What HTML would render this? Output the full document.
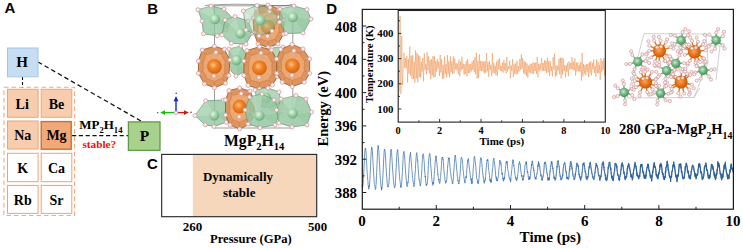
<!DOCTYPE html>
<html><head><meta charset="utf-8">
<style>
html,body{margin:0;padding:0;background:#fff;}
body{width:743px;height:248px;overflow:hidden;position:relative;}
svg{position:absolute;left:0;top:0;}
.sf{font-family:"Liberation Serif",serif;font-weight:bold;}
.ss{font-family:"Liberation Sans",sans-serif;font-weight:bold;}
</style></head><body>
<svg width="743" height="248" viewBox="0 0 743 248">
<defs>
<radialGradient id="gO" cx="0.42" cy="0.4" r="0.62">
 <stop offset="0" stop-color="#ffc68a"/><stop offset="0.4" stop-color="#f4862a"/><stop offset="1" stop-color="#d06410"/>
</radialGradient>
<radialGradient id="gG" cx="0.4" cy="0.38" r="0.65">
 <stop offset="0" stop-color="#e4f5e6"/><stop offset="0.5" stop-color="#9fd3a8"/><stop offset="1" stop-color="#6aa97a"/>
</radialGradient>
<radialGradient id="gG2" cx="0.42" cy="0.4" r="0.62">
 <stop offset="0" stop-color="#cdebd3"/><stop offset="0.5" stop-color="#74b684"/><stop offset="1" stop-color="#468c58"/>
</radialGradient>
<radialGradient id="gO2" cx="0.45" cy="0.45" r="0.6">
 <stop offset="0" stop-color="#fba55a"/><stop offset="0.5" stop-color="#e8741a"/><stop offset="1" stop-color="#b8560c"/>
</radialGradient>
<linearGradient id="gE" gradientUnits="userSpaceOnUse" x1="520" y1="0" x2="640" y2="0">
 <stop offset="0" stop-color="#2b5f98" stop-opacity="0"/><stop offset="1" stop-color="#2b5f98" stop-opacity="0.9"/>
</linearGradient>
</defs>

<!-- ===== Panel labels ===== -->
<text class="ss" x="4.5" y="13.4" font-size="15">A</text>
<text class="ss" x="147.3" y="13.6" font-size="15">B</text>
<text class="ss" x="147.1" y="168.5" font-size="15">C</text>
<text class="ss" x="326.3" y="13.5" font-size="15">D</text>

<!-- ===== Panel A ===== -->
<line x1="38" y1="62" x2="141" y2="121" stroke="#111" stroke-width="1.25" stroke-dasharray="4.6,3"/>
<line x1="22.5" y1="77" x2="22.5" y2="88" stroke="#111" stroke-width="1.1" stroke-dasharray="3,2"/>
<rect x="7.5" y="48" width="30.5" height="28.8" fill="#c7ddf2" stroke="#a3c6e8" stroke-width="1"/>
<text class="sf" x="22" y="66.5" font-size="15" text-anchor="middle">H</text>

<rect x="4" y="87.2" width="70.6" height="128.3" fill="none" stroke="#f2aa7a" stroke-width="1.1" stroke-dasharray="4.5,3"/>
<g stroke-width="1">
<rect x="7.5" y="89.3" width="30.6" height="28" fill="#f8cdae" stroke="#eda474"/>
<rect x="41.2" y="89.3" width="30.6" height="28" fill="#f8cdae" stroke="#eda474"/>
<rect x="7.5" y="121" width="30.6" height="28" fill="#f8cdae" stroke="#eda474"/>
<rect x="41.2" y="121.6" width="30" height="27.6" fill="#f3a877" stroke="#c87032" stroke-width="1.4"/>
<rect x="7.5" y="153.3" width="30.6" height="28.4" fill="#fff" stroke="#eda474"/>
<rect x="41.2" y="153.3" width="30.6" height="28.4" fill="#fff" stroke="#eda474"/>
<rect x="7.5" y="185.4" width="30.6" height="28" fill="#fff" stroke="#eda474"/>
<rect x="41.2" y="185.4" width="30.6" height="28" fill="#fff" stroke="#eda474"/>
</g>
<g class="sf" font-size="14" text-anchor="middle" fill="#000">
<text x="22.2" y="108.5">Li</text>
<text x="56.5" y="108.5">Be</text>
<text x="22.8" y="140.2">Na</text>
<text x="56.5" y="140.2">Mg</text>
<text x="22.8" y="172.7">K</text>
<text x="56.5" y="172.7">Ca</text>
<text x="22.8" y="204.6">Rb</text>
<text x="56.5" y="204.6">Sr</text>
</g>
<line x1="72" y1="135.6" x2="128" y2="135.6" stroke="#111" stroke-width="1.25" stroke-dasharray="4.2,2.6"/>
<text class="sf" x="79.2" y="129.2" font-size="13">MP<tspan font-size="8.6" dy="3.9">2</tspan><tspan dy="-3.9">H</tspan><tspan font-size="8.6" dy="3.9">14</tspan></text>
<text class="sf" x="99.3" y="148.3" font-size="11.2" fill="#f01010" text-anchor="middle">stable?</text>
<rect x="128.4" y="121.9" width="31.6" height="28.5" fill="#a9d18e" stroke="#5f9c45" stroke-width="1.3"/>
<text class="sf" x="144.6" y="141.2" font-size="15.5" text-anchor="middle">P</text>

<!-- ===== Panel B crystal ===== -->
<g id="crystalB">
<path d="M214.5,5.8 L292.8,5.8 M214.5,5.8 L214.5,128 M292.8,5.8 L292.8,128 M214.5,128 L292.8,128 M259.2,5.8 L259.2,128" stroke="#4a4a4a" stroke-width="0.55" fill="none"/>
<path d="M205,5.5 Q235,3.2 262,5 T292,4.2" stroke="#4a4a4a" stroke-width="0.55" fill="none"/>
<polygon points="256.0,8.0 268.0,5.0 279.0,9.0 284.0,20.0 283.5,34.0 278.0,44.0 268.0,47.4 258.0,44.0 254.0,33.0 253.0,18.0" fill="#dc9058" fill-opacity="0.95" stroke="#9c5420" stroke-width="0.8" stroke-linejoin="round"/>
<polygon points="259.6,13.7 268.0,11.6 275.7,14.4 279.2,22.1 278.9,31.9 275.0,38.9 268.0,41.3 261.0,38.9 258.2,31.2 257.5,20.7" fill="#eeab78" fill-opacity="0.8" stroke="#c47036" stroke-width="0.45"/>
<line x1="256.0" y1="8.0" x2="259.6" y2="13.7" stroke="#c46c2a" stroke-width="0.45"/>
<line x1="268.0" y1="5.0" x2="268.0" y2="11.6" stroke="#c46c2a" stroke-width="0.45"/>
<line x1="279.0" y1="9.0" x2="275.7" y2="14.4" stroke="#c46c2a" stroke-width="0.45"/>
<line x1="284.0" y1="20.0" x2="279.2" y2="22.1" stroke="#c46c2a" stroke-width="0.45"/>
<line x1="283.5" y1="34.0" x2="278.9" y2="31.9" stroke="#c46c2a" stroke-width="0.45"/>
<line x1="278.0" y1="44.0" x2="275.0" y2="38.9" stroke="#c46c2a" stroke-width="0.45"/>
<line x1="268.0" y1="47.4" x2="268.0" y2="41.3" stroke="#c46c2a" stroke-width="0.45"/>
<line x1="258.0" y1="44.0" x2="261.0" y2="38.9" stroke="#c46c2a" stroke-width="0.45"/>
<line x1="254.0" y1="33.0" x2="258.2" y2="31.2" stroke="#c46c2a" stroke-width="0.45"/>
<line x1="253.0" y1="18.0" x2="257.5" y2="20.7" stroke="#c46c2a" stroke-width="0.45"/>
<line x1="268" y1="27" x2="259.6" y2="13.7" stroke="#f6b37a" stroke-width="0.5"/>
<line x1="268" y1="27" x2="268.0" y2="11.6" stroke="#f6b37a" stroke-width="0.5"/>
<line x1="268" y1="27" x2="275.7" y2="14.4" stroke="#f6b37a" stroke-width="0.5"/>
<line x1="268" y1="27" x2="279.2" y2="22.1" stroke="#f6b37a" stroke-width="0.5"/>
<line x1="268" y1="27" x2="278.9" y2="31.9" stroke="#f6b37a" stroke-width="0.5"/>
<line x1="268" y1="27" x2="275.0" y2="38.9" stroke="#f6b37a" stroke-width="0.5"/>
<line x1="268" y1="27" x2="268.0" y2="41.3" stroke="#f6b37a" stroke-width="0.5"/>
<line x1="268" y1="27" x2="261.0" y2="38.9" stroke="#f6b37a" stroke-width="0.5"/>
<line x1="268" y1="27" x2="258.2" y2="31.2" stroke="#f6b37a" stroke-width="0.5"/>
<line x1="268" y1="27" x2="257.5" y2="20.7" stroke="#f6b37a" stroke-width="0.5"/>
<circle cx="268" cy="27" r="7.0" fill="url(#gO)"/>
<circle cx="256.0" cy="8.0" r="2.0" fill="#fbeeee" stroke="#d39595" stroke-width="0.75"/>
<circle cx="268.0" cy="5.0" r="2.0" fill="#fbeeee" stroke="#d39595" stroke-width="0.75"/>
<circle cx="279.0" cy="9.0" r="2.0" fill="#fbeeee" stroke="#d39595" stroke-width="0.75"/>
<circle cx="284.0" cy="20.0" r="2.0" fill="#fbeeee" stroke="#d39595" stroke-width="0.75"/>
<circle cx="283.5" cy="34.0" r="2.0" fill="#fbeeee" stroke="#d39595" stroke-width="0.75"/>
<circle cx="278.0" cy="44.0" r="2.0" fill="#fbeeee" stroke="#d39595" stroke-width="0.75"/>
<circle cx="268.0" cy="47.4" r="2.0" fill="#fbeeee" stroke="#d39595" stroke-width="0.75"/>
<circle cx="258.0" cy="44.0" r="2.0" fill="#fbeeee" stroke="#d39595" stroke-width="0.75"/>
<circle cx="254.0" cy="33.0" r="2.0" fill="#fbeeee" stroke="#d39595" stroke-width="0.75"/>
<circle cx="253.0" cy="18.0" r="2.0" fill="#fbeeee" stroke="#d39595" stroke-width="0.75"/>
<circle cx="269.5" cy="11.6" r="2.0" fill="#fbeeee" stroke="#d39595" stroke-width="0.75"/>
<circle cx="267.5" cy="36.2" r="2.0" fill="#fbeeee" stroke="#d39595" stroke-width="0.75"/>
<polygon points="198.0,9.7 211.0,6.0 224.0,9.0 233.3,19.0 226.0,30.0 217.2,35.8 203.5,33.8 202.0,21.0" fill="#93c6a0" fill-opacity="0.8" stroke="#5e9a6e" stroke-width="0.7" stroke-linejoin="round"/>
<line x1="214.8" y1="19.1" x2="198.0" y2="9.7" stroke="#bfe0c6" stroke-width="0.5" stroke-opacity="0.7"/>
<line x1="214.8" y1="19.1" x2="211.0" y2="6.0" stroke="#bfe0c6" stroke-width="0.5" stroke-opacity="0.7"/>
<line x1="214.8" y1="19.1" x2="224.0" y2="9.0" stroke="#bfe0c6" stroke-width="0.5" stroke-opacity="0.7"/>
<line x1="214.8" y1="19.1" x2="233.3" y2="19.0" stroke="#bfe0c6" stroke-width="0.5" stroke-opacity="0.7"/>
<line x1="214.8" y1="19.1" x2="226.0" y2="30.0" stroke="#bfe0c6" stroke-width="0.5" stroke-opacity="0.7"/>
<line x1="214.8" y1="19.1" x2="217.2" y2="35.8" stroke="#bfe0c6" stroke-width="0.5" stroke-opacity="0.7"/>
<line x1="214.8" y1="19.1" x2="203.5" y2="33.8" stroke="#bfe0c6" stroke-width="0.5" stroke-opacity="0.7"/>
<line x1="214.8" y1="19.1" x2="202.0" y2="21.0" stroke="#bfe0c6" stroke-width="0.5" stroke-opacity="0.7"/>
<polygon points="214.8,19.1 198.0,9.7 211.0,6.0" fill="#c4e4cb" fill-opacity="0.45"/>
<polygon points="214.8,19.1 233.3,19.0 226.0,30.0" fill="#7fbb90" fill-opacity="0.25"/>
<circle cx="214.8" cy="19.1" r="5.2" fill="url(#gG)"/>
<circle cx="198.0" cy="9.7" r="2.0" fill="#fbeeee" stroke="#d39595" stroke-width="0.75"/>
<circle cx="211.0" cy="6.0" r="2.0" fill="#fbeeee" stroke="#d39595" stroke-width="0.75"/>
<circle cx="224.0" cy="9.0" r="2.0" fill="#fbeeee" stroke="#d39595" stroke-width="0.75"/>
<circle cx="233.3" cy="19.0" r="2.0" fill="#fbeeee" stroke="#d39595" stroke-width="0.75"/>
<circle cx="226.0" cy="30.0" r="2.0" fill="#fbeeee" stroke="#d39595" stroke-width="0.75"/>
<circle cx="217.2" cy="35.8" r="2.0" fill="#fbeeee" stroke="#d39595" stroke-width="0.75"/>
<circle cx="203.5" cy="33.8" r="2.0" fill="#fbeeee" stroke="#d39595" stroke-width="0.75"/>
<circle cx="202.0" cy="21.0" r="2.0" fill="#fbeeee" stroke="#d39595" stroke-width="0.75"/>
<polygon points="225.0,20.0 235.0,16.5 248.0,21.0 252.5,33.0 246.0,44.0 231.3,43.3 222.0,35.0" fill="#93c6a0" fill-opacity="0.8" stroke="#5e9a6e" stroke-width="0.7" stroke-linejoin="round"/>
<line x1="240.3" y1="33.2" x2="225.0" y2="20.0" stroke="#bfe0c6" stroke-width="0.5" stroke-opacity="0.7"/>
<line x1="240.3" y1="33.2" x2="235.0" y2="16.5" stroke="#bfe0c6" stroke-width="0.5" stroke-opacity="0.7"/>
<line x1="240.3" y1="33.2" x2="248.0" y2="21.0" stroke="#bfe0c6" stroke-width="0.5" stroke-opacity="0.7"/>
<line x1="240.3" y1="33.2" x2="252.5" y2="33.0" stroke="#bfe0c6" stroke-width="0.5" stroke-opacity="0.7"/>
<line x1="240.3" y1="33.2" x2="246.0" y2="44.0" stroke="#bfe0c6" stroke-width="0.5" stroke-opacity="0.7"/>
<line x1="240.3" y1="33.2" x2="231.3" y2="43.3" stroke="#bfe0c6" stroke-width="0.5" stroke-opacity="0.7"/>
<line x1="240.3" y1="33.2" x2="222.0" y2="35.0" stroke="#bfe0c6" stroke-width="0.5" stroke-opacity="0.7"/>
<polygon points="240.3,33.2 225.0,20.0 235.0,16.5" fill="#c4e4cb" fill-opacity="0.45"/>
<polygon points="240.3,33.2 252.5,33.0 246.0,44.0" fill="#7fbb90" fill-opacity="0.25"/>
<circle cx="240.3" cy="33.2" r="5.2" fill="url(#gG)"/>
<circle cx="225.0" cy="20.0" r="2.0" fill="#fbeeee" stroke="#d39595" stroke-width="0.75"/>
<circle cx="235.0" cy="16.5" r="2.0" fill="#fbeeee" stroke="#d39595" stroke-width="0.75"/>
<circle cx="248.0" cy="21.0" r="2.0" fill="#fbeeee" stroke="#d39595" stroke-width="0.75"/>
<circle cx="252.5" cy="33.0" r="2.0" fill="#fbeeee" stroke="#d39595" stroke-width="0.75"/>
<circle cx="246.0" cy="44.0" r="2.0" fill="#fbeeee" stroke="#d39595" stroke-width="0.75"/>
<circle cx="231.3" cy="43.3" r="2.0" fill="#fbeeee" stroke="#d39595" stroke-width="0.75"/>
<circle cx="222.0" cy="35.0" r="2.0" fill="#fbeeee" stroke="#d39595" stroke-width="0.75"/>
<polygon points="243.3,11.0 257.0,5.5 270.0,7.5 279.0,17.0 272.0,31.0 259.0,36.0 246.0,30.0" fill="#93c6a0" fill-opacity="0.38" stroke="#5e9a6e" stroke-width="0.7" stroke-linejoin="round"/>
<line x1="260.2" y1="20.2" x2="243.3" y2="11.0" stroke="#bfe0c6" stroke-width="0.5" stroke-opacity="0.7"/>
<line x1="260.2" y1="20.2" x2="257.0" y2="5.5" stroke="#bfe0c6" stroke-width="0.5" stroke-opacity="0.7"/>
<line x1="260.2" y1="20.2" x2="270.0" y2="7.5" stroke="#bfe0c6" stroke-width="0.5" stroke-opacity="0.7"/>
<line x1="260.2" y1="20.2" x2="279.0" y2="17.0" stroke="#bfe0c6" stroke-width="0.5" stroke-opacity="0.7"/>
<line x1="260.2" y1="20.2" x2="272.0" y2="31.0" stroke="#bfe0c6" stroke-width="0.5" stroke-opacity="0.7"/>
<line x1="260.2" y1="20.2" x2="259.0" y2="36.0" stroke="#bfe0c6" stroke-width="0.5" stroke-opacity="0.7"/>
<line x1="260.2" y1="20.2" x2="246.0" y2="30.0" stroke="#bfe0c6" stroke-width="0.5" stroke-opacity="0.7"/>
<polygon points="260.2,20.2 243.3,11.0 257.0,5.5" fill="#c4e4cb" fill-opacity="0.45"/>
<polygon points="260.2,20.2 279.0,17.0 272.0,31.0" fill="#7fbb90" fill-opacity="0.25"/>
<circle cx="260.2" cy="20.2" r="5.2" fill="url(#gG)"/>
<circle cx="243.3" cy="11.0" r="2.0" fill="#fbeeee" stroke="#d39595" stroke-width="0.75"/>
<circle cx="257.0" cy="5.5" r="2.0" fill="#fbeeee" stroke="#d39595" stroke-width="0.75"/>
<circle cx="270.0" cy="7.5" r="2.0" fill="#fbeeee" stroke="#d39595" stroke-width="0.75"/>
<circle cx="279.0" cy="17.0" r="2.0" fill="#fbeeee" stroke="#d39595" stroke-width="0.75"/>
<circle cx="272.0" cy="31.0" r="2.0" fill="#fbeeee" stroke="#d39595" stroke-width="0.75"/>
<circle cx="259.0" cy="36.0" r="2.0" fill="#fbeeee" stroke="#d39595" stroke-width="0.75"/>
<circle cx="246.0" cy="30.0" r="2.0" fill="#fbeeee" stroke="#d39595" stroke-width="0.75"/>
<polygon points="280.0,9.0 294.0,6.0 307.0,9.5 311.0,19.0 303.0,33.0 286.0,33.5 279.5,22.0" fill="#93c6a0" fill-opacity="0.8" stroke="#5e9a6e" stroke-width="0.7" stroke-linejoin="round"/>
<line x1="292.8" y1="17.1" x2="280.0" y2="9.0" stroke="#bfe0c6" stroke-width="0.5" stroke-opacity="0.7"/>
<line x1="292.8" y1="17.1" x2="294.0" y2="6.0" stroke="#bfe0c6" stroke-width="0.5" stroke-opacity="0.7"/>
<line x1="292.8" y1="17.1" x2="307.0" y2="9.5" stroke="#bfe0c6" stroke-width="0.5" stroke-opacity="0.7"/>
<line x1="292.8" y1="17.1" x2="311.0" y2="19.0" stroke="#bfe0c6" stroke-width="0.5" stroke-opacity="0.7"/>
<line x1="292.8" y1="17.1" x2="303.0" y2="33.0" stroke="#bfe0c6" stroke-width="0.5" stroke-opacity="0.7"/>
<line x1="292.8" y1="17.1" x2="286.0" y2="33.5" stroke="#bfe0c6" stroke-width="0.5" stroke-opacity="0.7"/>
<line x1="292.8" y1="17.1" x2="279.5" y2="22.0" stroke="#bfe0c6" stroke-width="0.5" stroke-opacity="0.7"/>
<polygon points="292.8,17.1 280.0,9.0 294.0,6.0" fill="#c4e4cb" fill-opacity="0.45"/>
<polygon points="292.8,17.1 311.0,19.0 303.0,33.0" fill="#7fbb90" fill-opacity="0.25"/>
<circle cx="292.8" cy="17.1" r="5.2" fill="url(#gG)"/>
<circle cx="280.0" cy="9.0" r="2.0" fill="#fbeeee" stroke="#d39595" stroke-width="0.75"/>
<circle cx="294.0" cy="6.0" r="2.0" fill="#fbeeee" stroke="#d39595" stroke-width="0.75"/>
<circle cx="307.0" cy="9.5" r="2.0" fill="#fbeeee" stroke="#d39595" stroke-width="0.75"/>
<circle cx="311.0" cy="19.0" r="2.0" fill="#fbeeee" stroke="#d39595" stroke-width="0.75"/>
<circle cx="303.0" cy="33.0" r="2.0" fill="#fbeeee" stroke="#d39595" stroke-width="0.75"/>
<circle cx="286.0" cy="33.5" r="2.0" fill="#fbeeee" stroke="#d39595" stroke-width="0.75"/>
<circle cx="279.5" cy="22.0" r="2.0" fill="#fbeeee" stroke="#d39595" stroke-width="0.75"/>
<polygon points="229.0,49.0 241.0,46.0 247.0,56.0 246.0,71.0 236.0,76.0 229.0,69.0" fill="#93c6a0" fill-opacity="0.85" stroke="#5e9a6e" stroke-width="0.7" stroke-linejoin="round"/>
<line x1="236.5" y1="60" x2="229.0" y2="49.0" stroke="#bfe0c6" stroke-width="0.5" stroke-opacity="0.7"/>
<line x1="236.5" y1="60" x2="241.0" y2="46.0" stroke="#bfe0c6" stroke-width="0.5" stroke-opacity="0.7"/>
<line x1="236.5" y1="60" x2="247.0" y2="56.0" stroke="#bfe0c6" stroke-width="0.5" stroke-opacity="0.7"/>
<line x1="236.5" y1="60" x2="246.0" y2="71.0" stroke="#bfe0c6" stroke-width="0.5" stroke-opacity="0.7"/>
<line x1="236.5" y1="60" x2="236.0" y2="76.0" stroke="#bfe0c6" stroke-width="0.5" stroke-opacity="0.7"/>
<line x1="236.5" y1="60" x2="229.0" y2="69.0" stroke="#bfe0c6" stroke-width="0.5" stroke-opacity="0.7"/>
<polygon points="236.5,60.0 229.0,49.0 241.0,46.0" fill="#c4e4cb" fill-opacity="0.45"/>
<polygon points="236.5,60.0 246.0,71.0 236.0,76.0" fill="#7fbb90" fill-opacity="0.25"/>
<circle cx="236.5" cy="60" r="5.2" fill="url(#gG)"/>
<circle cx="229.0" cy="49.0" r="2.0" fill="#fbeeee" stroke="#d39595" stroke-width="0.75"/>
<circle cx="241.0" cy="46.0" r="2.0" fill="#fbeeee" stroke="#d39595" stroke-width="0.75"/>
<circle cx="247.0" cy="56.0" r="2.0" fill="#fbeeee" stroke="#d39595" stroke-width="0.75"/>
<circle cx="246.0" cy="71.0" r="2.0" fill="#fbeeee" stroke="#d39595" stroke-width="0.75"/>
<circle cx="236.0" cy="76.0" r="2.0" fill="#fbeeee" stroke="#d39595" stroke-width="0.75"/>
<circle cx="229.0" cy="69.0" r="2.0" fill="#fbeeee" stroke="#d39595" stroke-width="0.75"/>
<polygon points="272.0,48.0 283.0,47.0 285.0,60.0 283.0,76.0 274.0,79.0 271.0,64.0" fill="#93c6a0" fill-opacity="0.85" stroke="#5e9a6e" stroke-width="0.7" stroke-linejoin="round"/>
<line x1="278" y1="62" x2="272.0" y2="48.0" stroke="#bfe0c6" stroke-width="0.5" stroke-opacity="0.7"/>
<line x1="278" y1="62" x2="283.0" y2="47.0" stroke="#bfe0c6" stroke-width="0.5" stroke-opacity="0.7"/>
<line x1="278" y1="62" x2="285.0" y2="60.0" stroke="#bfe0c6" stroke-width="0.5" stroke-opacity="0.7"/>
<line x1="278" y1="62" x2="283.0" y2="76.0" stroke="#bfe0c6" stroke-width="0.5" stroke-opacity="0.7"/>
<line x1="278" y1="62" x2="274.0" y2="79.0" stroke="#bfe0c6" stroke-width="0.5" stroke-opacity="0.7"/>
<line x1="278" y1="62" x2="271.0" y2="64.0" stroke="#bfe0c6" stroke-width="0.5" stroke-opacity="0.7"/>
<polygon points="278.0,62.0 272.0,48.0 283.0,47.0" fill="#c4e4cb" fill-opacity="0.45"/>
<polygon points="278.0,62.0 283.0,76.0 274.0,79.0" fill="#7fbb90" fill-opacity="0.25"/>
<circle cx="278" cy="62" r="5.2" fill="url(#gG)"/>
<circle cx="272.0" cy="48.0" r="2.0" fill="#fbeeee" stroke="#d39595" stroke-width="0.75"/>
<circle cx="283.0" cy="47.0" r="2.0" fill="#fbeeee" stroke="#d39595" stroke-width="0.75"/>
<circle cx="285.0" cy="60.0" r="2.0" fill="#fbeeee" stroke="#d39595" stroke-width="0.75"/>
<circle cx="283.0" cy="76.0" r="2.0" fill="#fbeeee" stroke="#d39595" stroke-width="0.75"/>
<circle cx="274.0" cy="79.0" r="2.0" fill="#fbeeee" stroke="#d39595" stroke-width="0.75"/>
<circle cx="271.0" cy="64.0" r="2.0" fill="#fbeeee" stroke="#d39595" stroke-width="0.75"/>
<polygon points="202.2,50.0 214.4,46.2 224.4,49.3 229.9,60.0 228.8,75.5 225.5,83.2 214.4,87.7 204.4,83.9 198.4,73.3 198.4,61.0" fill="#dc9058" fill-opacity="0.95" stroke="#9c5420" stroke-width="0.8" stroke-linejoin="round"/>
<polygon points="205.9,54.9 214.4,52.3 221.4,54.4 225.2,61.9 224.5,72.8 222.2,78.2 214.4,81.3 207.4,78.7 203.2,71.2 203.2,62.6" fill="#eeab78" fill-opacity="0.8" stroke="#c47036" stroke-width="0.45"/>
<line x1="202.2" y1="50.0" x2="205.9" y2="54.9" stroke="#c46c2a" stroke-width="0.45"/>
<line x1="214.4" y1="46.2" x2="214.4" y2="52.3" stroke="#c46c2a" stroke-width="0.45"/>
<line x1="224.4" y1="49.3" x2="221.4" y2="54.4" stroke="#c46c2a" stroke-width="0.45"/>
<line x1="229.9" y1="60.0" x2="225.2" y2="61.9" stroke="#c46c2a" stroke-width="0.45"/>
<line x1="228.8" y1="75.5" x2="224.5" y2="72.8" stroke="#c46c2a" stroke-width="0.45"/>
<line x1="225.5" y1="83.2" x2="222.2" y2="78.2" stroke="#c46c2a" stroke-width="0.45"/>
<line x1="214.4" y1="87.7" x2="214.4" y2="81.3" stroke="#c46c2a" stroke-width="0.45"/>
<line x1="204.4" y1="83.9" x2="207.4" y2="78.7" stroke="#c46c2a" stroke-width="0.45"/>
<line x1="198.4" y1="73.3" x2="203.2" y2="71.2" stroke="#c46c2a" stroke-width="0.45"/>
<line x1="198.4" y1="61.0" x2="203.2" y2="62.6" stroke="#c46c2a" stroke-width="0.45"/>
<line x1="214.4" y1="66.4" x2="205.9" y2="54.9" stroke="#f6b37a" stroke-width="0.5"/>
<line x1="214.4" y1="66.4" x2="214.4" y2="52.3" stroke="#f6b37a" stroke-width="0.5"/>
<line x1="214.4" y1="66.4" x2="221.4" y2="54.4" stroke="#f6b37a" stroke-width="0.5"/>
<line x1="214.4" y1="66.4" x2="225.2" y2="61.9" stroke="#f6b37a" stroke-width="0.5"/>
<line x1="214.4" y1="66.4" x2="224.5" y2="72.8" stroke="#f6b37a" stroke-width="0.5"/>
<line x1="214.4" y1="66.4" x2="222.2" y2="78.2" stroke="#f6b37a" stroke-width="0.5"/>
<line x1="214.4" y1="66.4" x2="214.4" y2="81.3" stroke="#f6b37a" stroke-width="0.5"/>
<line x1="214.4" y1="66.4" x2="207.4" y2="78.7" stroke="#f6b37a" stroke-width="0.5"/>
<line x1="214.4" y1="66.4" x2="203.2" y2="71.2" stroke="#f6b37a" stroke-width="0.5"/>
<line x1="214.4" y1="66.4" x2="203.2" y2="62.6" stroke="#f6b37a" stroke-width="0.5"/>
<circle cx="214.4" cy="66.4" r="7.4" fill="url(#gO)"/>
<circle cx="202.2" cy="50.0" r="2.0" fill="#fbeeee" stroke="#d39595" stroke-width="0.75"/>
<circle cx="214.4" cy="46.2" r="2.0" fill="#fbeeee" stroke="#d39595" stroke-width="0.75"/>
<circle cx="224.4" cy="49.3" r="2.0" fill="#fbeeee" stroke="#d39595" stroke-width="0.75"/>
<circle cx="229.9" cy="60.0" r="2.0" fill="#fbeeee" stroke="#d39595" stroke-width="0.75"/>
<circle cx="228.8" cy="75.5" r="2.0" fill="#fbeeee" stroke="#d39595" stroke-width="0.75"/>
<circle cx="225.5" cy="83.2" r="2.0" fill="#fbeeee" stroke="#d39595" stroke-width="0.75"/>
<circle cx="214.4" cy="87.7" r="2.0" fill="#fbeeee" stroke="#d39595" stroke-width="0.75"/>
<circle cx="204.4" cy="83.9" r="2.0" fill="#fbeeee" stroke="#d39595" stroke-width="0.75"/>
<circle cx="198.4" cy="73.3" r="2.0" fill="#fbeeee" stroke="#d39595" stroke-width="0.75"/>
<circle cx="198.4" cy="61.0" r="2.0" fill="#fbeeee" stroke="#d39595" stroke-width="0.75"/>
<circle cx="215.9" cy="52.3" r="2.0" fill="#fbeeee" stroke="#d39595" stroke-width="0.75"/>
<circle cx="213.9" cy="76.0" r="2.0" fill="#fbeeee" stroke="#d39595" stroke-width="0.75"/>
<polygon points="247.0,50.5 259.5,46.7 271.5,50.0 277.2,60.5 277.2,76.5 272.5,85.0 259.5,89.0 248.0,85.5 243.9,75.5 243.9,61.0" fill="#dc9058" fill-opacity="0.95" stroke="#9c5420" stroke-width="0.8" stroke-linejoin="round"/>
<polygon points="250.7,55.7 259.5,53.0 267.9,55.3 271.9,62.7 271.9,73.9 268.6,79.8 259.5,82.6 251.4,80.2 248.6,73.2 248.6,63.0" fill="#eeab78" fill-opacity="0.8" stroke="#c47036" stroke-width="0.45"/>
<line x1="247.0" y1="50.5" x2="250.7" y2="55.7" stroke="#c46c2a" stroke-width="0.45"/>
<line x1="259.5" y1="46.7" x2="259.5" y2="53.0" stroke="#c46c2a" stroke-width="0.45"/>
<line x1="271.5" y1="50.0" x2="267.9" y2="55.3" stroke="#c46c2a" stroke-width="0.45"/>
<line x1="277.2" y1="60.5" x2="271.9" y2="62.7" stroke="#c46c2a" stroke-width="0.45"/>
<line x1="277.2" y1="76.5" x2="271.9" y2="73.9" stroke="#c46c2a" stroke-width="0.45"/>
<line x1="272.5" y1="85.0" x2="268.6" y2="79.8" stroke="#c46c2a" stroke-width="0.45"/>
<line x1="259.5" y1="89.0" x2="259.5" y2="82.6" stroke="#c46c2a" stroke-width="0.45"/>
<line x1="248.0" y1="85.5" x2="251.4" y2="80.2" stroke="#c46c2a" stroke-width="0.45"/>
<line x1="243.9" y1="75.5" x2="248.6" y2="73.2" stroke="#c46c2a" stroke-width="0.45"/>
<line x1="243.9" y1="61.0" x2="248.6" y2="63.0" stroke="#c46c2a" stroke-width="0.45"/>
<line x1="259.4" y1="67.8" x2="250.7" y2="55.7" stroke="#f6b37a" stroke-width="0.5"/>
<line x1="259.4" y1="67.8" x2="259.5" y2="53.0" stroke="#f6b37a" stroke-width="0.5"/>
<line x1="259.4" y1="67.8" x2="267.9" y2="55.3" stroke="#f6b37a" stroke-width="0.5"/>
<line x1="259.4" y1="67.8" x2="271.9" y2="62.7" stroke="#f6b37a" stroke-width="0.5"/>
<line x1="259.4" y1="67.8" x2="271.9" y2="73.9" stroke="#f6b37a" stroke-width="0.5"/>
<line x1="259.4" y1="67.8" x2="268.6" y2="79.8" stroke="#f6b37a" stroke-width="0.5"/>
<line x1="259.4" y1="67.8" x2="259.5" y2="82.6" stroke="#f6b37a" stroke-width="0.5"/>
<line x1="259.4" y1="67.8" x2="251.4" y2="80.2" stroke="#f6b37a" stroke-width="0.5"/>
<line x1="259.4" y1="67.8" x2="248.6" y2="73.2" stroke="#f6b37a" stroke-width="0.5"/>
<line x1="259.4" y1="67.8" x2="248.6" y2="63.0" stroke="#f6b37a" stroke-width="0.5"/>
<circle cx="259.4" cy="67.8" r="7.4" fill="url(#gO)"/>
<circle cx="247.0" cy="50.5" r="2.0" fill="#fbeeee" stroke="#d39595" stroke-width="0.75"/>
<circle cx="259.5" cy="46.7" r="2.0" fill="#fbeeee" stroke="#d39595" stroke-width="0.75"/>
<circle cx="271.5" cy="50.0" r="2.0" fill="#fbeeee" stroke="#d39595" stroke-width="0.75"/>
<circle cx="277.2" cy="60.5" r="2.0" fill="#fbeeee" stroke="#d39595" stroke-width="0.75"/>
<circle cx="277.2" cy="76.5" r="2.0" fill="#fbeeee" stroke="#d39595" stroke-width="0.75"/>
<circle cx="272.5" cy="85.0" r="2.0" fill="#fbeeee" stroke="#d39595" stroke-width="0.75"/>
<circle cx="259.5" cy="89.0" r="2.0" fill="#fbeeee" stroke="#d39595" stroke-width="0.75"/>
<circle cx="248.0" cy="85.5" r="2.0" fill="#fbeeee" stroke="#d39595" stroke-width="0.75"/>
<circle cx="243.9" cy="75.5" r="2.0" fill="#fbeeee" stroke="#d39595" stroke-width="0.75"/>
<circle cx="243.9" cy="61.0" r="2.0" fill="#fbeeee" stroke="#d39595" stroke-width="0.75"/>
<circle cx="260.9" cy="53.0" r="2.0" fill="#fbeeee" stroke="#d39595" stroke-width="0.75"/>
<circle cx="258.9" cy="77.3" r="2.0" fill="#fbeeee" stroke="#d39595" stroke-width="0.75"/>
<polygon points="280.7,49.3 292.2,44.4 302.9,48.9 309.6,58.9 309.6,73.3 304.4,82.2 292.2,86.7 282.2,82.2 276.7,73.3 276.7,58.9" fill="#dc9058" fill-opacity="0.95" stroke="#9c5420" stroke-width="0.8" stroke-linejoin="round"/>
<polygon points="284.2,54.2 292.3,50.8 299.8,54.0 304.4,61.0 304.4,71.0 300.8,77.3 292.3,80.4 285.3,77.3 281.4,71.0 281.4,61.0" fill="#eeab78" fill-opacity="0.8" stroke="#c47036" stroke-width="0.45"/>
<line x1="280.7" y1="49.3" x2="284.2" y2="54.2" stroke="#c46c2a" stroke-width="0.45"/>
<line x1="292.2" y1="44.4" x2="292.3" y2="50.8" stroke="#c46c2a" stroke-width="0.45"/>
<line x1="302.9" y1="48.9" x2="299.8" y2="54.0" stroke="#c46c2a" stroke-width="0.45"/>
<line x1="309.6" y1="58.9" x2="304.4" y2="61.0" stroke="#c46c2a" stroke-width="0.45"/>
<line x1="309.6" y1="73.3" x2="304.4" y2="71.0" stroke="#c46c2a" stroke-width="0.45"/>
<line x1="304.4" y1="82.2" x2="300.8" y2="77.3" stroke="#c46c2a" stroke-width="0.45"/>
<line x1="292.2" y1="86.7" x2="292.3" y2="80.4" stroke="#c46c2a" stroke-width="0.45"/>
<line x1="282.2" y1="82.2" x2="285.3" y2="77.3" stroke="#c46c2a" stroke-width="0.45"/>
<line x1="276.7" y1="73.3" x2="281.4" y2="71.0" stroke="#c46c2a" stroke-width="0.45"/>
<line x1="276.7" y1="58.9" x2="281.4" y2="61.0" stroke="#c46c2a" stroke-width="0.45"/>
<line x1="292.4" y1="65.8" x2="284.2" y2="54.2" stroke="#f6b37a" stroke-width="0.5"/>
<line x1="292.4" y1="65.8" x2="292.3" y2="50.8" stroke="#f6b37a" stroke-width="0.5"/>
<line x1="292.4" y1="65.8" x2="299.8" y2="54.0" stroke="#f6b37a" stroke-width="0.5"/>
<line x1="292.4" y1="65.8" x2="304.4" y2="61.0" stroke="#f6b37a" stroke-width="0.5"/>
<line x1="292.4" y1="65.8" x2="304.4" y2="71.0" stroke="#f6b37a" stroke-width="0.5"/>
<line x1="292.4" y1="65.8" x2="300.8" y2="77.3" stroke="#f6b37a" stroke-width="0.5"/>
<line x1="292.4" y1="65.8" x2="292.3" y2="80.4" stroke="#f6b37a" stroke-width="0.5"/>
<line x1="292.4" y1="65.8" x2="285.3" y2="77.3" stroke="#f6b37a" stroke-width="0.5"/>
<line x1="292.4" y1="65.8" x2="281.4" y2="71.0" stroke="#f6b37a" stroke-width="0.5"/>
<line x1="292.4" y1="65.8" x2="281.4" y2="61.0" stroke="#f6b37a" stroke-width="0.5"/>
<circle cx="292.4" cy="65.8" r="7.4" fill="url(#gO)"/>
<circle cx="280.7" cy="49.3" r="2.0" fill="#fbeeee" stroke="#d39595" stroke-width="0.75"/>
<circle cx="292.2" cy="44.4" r="2.0" fill="#fbeeee" stroke="#d39595" stroke-width="0.75"/>
<circle cx="302.9" cy="48.9" r="2.0" fill="#fbeeee" stroke="#d39595" stroke-width="0.75"/>
<circle cx="309.6" cy="58.9" r="2.0" fill="#fbeeee" stroke="#d39595" stroke-width="0.75"/>
<circle cx="309.6" cy="73.3" r="2.0" fill="#fbeeee" stroke="#d39595" stroke-width="0.75"/>
<circle cx="304.4" cy="82.2" r="2.0" fill="#fbeeee" stroke="#d39595" stroke-width="0.75"/>
<circle cx="292.2" cy="86.7" r="2.0" fill="#fbeeee" stroke="#d39595" stroke-width="0.75"/>
<circle cx="282.2" cy="82.2" r="2.0" fill="#fbeeee" stroke="#d39595" stroke-width="0.75"/>
<circle cx="276.7" cy="73.3" r="2.0" fill="#fbeeee" stroke="#d39595" stroke-width="0.75"/>
<circle cx="276.7" cy="58.9" r="2.0" fill="#fbeeee" stroke="#d39595" stroke-width="0.75"/>
<circle cx="293.9" cy="50.8" r="2.0" fill="#fbeeee" stroke="#d39595" stroke-width="0.75"/>
<circle cx="291.9" cy="75.2" r="2.0" fill="#fbeeee" stroke="#d39595" stroke-width="0.75"/>
<polygon points="255.0,90.0 268.0,88.0 279.0,92.0 281.0,102.0 272.0,108.0 258.0,106.0" fill="#93c6a0" fill-opacity="0.7" stroke="#5e9a6e" stroke-width="0.7" stroke-linejoin="round"/>
<line x1="266" y1="97.7" x2="255.0" y2="90.0" stroke="#bfe0c6" stroke-width="0.5" stroke-opacity="0.7"/>
<line x1="266" y1="97.7" x2="268.0" y2="88.0" stroke="#bfe0c6" stroke-width="0.5" stroke-opacity="0.7"/>
<line x1="266" y1="97.7" x2="279.0" y2="92.0" stroke="#bfe0c6" stroke-width="0.5" stroke-opacity="0.7"/>
<line x1="266" y1="97.7" x2="281.0" y2="102.0" stroke="#bfe0c6" stroke-width="0.5" stroke-opacity="0.7"/>
<line x1="266" y1="97.7" x2="272.0" y2="108.0" stroke="#bfe0c6" stroke-width="0.5" stroke-opacity="0.7"/>
<line x1="266" y1="97.7" x2="258.0" y2="106.0" stroke="#bfe0c6" stroke-width="0.5" stroke-opacity="0.7"/>
<polygon points="266.0,97.7 255.0,90.0 268.0,88.0" fill="#c4e4cb" fill-opacity="0.45"/>
<polygon points="266.0,97.7 281.0,102.0 272.0,108.0" fill="#7fbb90" fill-opacity="0.25"/>
<circle cx="266" cy="97.7" r="5.2" fill="url(#gG)"/>
<circle cx="255.0" cy="90.0" r="2.0" fill="#fbeeee" stroke="#d39595" stroke-width="0.75"/>
<circle cx="268.0" cy="88.0" r="2.0" fill="#fbeeee" stroke="#d39595" stroke-width="0.75"/>
<circle cx="279.0" cy="92.0" r="2.0" fill="#fbeeee" stroke="#d39595" stroke-width="0.75"/>
<circle cx="281.0" cy="102.0" r="2.0" fill="#fbeeee" stroke="#d39595" stroke-width="0.75"/>
<circle cx="272.0" cy="108.0" r="2.0" fill="#fbeeee" stroke="#d39595" stroke-width="0.75"/>
<circle cx="258.0" cy="106.0" r="2.0" fill="#fbeeee" stroke="#d39595" stroke-width="0.75"/>
<polygon points="195.0,115.6 205.7,100.7 223.2,100.1 229.5,108.0 226.2,122.2 214.0,126.5 205.1,124.8" fill="#93c6a0" fill-opacity="0.8" stroke="#5e9a6e" stroke-width="0.7" stroke-linejoin="round"/>
<line x1="214.1" y1="115.2" x2="195.0" y2="115.6" stroke="#bfe0c6" stroke-width="0.5" stroke-opacity="0.7"/>
<line x1="214.1" y1="115.2" x2="205.7" y2="100.7" stroke="#bfe0c6" stroke-width="0.5" stroke-opacity="0.7"/>
<line x1="214.1" y1="115.2" x2="223.2" y2="100.1" stroke="#bfe0c6" stroke-width="0.5" stroke-opacity="0.7"/>
<line x1="214.1" y1="115.2" x2="229.5" y2="108.0" stroke="#bfe0c6" stroke-width="0.5" stroke-opacity="0.7"/>
<line x1="214.1" y1="115.2" x2="226.2" y2="122.2" stroke="#bfe0c6" stroke-width="0.5" stroke-opacity="0.7"/>
<line x1="214.1" y1="115.2" x2="214.0" y2="126.5" stroke="#bfe0c6" stroke-width="0.5" stroke-opacity="0.7"/>
<line x1="214.1" y1="115.2" x2="205.1" y2="124.8" stroke="#bfe0c6" stroke-width="0.5" stroke-opacity="0.7"/>
<polygon points="214.1,115.2 195.0,115.6 205.7,100.7" fill="#c4e4cb" fill-opacity="0.45"/>
<polygon points="214.1,115.2 229.5,108.0 226.2,122.2" fill="#7fbb90" fill-opacity="0.25"/>
<circle cx="214.1" cy="115.2" r="5.2" fill="url(#gG)"/>
<circle cx="195.0" cy="115.6" r="2.0" fill="#fbeeee" stroke="#d39595" stroke-width="0.75"/>
<circle cx="205.7" cy="100.7" r="2.0" fill="#fbeeee" stroke="#d39595" stroke-width="0.75"/>
<circle cx="223.2" cy="100.1" r="2.0" fill="#fbeeee" stroke="#d39595" stroke-width="0.75"/>
<circle cx="229.5" cy="108.0" r="2.0" fill="#fbeeee" stroke="#d39595" stroke-width="0.75"/>
<circle cx="226.2" cy="122.2" r="2.0" fill="#fbeeee" stroke="#d39595" stroke-width="0.75"/>
<circle cx="214.0" cy="126.5" r="2.0" fill="#fbeeee" stroke="#d39595" stroke-width="0.75"/>
<circle cx="205.1" cy="124.8" r="2.0" fill="#fbeeee" stroke="#d39595" stroke-width="0.75"/>
<polygon points="229.0,90.5 239.6,88.0 250.0,91.0 254.5,101.0 254.0,115.0 250.0,124.0 239.6,129.0 230.0,125.0 225.5,115.0 225.5,100.0" fill="#dc9058" fill-opacity="0.95" stroke="#9c5420" stroke-width="0.8" stroke-linejoin="round"/>
<polygon points="232.2,95.3 239.6,93.6 246.9,95.7 250.0,102.7 249.7,112.5 246.9,118.8 239.6,122.3 232.9,119.5 229.7,112.5 229.7,102.0" fill="#eeab78" fill-opacity="0.8" stroke="#c47036" stroke-width="0.45"/>
<line x1="229.0" y1="90.5" x2="232.2" y2="95.3" stroke="#c46c2a" stroke-width="0.45"/>
<line x1="239.6" y1="88.0" x2="239.6" y2="93.6" stroke="#c46c2a" stroke-width="0.45"/>
<line x1="250.0" y1="91.0" x2="246.9" y2="95.7" stroke="#c46c2a" stroke-width="0.45"/>
<line x1="254.5" y1="101.0" x2="250.0" y2="102.7" stroke="#c46c2a" stroke-width="0.45"/>
<line x1="254.0" y1="115.0" x2="249.7" y2="112.5" stroke="#c46c2a" stroke-width="0.45"/>
<line x1="250.0" y1="124.0" x2="246.9" y2="118.8" stroke="#c46c2a" stroke-width="0.45"/>
<line x1="239.6" y1="129.0" x2="239.6" y2="122.3" stroke="#c46c2a" stroke-width="0.45"/>
<line x1="230.0" y1="125.0" x2="232.9" y2="119.5" stroke="#c46c2a" stroke-width="0.45"/>
<line x1="225.5" y1="115.0" x2="229.7" y2="112.5" stroke="#c46c2a" stroke-width="0.45"/>
<line x1="225.5" y1="100.0" x2="229.7" y2="102.0" stroke="#c46c2a" stroke-width="0.45"/>
<line x1="239.6" y1="106.6" x2="232.2" y2="95.3" stroke="#f6b37a" stroke-width="0.5"/>
<line x1="239.6" y1="106.6" x2="239.6" y2="93.6" stroke="#f6b37a" stroke-width="0.5"/>
<line x1="239.6" y1="106.6" x2="246.9" y2="95.7" stroke="#f6b37a" stroke-width="0.5"/>
<line x1="239.6" y1="106.6" x2="250.0" y2="102.7" stroke="#f6b37a" stroke-width="0.5"/>
<line x1="239.6" y1="106.6" x2="249.7" y2="112.5" stroke="#f6b37a" stroke-width="0.5"/>
<line x1="239.6" y1="106.6" x2="246.9" y2="118.8" stroke="#f6b37a" stroke-width="0.5"/>
<line x1="239.6" y1="106.6" x2="239.6" y2="122.3" stroke="#f6b37a" stroke-width="0.5"/>
<line x1="239.6" y1="106.6" x2="232.9" y2="119.5" stroke="#f6b37a" stroke-width="0.5"/>
<line x1="239.6" y1="106.6" x2="229.7" y2="112.5" stroke="#f6b37a" stroke-width="0.5"/>
<line x1="239.6" y1="106.6" x2="229.7" y2="102.0" stroke="#f6b37a" stroke-width="0.5"/>
<circle cx="239.6" cy="106.6" r="7.0" fill="url(#gO)"/>
<circle cx="229.0" cy="90.5" r="2.0" fill="#fbeeee" stroke="#d39595" stroke-width="0.75"/>
<circle cx="239.6" cy="88.0" r="2.0" fill="#fbeeee" stroke="#d39595" stroke-width="0.75"/>
<circle cx="250.0" cy="91.0" r="2.0" fill="#fbeeee" stroke="#d39595" stroke-width="0.75"/>
<circle cx="254.5" cy="101.0" r="2.0" fill="#fbeeee" stroke="#d39595" stroke-width="0.75"/>
<circle cx="254.0" cy="115.0" r="2.0" fill="#fbeeee" stroke="#d39595" stroke-width="0.75"/>
<circle cx="250.0" cy="124.0" r="2.0" fill="#fbeeee" stroke="#d39595" stroke-width="0.75"/>
<circle cx="239.6" cy="129.0" r="2.0" fill="#fbeeee" stroke="#d39595" stroke-width="0.75"/>
<circle cx="230.0" cy="125.0" r="2.0" fill="#fbeeee" stroke="#d39595" stroke-width="0.75"/>
<circle cx="225.5" cy="115.0" r="2.0" fill="#fbeeee" stroke="#d39595" stroke-width="0.75"/>
<circle cx="225.5" cy="100.0" r="2.0" fill="#fbeeee" stroke="#d39595" stroke-width="0.75"/>
<circle cx="241.1" cy="93.6" r="2.0" fill="#fbeeee" stroke="#d39595" stroke-width="0.75"/>
<circle cx="239.1" cy="116.7" r="2.0" fill="#fbeeee" stroke="#d39595" stroke-width="0.75"/>
<polygon points="249.4,97.0 262.0,94.0 274.0,100.0 280.5,112.0 275.0,125.0 260.0,127.7 248.0,124.0 245.0,110.0" fill="#93c6a0" fill-opacity="0.82" stroke="#5e9a6e" stroke-width="0.7" stroke-linejoin="round"/>
<line x1="259.4" y1="115.5" x2="249.4" y2="97.0" stroke="#bfe0c6" stroke-width="0.5" stroke-opacity="0.7"/>
<line x1="259.4" y1="115.5" x2="262.0" y2="94.0" stroke="#bfe0c6" stroke-width="0.5" stroke-opacity="0.7"/>
<line x1="259.4" y1="115.5" x2="274.0" y2="100.0" stroke="#bfe0c6" stroke-width="0.5" stroke-opacity="0.7"/>
<line x1="259.4" y1="115.5" x2="280.5" y2="112.0" stroke="#bfe0c6" stroke-width="0.5" stroke-opacity="0.7"/>
<line x1="259.4" y1="115.5" x2="275.0" y2="125.0" stroke="#bfe0c6" stroke-width="0.5" stroke-opacity="0.7"/>
<line x1="259.4" y1="115.5" x2="260.0" y2="127.7" stroke="#bfe0c6" stroke-width="0.5" stroke-opacity="0.7"/>
<line x1="259.4" y1="115.5" x2="248.0" y2="124.0" stroke="#bfe0c6" stroke-width="0.5" stroke-opacity="0.7"/>
<line x1="259.4" y1="115.5" x2="245.0" y2="110.0" stroke="#bfe0c6" stroke-width="0.5" stroke-opacity="0.7"/>
<polygon points="259.4,115.5 249.4,97.0 262.0,94.0" fill="#c4e4cb" fill-opacity="0.45"/>
<polygon points="259.4,115.5 280.5,112.0 275.0,125.0" fill="#7fbb90" fill-opacity="0.25"/>
<circle cx="259.4" cy="115.5" r="5.2" fill="url(#gG)"/>
<circle cx="249.4" cy="97.0" r="2.0" fill="#fbeeee" stroke="#d39595" stroke-width="0.75"/>
<circle cx="262.0" cy="94.0" r="2.0" fill="#fbeeee" stroke="#d39595" stroke-width="0.75"/>
<circle cx="274.0" cy="100.0" r="2.0" fill="#fbeeee" stroke="#d39595" stroke-width="0.75"/>
<circle cx="280.5" cy="112.0" r="2.0" fill="#fbeeee" stroke="#d39595" stroke-width="0.75"/>
<circle cx="275.0" cy="125.0" r="2.0" fill="#fbeeee" stroke="#d39595" stroke-width="0.75"/>
<circle cx="260.0" cy="127.7" r="2.0" fill="#fbeeee" stroke="#d39595" stroke-width="0.75"/>
<circle cx="248.0" cy="124.0" r="2.0" fill="#fbeeee" stroke="#d39595" stroke-width="0.75"/>
<circle cx="245.0" cy="110.0" r="2.0" fill="#fbeeee" stroke="#d39595" stroke-width="0.75"/>
<polygon points="281.0,99.0 296.0,95.5 306.0,99.0 311.5,112.0 307.0,125.0 292.0,127.0 279.0,123.0 276.5,110.0" fill="#93c6a0" fill-opacity="0.82" stroke="#5e9a6e" stroke-width="0.7" stroke-linejoin="round"/>
<line x1="292.7" y1="113.3" x2="281.0" y2="99.0" stroke="#bfe0c6" stroke-width="0.5" stroke-opacity="0.7"/>
<line x1="292.7" y1="113.3" x2="296.0" y2="95.5" stroke="#bfe0c6" stroke-width="0.5" stroke-opacity="0.7"/>
<line x1="292.7" y1="113.3" x2="306.0" y2="99.0" stroke="#bfe0c6" stroke-width="0.5" stroke-opacity="0.7"/>
<line x1="292.7" y1="113.3" x2="311.5" y2="112.0" stroke="#bfe0c6" stroke-width="0.5" stroke-opacity="0.7"/>
<line x1="292.7" y1="113.3" x2="307.0" y2="125.0" stroke="#bfe0c6" stroke-width="0.5" stroke-opacity="0.7"/>
<line x1="292.7" y1="113.3" x2="292.0" y2="127.0" stroke="#bfe0c6" stroke-width="0.5" stroke-opacity="0.7"/>
<line x1="292.7" y1="113.3" x2="279.0" y2="123.0" stroke="#bfe0c6" stroke-width="0.5" stroke-opacity="0.7"/>
<line x1="292.7" y1="113.3" x2="276.5" y2="110.0" stroke="#bfe0c6" stroke-width="0.5" stroke-opacity="0.7"/>
<polygon points="292.7,113.3 281.0,99.0 296.0,95.5" fill="#c4e4cb" fill-opacity="0.45"/>
<polygon points="292.7,113.3 311.5,112.0 307.0,125.0" fill="#7fbb90" fill-opacity="0.25"/>
<circle cx="292.7" cy="113.3" r="5.2" fill="url(#gG)"/>
<circle cx="281.0" cy="99.0" r="2.0" fill="#fbeeee" stroke="#d39595" stroke-width="0.75"/>
<circle cx="296.0" cy="95.5" r="2.0" fill="#fbeeee" stroke="#d39595" stroke-width="0.75"/>
<circle cx="306.0" cy="99.0" r="2.0" fill="#fbeeee" stroke="#d39595" stroke-width="0.75"/>
<circle cx="311.5" cy="112.0" r="2.0" fill="#fbeeee" stroke="#d39595" stroke-width="0.75"/>
<circle cx="307.0" cy="125.0" r="2.0" fill="#fbeeee" stroke="#d39595" stroke-width="0.75"/>
<circle cx="292.0" cy="127.0" r="2.0" fill="#fbeeee" stroke="#d39595" stroke-width="0.75"/>
<circle cx="279.0" cy="123.0" r="2.0" fill="#fbeeee" stroke="#d39595" stroke-width="0.75"/>
<circle cx="276.5" cy="110.0" r="2.0" fill="#fbeeee" stroke="#d39595" stroke-width="0.75"/>
</g>
<!-- axes indicator -->
<g stroke-width="1.4" fill="none">
<line x1="176" y1="112.6" x2="176" y2="99" stroke="#1424dc"/>
<line x1="176" y1="112.6" x2="163" y2="112.6" stroke="#1cba1c"/>
<line x1="176" y1="112.6" x2="186" y2="112.6" stroke="#c41c1c"/>
</g>
<polygon points="176,96 173.6,101.2 178.4,101.2" fill="#1424dc"/>
<polygon points="160.2,112.6 165,110.3 165,114.9" fill="#1cba1c"/>
<polygon points="188.8,112.6 184,110.3 184,114.9" fill="#c41c1c"/>
<circle cx="176" cy="112.8" r="1.9" fill="#f2f2f2" stroke="#999" stroke-width="0.6"/>
<circle cx="176.2" cy="93.2" r="0.8" fill="#444"/>
<circle cx="157.8" cy="112.8" r="0.7" fill="#444"/>
<circle cx="191" cy="112.3" r="0.8" fill="#444"/>

<text class="sf" x="224" y="146.3" font-size="15.7">MgP<tspan font-size="10.6" dy="3.7">2</tspan><tspan dy="-3.7">H</tspan><tspan font-size="10.6" dy="3.7">14</tspan></text>

<!-- ===== Panel C ===== -->
<rect x="192.8" y="154.8" width="123.6" height="61.6" fill="#f7d7bb"/>
<rect x="161.7" y="154.4" width="155" height="62.3" fill="none" stroke="#222" stroke-width="1.1"/>
<text class="sf" x="238" y="180.9" font-size="13" text-anchor="middle">Dynamically</text>
<text class="sf" x="239.2" y="197.2" font-size="13" text-anchor="middle">stable</text>
<text class="sf" x="192.5" y="231.4" font-size="13" text-anchor="middle">260</text>
<text class="sf" x="317.5" y="231.4" font-size="12.8" text-anchor="middle">500</text>
<text class="sf" x="250.9" y="243" font-size="12.6" text-anchor="middle">Pressure (GPa)</text>

<!-- ===== Panel D main axes ===== -->
<path d="M362.10,184.56 L362.24,185.69 L362.39,187.88 L362.53,187.96 L362.67,187.05 L362.81,186.56 L362.96,184.89 L363.10,184.62 L363.24,182.43 L363.38,179.76 L363.53,178.12 L363.67,175.78 L363.81,172.54 L363.96,169.65 L364.10,166.15 L364.24,163.26 L364.38,159.76 L364.53,156.02 L364.67,153.65 L364.81,151.68 L364.95,149.86 L365.10,149.13 L365.24,148.58 L365.38,149.07 L365.52,148.13 L365.67,148.89 L365.81,150.07 L365.95,152.13 L366.10,153.11 L366.24,155.57 L366.38,158.72 L366.52,161.43 L366.67,163.81 L366.81,166.45 L366.95,169.54 L367.09,171.51 L367.24,173.56 L367.38,175.70 L367.52,176.36 L367.67,179.51 L367.81,180.22 L367.95,181.50 L368.09,184.75 L368.24,185.16 L368.38,186.67 L368.52,186.74 L368.66,186.42 L368.81,189.23 L368.95,187.42 L369.09,186.26 L369.23,187.00 L369.38,185.06 L369.52,185.65 L369.66,182.87 L369.81,181.74 L369.95,178.36 L370.09,175.35 L370.23,172.16 L370.38,169.96 L370.52,165.57 L370.66,162.24 L370.80,158.72 L370.95,157.05 L371.09,154.44 L371.23,151.54 L371.38,150.07 L371.52,147.82 L371.66,146.99 L371.80,146.95 L371.95,147.99 L372.09,148.68 L372.23,149.26 L372.37,151.14 L372.52,154.47 L372.66,156.81 L372.80,158.03 L372.94,161.24 L373.09,163.80 L373.23,166.81 L373.37,167.90 L373.52,171.03 L373.66,173.68 L373.80,175.88 L373.94,178.43 L374.09,179.70 L374.23,182.56 L374.37,183.25 L374.51,184.50 L374.66,185.17 L374.80,185.39 L374.94,186.96 L375.09,187.31 L375.23,189.49 L375.37,189.29 L375.51,189.38 L375.66,188.88 L375.80,188.64 L375.94,185.59 L376.08,184.37 L376.23,182.03 L376.37,179.05 L376.51,175.68 L376.65,172.57 L376.80,168.95 L376.94,165.50 L377.08,163.11 L377.23,159.94 L377.37,155.63 L377.51,152.11 L377.65,149.31 L377.80,148.39 L377.94,145.71 L378.08,145.33 L378.22,145.24 L378.37,145.50 L378.51,146.72 L378.65,150.14 L378.80,150.55 L378.94,152.34 L379.08,156.16 L379.22,158.11 L379.37,160.60 L379.51,163.13 L379.65,166.14 L379.79,169.25 L379.94,171.88 L380.08,174.95 L380.22,177.35 L380.36,179.50 L380.51,180.32 L380.65,182.72 L380.79,183.77 L380.94,184.97 L381.08,187.23 L381.22,188.02 L381.36,188.29 L381.51,190.21 L381.65,187.33 L381.79,188.77 L381.93,187.73 L382.08,186.37 L382.22,185.74 L382.36,184.88 L382.50,182.52 L382.65,180.20 L382.79,178.18 L382.93,175.65 L383.08,173.18 L383.22,170.12 L383.36,167.42 L383.50,163.87 L383.65,159.21 L383.79,157.26 L383.93,155.07 L384.07,152.32 L384.22,150.66 L384.36,149.65 L384.50,148.98 L384.65,149.88 L384.79,150.05 L384.93,150.21 L385.07,151.59 L385.22,152.34 L385.36,154.96 L385.50,157.06 L385.64,160.10 L385.79,162.67 L385.93,164.34 L386.07,167.55 L386.22,169.10 L386.36,171.74 L386.50,174.91 L386.64,176.03 L386.79,177.23 L386.93,179.08 L387.07,180.92 L387.21,182.36 L387.36,183.60 L387.50,185.42 L387.64,186.07 L387.78,186.93 L387.93,186.90 L388.07,186.57 L388.21,187.14 L388.36,186.84 L388.50,186.32 L388.64,185.19 L388.78,184.30 L388.93,183.96 L389.07,179.90 L389.21,179.96 L389.35,176.43 L389.50,172.65 L389.64,170.16 L389.78,166.32 L389.93,163.31 L390.07,160.78 L390.21,158.45 L390.35,155.86 L390.50,154.04 L390.64,152.87 L390.78,150.24 L390.92,149.58 L391.07,149.15 L391.21,150.60 L391.35,150.35 L391.49,151.80 L391.64,152.73 L391.78,156.69 L391.92,157.63 L392.07,160.69 L392.21,162.53 L392.35,165.03 L392.49,167.88 L392.64,169.06 L392.78,171.01 L392.92,173.45 L393.06,175.39 L393.21,177.44 L393.35,179.60 L393.49,181.06 L393.63,181.84 L393.78,183.09 L393.92,183.92 L394.06,185.41 L394.21,185.75 L394.35,186.08 L394.49,187.91 L394.63,187.88 L394.78,187.03 L394.92,186.87 L395.06,185.75 L395.20,185.77 L395.35,183.10 L395.49,180.80 L395.63,178.63 L395.78,175.86 L395.92,172.47 L396.06,169.65 L396.20,167.46 L396.35,164.15 L396.49,162.33 L396.63,158.88 L396.77,156.34 L396.92,153.03 L397.06,152.84 L397.20,151.99 L397.35,150.02 L397.49,149.64 L397.63,150.83 L397.77,150.59 L397.92,152.95 L398.06,155.68 L398.20,156.47 L398.34,158.09 L398.49,160.13 L398.63,162.32 L398.77,164.84 L398.91,166.96 L399.06,169.92 L399.20,172.50 L399.34,173.96 L399.49,176.44 L399.63,177.73 L399.77,179.74 L399.91,180.08 L400.06,181.49 L400.20,182.18 L400.34,183.82 L400.48,184.67 L400.63,186.62 L400.77,185.97 L400.91,186.99 L401.06,187.65 L401.20,186.60 L401.34,185.81 L401.48,184.13 L401.63,183.17 L401.77,181.95 L401.91,180.59 L402.05,178.42 L402.20,176.06 L402.34,173.47 L402.48,170.32 L402.62,167.83 L402.77,163.96 L402.91,161.14 L403.05,159.19 L403.20,155.83 L403.34,154.63 L403.48,153.20 L403.62,152.25 L403.77,151.64 L403.91,151.31 L404.05,152.25 L404.19,153.43 L404.34,153.49 L404.48,154.12 L404.62,155.97 L404.77,159.15 L404.91,160.79 L405.05,162.86 L405.19,166.49 L405.34,168.07 L405.48,170.35 L405.62,172.94 L405.76,174.29 L405.91,176.31 L406.05,176.87 L406.19,179.00 L406.33,180.41 L406.48,181.03 L406.62,183.51 L406.76,184.97 L406.91,185.77 L407.05,185.82 L407.19,186.68 L407.33,184.50 L407.48,183.53 L407.62,183.76 L407.76,183.43 L407.90,181.90 L408.05,182.79 L408.19,181.75 L408.33,179.81 L408.48,178.59 L408.62,174.94 L408.76,173.08 L408.90,169.40 L409.05,167.39 L409.19,165.33 L409.33,162.31 L409.47,161.22 L409.62,158.15 L409.76,158.04 L409.90,155.82 L410.04,155.15 L410.19,153.75 L410.33,153.72 L410.47,152.27 L410.62,154.57 L410.76,156.12 L410.90,157.38 L411.04,159.12 L411.19,160.89 L411.33,162.64 L411.47,163.94 L411.61,166.21 L411.76,168.62 L411.90,170.32 L412.04,171.39 L412.19,173.13 L412.33,175.47 L412.47,177.61 L412.61,178.59 L412.76,179.27 L412.90,181.32 L413.04,181.38 L413.18,182.08 L413.33,182.69 L413.47,183.29 L413.61,182.98 L413.75,184.75 L413.90,186.78 L414.04,185.88 L414.18,185.15 L414.33,184.19 L414.47,182.54 L414.61,181.31 L414.75,179.96 L414.90,176.29 L415.04,173.69 L415.18,173.07 L415.32,171.02 L415.47,168.28 L415.61,164.61 L415.75,163.07 L415.90,160.54 L416.04,159.11 L416.18,156.32 L416.32,154.81 L416.47,153.09 L416.61,153.14 L416.75,152.65 L416.89,154.04 L417.04,155.33 L417.18,156.23 L417.32,157.49 L417.46,158.38 L417.61,161.12 L417.75,160.69 L417.89,164.27 L418.04,166.46 L418.18,168.05 L418.32,169.57 L418.46,172.31 L418.61,174.57 L418.75,175.84 L418.89,177.22 L419.03,179.38 L419.18,179.27 L419.32,181.26 L419.46,181.44 L419.61,181.93 L419.75,183.31 L419.89,183.59 L420.03,185.10 L420.18,185.96 L420.32,186.02 L420.46,185.95 L420.60,185.15 L420.75,183.97 L420.89,182.12 L421.03,181.00 L421.17,178.55 L421.32,177.59 L421.46,175.23 L421.60,173.68 L421.75,170.32 L421.89,168.79 L422.03,165.25 L422.17,162.17 L422.32,159.82 L422.46,158.63 L422.60,155.31 L422.74,155.00 L422.89,154.95 L423.03,154.83 L423.17,153.65 L423.31,154.88 L423.46,155.53 L423.60,155.56 L423.74,157.21 L423.89,159.55 L424.03,160.41 L424.17,162.40 L424.31,163.80 L424.46,167.89 L424.60,170.02 L424.74,172.08 L424.88,172.12 L425.03,174.19 L425.17,177.00 L425.31,175.94 L425.46,178.89 L425.60,180.24 L425.74,180.92 L425.88,182.70 L426.03,182.88 L426.17,183.99 L426.31,185.92 L426.45,184.81 L426.60,184.97 L426.74,184.30 L426.88,184.80 L427.03,184.14 L427.17,183.99 L427.31,183.15 L427.45,181.29 L427.60,180.13 L427.74,178.16 L427.88,175.86 L428.02,173.98 L428.17,170.23 L428.31,166.93 L428.45,164.32 L428.59,160.80 L428.74,160.71 L428.88,158.19 L429.02,157.55 L429.17,155.20 L429.31,154.63 L429.45,153.89 L429.59,153.67 L429.74,153.53 L429.88,153.49 L430.02,155.12 L430.16,156.78 L430.31,158.15 L430.45,160.99 L430.59,162.66 L430.74,165.06 L430.88,166.92 L431.02,168.82 L431.16,169.86 L431.31,171.06 L431.45,173.94 L431.59,176.54 L431.73,177.99 L431.88,179.54 L432.02,180.38 L432.16,181.59 L432.30,182.30 L432.45,183.19 L432.59,183.09 L432.73,184.30 L432.88,185.39 L433.02,182.54 L433.16,183.97 L433.30,181.97 L433.45,182.27 L433.59,183.26 L433.73,181.41 L433.87,179.43 L434.02,179.56 L434.16,174.92 L434.30,174.73 L434.45,173.36 L434.59,170.43 L434.73,168.19 L434.87,166.73 L435.02,164.67 L435.16,162.88 L435.30,161.38 L435.44,159.57 L435.59,157.84 L435.73,156.61 L435.87,155.72 L436.01,157.12 L436.16,156.53 L436.30,158.67 L436.44,158.75 L436.59,161.71 L436.73,162.47 L436.87,162.66 L437.01,164.18 L437.16,165.63 L437.30,168.11 L437.44,168.73 L437.58,170.11 L437.73,172.96 L437.87,175.04 L438.01,174.59 L438.16,176.92 L438.30,177.30 L438.44,178.35 L438.58,178.39 L438.73,180.25 L438.87,179.17 L439.01,180.97 L439.15,182.19 L439.30,182.21 L439.44,183.14 L439.58,183.30 L439.72,183.57 L439.87,181.64 L440.01,181.81 L440.15,181.36 L440.30,178.49 L440.44,177.45 L440.58,176.51 L440.72,175.26 L440.87,172.61 L441.01,171.54 L441.15,170.21 L441.29,167.28 L441.44,164.60 L441.58,161.81 L441.72,160.76 L441.87,158.96 L442.01,157.69 L442.15,158.20 L442.29,157.29 L442.44,157.70 L442.58,158.09 L442.72,157.16 L442.86,158.23 L443.01,159.93 L443.15,159.57 L443.29,162.13 L443.43,162.80 L443.58,165.92 L443.72,167.96 L443.86,169.43 L444.01,171.17 L444.15,172.88 L444.29,174.23 L444.43,174.24 L444.58,175.66 L444.72,176.90 L444.86,177.83 L445.00,179.66 L445.15,180.97 L445.29,181.39 L445.43,181.68 L445.58,183.38 L445.72,183.34 L445.86,181.56 L446.00,181.15 L446.15,182.15 L446.29,181.32 L446.43,181.19 L446.57,180.11 L446.72,179.90 L446.86,179.15 L447.00,176.76 L447.14,174.80 L447.29,173.12 L447.43,170.76 L447.57,168.62 L447.72,165.34 L447.86,165.37 L448.00,162.97 L448.14,162.02 L448.29,160.93 L448.43,158.87 L448.57,158.87 L448.71,158.87 L448.86,157.60 L449.00,159.04 L449.14,158.09 L449.29,159.44 L449.43,160.25 L449.57,161.85 L449.71,163.40 L449.86,165.23 L450.00,166.80 L450.14,167.53 L450.28,169.44 L450.43,171.70 L450.57,172.24 L450.71,172.84 L450.85,174.46 L451.00,176.09 L451.14,176.38 L451.28,177.95 L451.43,178.73 L451.57,178.85 L451.71,179.62 L451.85,179.51 L452.00,180.72 L452.14,180.87 L452.28,183.83 L452.42,183.76 L452.57,183.56 L452.71,183.86 L452.85,183.43 L453.00,182.85 L453.14,180.39 L453.28,179.37 L453.42,176.55 L453.57,174.04 L453.71,172.09 L453.85,170.81 L453.99,169.17 L454.14,166.77 L454.28,164.31 L454.42,163.09 L454.56,161.41 L454.71,158.44 L454.85,157.68 L454.99,156.89 L455.14,155.25 L455.28,156.38 L455.42,155.64 L455.56,156.57 L455.71,158.31 L455.85,160.89 L455.99,161.36 L456.13,162.47 L456.28,163.61 L456.42,166.07 L456.56,167.18 L456.71,169.19 L456.85,171.42 L456.99,172.53 L457.13,173.58 L457.28,176.11 L457.42,176.29 L457.56,178.04 L457.70,178.56 L457.85,180.84 L457.99,180.12 L458.13,180.31 L458.27,182.37 L458.42,183.43 L458.56,183.13 L458.70,183.92 L458.85,183.71 L458.99,183.92 L459.13,182.58 L459.27,181.91 L459.42,181.46 L459.56,179.87 L459.70,177.99 L459.84,175.94 L459.99,175.06 L460.13,173.18 L460.27,171.62 L460.42,168.72 L460.56,166.90 L460.70,164.02 L460.84,163.03 L460.99,159.56 L461.13,158.83 L461.27,157.30 L461.41,158.01 L461.56,157.76 L461.70,157.63 L461.84,157.99 L461.98,158.68 L462.13,158.98 L462.27,159.29 L462.41,160.38 L462.56,163.25 L462.70,164.23 L462.84,165.85 L462.98,168.77 L463.13,169.82 L463.27,171.76 L463.41,172.70 L463.55,174.61 L463.70,175.18 L463.84,176.79 L463.98,177.77 L464.12,178.13 L464.27,179.32 L464.41,179.96 L464.55,181.87 L464.70,182.01 L464.84,182.73 L464.98,183.17 L465.12,180.89 L465.27,180.50 L465.41,180.22 L465.55,180.39 L465.69,179.95 L465.84,178.70 L465.98,176.30 L466.12,177.91 L466.27,175.76 L466.41,174.89 L466.55,173.62 L466.69,171.12 L466.84,168.50 L466.98,168.36 L467.12,164.21 L467.26,164.26 L467.41,163.11 L467.55,161.94 L467.69,160.57 L467.84,161.40 L467.98,160.34 L468.12,159.86 L468.26,158.37 L468.41,159.61 L468.55,159.65 L468.69,162.35 L468.83,163.47 L468.98,164.55 L469.12,166.11 L469.26,167.18 L469.40,168.54 L469.55,169.85 L469.69,170.42 L469.83,171.00 L469.98,172.74 L470.12,174.58 L470.26,176.01 L470.40,176.93 L470.55,177.85 L470.69,177.94 L470.83,179.68 L470.97,179.98 L471.12,180.69 L471.26,180.10 L471.40,178.63 L471.55,182.37 L471.69,182.34 L471.83,184.12 L471.97,181.38 L472.12,183.16 L472.26,181.53 L472.40,179.89 L472.54,179.23 L472.69,176.50 L472.83,174.89 L472.97,172.46 L473.11,170.27 L473.26,168.44 L473.40,167.41 L473.54,164.41 L473.69,164.22 L473.83,162.34 L473.97,159.56 L474.11,157.92 L474.26,156.64 L474.40,156.27 L474.54,156.20 L474.68,156.69 L474.83,158.40 L474.97,159.26 L475.11,160.61 L475.25,161.37 L475.40,162.36 L475.54,165.18 L475.68,165.40 L475.83,167.43 L475.97,170.17 L476.11,170.35 L476.25,172.99 L476.40,174.45 L476.54,175.96 L476.68,178.43 L476.82,178.60 L476.97,178.65 L477.11,180.22 L477.25,180.48 L477.40,180.77 L477.54,182.58 L477.68,180.90 L477.82,182.27 L477.97,182.94 L478.11,183.64 L478.25,184.05 L478.39,181.76 L478.54,180.63 L478.68,181.12 L478.82,180.85 L478.97,178.58 L479.11,177.01 L479.25,174.24 L479.39,173.16 L479.54,171.53 L479.68,169.13 L479.82,166.85 L479.96,165.07 L480.11,163.14 L480.25,161.09 L480.39,159.70 L480.53,158.36 L480.68,158.41 L480.82,157.82 L480.96,157.52 L481.11,159.08 L481.25,159.68 L481.39,159.04 L481.53,160.64 L481.68,160.91 L481.82,163.54 L481.96,164.01 L482.10,167.56 L482.25,167.97 L482.39,169.40 L482.53,171.77 L482.68,172.44 L482.82,174.03 L482.96,175.53 L483.10,175.96 L483.25,178.13 L483.39,177.81 L483.53,179.23 L483.67,179.79 L483.82,181.61 L483.96,181.30 L484.10,182.15 L484.24,183.38 L484.39,182.22 L484.53,181.22 L484.67,180.59 L484.82,181.61 L484.96,180.31 L485.10,179.17 L485.24,179.15 L485.39,179.91 L485.53,176.46 L485.67,175.56 L485.81,172.19 L485.96,171.70 L486.10,169.06 L486.24,167.18 L486.39,166.87 L486.53,163.97 L486.67,162.71 L486.81,161.93 L486.96,161.52 L487.10,159.98 L487.24,160.60 L487.38,159.81 L487.53,159.39 L487.67,160.68 L487.81,159.49 L487.95,160.24 L488.10,162.50 L488.24,163.88 L488.38,166.71 L488.53,167.75 L488.67,169.19 L488.81,170.25 L488.95,170.87 L489.10,172.36 L489.24,174.02 L489.38,174.76 L489.52,175.47 L489.67,177.89 L489.81,178.23 L489.95,180.45 L490.10,178.81 L490.24,181.11 L490.38,181.61 L490.52,181.36 L490.67,181.58 L490.81,180.34 L490.95,182.76 L491.09,181.70 L491.24,181.30 L491.38,181.98 L491.52,181.16 L491.66,178.20 L491.81,176.46 L491.95,174.49 L492.09,174.08 L492.24,172.21 L492.38,170.03 L492.52,168.37 L492.66,167.65 L492.81,167.24 L492.95,165.12 L493.09,162.66 L493.23,161.74 L493.38,160.14 L493.52,160.04 L493.66,159.05 L493.81,158.13 L493.95,159.45 L494.09,160.33 L494.23,160.65 L494.38,163.14 L494.52,163.01 L494.66,164.25 L494.80,164.90 L494.95,166.95 L495.09,168.02 L495.23,169.92 L495.37,171.26 L495.52,172.00 L495.66,175.77 L495.80,176.37 L495.95,176.08 L496.09,178.54 L496.23,179.23 L496.37,178.80 L496.52,177.33 L496.66,178.81 L496.80,180.83 L496.94,179.85 L497.09,181.08 L497.23,179.94 L497.37,180.98 L497.51,180.46 L497.66,180.10 L497.80,178.63 L497.94,178.60 L498.09,177.62 L498.23,177.03 L498.37,175.89 L498.51,174.19 L498.66,173.26 L498.80,170.16 L498.94,169.59 L499.08,167.29 L499.23,166.25 L499.37,164.78 L499.51,163.45 L499.66,161.52 L499.80,160.15 L499.94,160.17 L500.08,162.06 L500.23,161.86 L500.37,162.62 L500.51,162.57 L500.65,163.22 L500.80,162.39 L500.94,164.46 L501.08,164.06 L501.23,165.54 L501.37,167.15 L501.51,168.57 L501.65,169.91 L501.80,171.74 L501.94,172.33 L502.08,174.70 L502.22,172.77 L502.37,174.51 L502.51,175.18 L502.65,176.42 L502.79,176.62 L502.94,179.36 L503.08,178.10 L503.22,179.23 L503.37,181.26 L503.51,180.04 L503.65,180.07 L503.79,179.04 L503.94,178.73 L504.08,178.38 L504.22,179.47 L504.36,176.85 L504.51,178.31 L504.65,176.49 L504.79,175.69 L504.94,174.04 L505.08,172.51 L505.22,171.15 L505.36,169.96 L505.51,168.27 L505.65,166.11 L505.79,165.80 L505.93,165.13 L506.08,162.61 L506.22,163.08 L506.36,161.82 L506.50,162.43 L506.65,161.23 L506.79,161.05 L506.93,162.78 L507.08,161.60 L507.22,164.04 L507.36,163.77 L507.50,165.75 L507.65,168.58 L507.79,169.61 L507.93,169.98 L508.07,170.56 L508.22,171.83 L508.36,172.18 L508.50,172.80 L508.65,173.55 L508.79,175.96 L508.93,175.92 L509.07,176.71 L509.22,177.75 L509.36,177.82 L509.50,178.73 L509.64,178.66 L509.79,178.28 L509.93,177.83 L510.07,180.01 L510.21,180.42 L510.36,180.73 L510.50,182.17 L510.64,179.44 L510.79,180.48 L510.93,177.27 L511.07,176.24 L511.21,174.93 L511.36,174.07 L511.50,171.99 L511.64,170.96 L511.78,169.39 L511.93,168.20 L512.07,166.78 L512.21,164.58 L512.36,164.02 L512.50,163.05 L512.64,161.51 L512.78,161.14 L512.93,159.57 L513.07,161.24 L513.21,160.59 L513.35,160.69 L513.50,162.19 L513.64,163.54 L513.78,166.03 L513.92,165.54 L514.07,167.42 L514.21,167.64 L514.35,169.47 L514.50,169.57 L514.64,172.29 L514.78,172.23 L514.92,174.47 L515.07,175.25 L515.21,175.43 L515.35,177.10 L515.49,177.91 L515.64,177.32 L515.78,178.54 L515.92,178.21 L516.07,179.27 L516.21,178.87 L516.35,180.16 L516.49,178.71 L516.64,179.33 L516.78,180.67 L516.92,179.56 L517.06,179.06 L517.21,177.32 L517.35,178.19 L517.49,175.18 L517.63,175.42 L517.78,174.45 L517.92,173.57 L518.06,172.51 L518.21,171.12 L518.35,168.71 L518.49,167.16 L518.63,167.40 L518.78,164.12 L518.92,163.30 L519.06,163.01 L519.20,162.74 L519.35,162.44 L519.49,161.52 L519.63,162.95 L519.78,163.57 L519.92,164.55 L520.06,163.81 L520.20,164.04 L520.35,165.13 L520.49,165.56 L520.63,167.97 L520.77,169.99 L520.92,172.08 L521.06,171.96 L521.20,172.40 L521.34,174.52 L521.49,175.68 L521.63,175.16 L521.77,176.56 L521.92,175.48 L522.06,176.63 L522.20,177.97 L522.34,178.33 L522.49,177.94 L522.63,179.62 L522.77,180.62 L522.91,179.15 L523.06,178.65 L523.20,179.18 L523.34,179.68 L523.49,177.41 L523.63,175.47 L523.77,176.91 L523.91,176.51 L524.06,175.15 L524.20,175.10 L524.34,172.79 L524.48,170.77 L524.63,170.09 L524.77,167.20 L524.91,166.26 L525.05,165.11 L525.20,165.29 L525.34,164.52 L525.48,163.87 L525.63,163.57 L525.77,162.59 L525.91,162.35 L526.05,161.51 L526.20,162.15 L526.34,164.17 L526.48,161.82 L526.62,164.02 L526.77,165.66 L526.91,168.73 L527.05,168.99 L527.20,170.35 L527.34,172.35 L527.48,171.21 L527.62,171.78 L527.77,171.67 L527.91,173.95 L528.05,174.28 L528.19,176.59 L528.34,177.08 L528.48,176.61 L528.62,177.37 L528.76,179.79 L528.91,179.05 L529.05,179.30 L529.19,178.27 L529.34,178.85 L529.48,176.69 L529.62,179.10 L529.76,178.95 L529.91,179.34 L530.05,177.14 L530.19,177.22 L530.33,175.94 L530.48,175.39 L530.62,173.64 L530.76,171.22 L530.90,169.54 L531.05,169.04 L531.19,168.90 L531.33,166.61 L531.48,164.81 L531.62,165.74 L531.76,163.82 L531.90,164.37 L532.05,161.99 L532.19,160.91 L532.33,161.40 L532.47,161.09 L532.62,162.28 L532.76,163.75 L532.90,165.50 L533.05,165.89 L533.19,166.70 L533.33,168.41 L533.47,167.83 L533.62,168.86 L533.76,170.68 L533.90,169.96 L534.04,172.66 L534.19,172.58 L534.33,173.34 L534.47,173.36 L534.62,175.91 L534.76,177.10 L534.90,176.94 L535.04,177.13 L535.19,178.76 L535.33,178.06 L535.47,177.36 L535.61,178.26 L535.76,179.38 L535.90,179.46 L536.04,179.19 L536.18,178.76 L536.33,177.51 L536.47,176.21 L536.61,175.64 L536.76,174.81 L536.90,173.41 L537.04,173.61 L537.18,172.60 L537.33,172.32 L537.47,170.82 L537.61,170.57 L537.75,167.25 L537.90,165.46 L538.04,166.75 L538.18,163.93 L538.33,164.42 L538.47,161.43 L538.61,163.88 L538.75,162.94 L538.90,162.85 L539.04,163.44 L539.18,164.66 L539.32,164.41 L539.47,166.47 L539.61,166.52 L539.75,166.27 L539.89,169.23 L540.04,169.21 L540.18,170.80 L540.32,171.53 L540.47,172.52 L540.61,172.97 L540.75,174.61 L540.89,175.86 L541.04,174.64 L541.18,176.54 L541.32,176.24 L541.46,176.26 L541.61,175.72 L541.75,179.99 L541.89,179.93 L542.04,180.34 L542.18,179.09 L542.32,180.08 L542.46,179.10 L542.61,177.48 L542.75,177.18 L542.89,177.10 L543.03,177.32 L543.18,176.05 L543.32,175.60 L543.46,175.55 L543.60,173.52 L543.75,172.22 L543.89,169.25 L544.03,169.20 L544.18,165.64 L544.32,164.73 L544.46,162.57 L544.60,163.06 L544.75,163.97 L544.89,163.32 L545.03,163.08 L545.17,161.81 L545.32,162.10 L545.46,162.17 L545.60,163.00 L545.75,164.02 L545.89,164.47 L546.03,166.28 L546.17,167.70 L546.32,167.67 L546.46,169.94 L546.60,170.68 L546.74,171.88 L546.89,173.50 L547.03,173.35 L547.17,173.39 L547.31,173.45 L547.46,176.32 L547.60,177.29 L547.74,177.80 L547.89,179.63 L548.03,180.46 L548.17,177.54 L548.31,179.42 L548.46,179.00 L548.60,179.31 L548.74,179.80 L548.88,177.76 L549.03,178.92 L549.17,180.13 L549.31,179.84 L549.46,178.27 L549.60,176.80 L549.74,175.05 L549.88,172.47 L550.03,171.14 L550.17,171.67 L550.31,169.40 L550.45,167.63 L550.60,166.33 L550.74,166.16 L550.88,166.37 L551.02,164.42 L551.17,164.12 L551.31,162.12 L551.45,162.86 L551.60,162.11 L551.74,161.18 L551.88,163.64 L552.02,162.87 L552.17,164.41 L552.31,165.00 L552.45,165.94 L552.59,167.56 L552.74,168.79 L552.88,167.64 L553.02,169.79 L553.16,171.12 L553.31,172.17 L553.45,174.08 L553.59,174.33 L553.74,174.72 L553.88,175.75 L554.02,177.46 L554.16,178.69 L554.31,176.78 L554.45,178.49 L554.59,177.67 L554.73,179.04 L554.88,178.74 L555.02,180.12 L555.16,180.43 L555.31,180.23 L555.45,179.67 L555.59,178.06 L555.73,178.70 L555.88,177.32 L556.02,176.58 L556.16,174.90 L556.30,174.45 L556.45,171.53 L556.59,170.98 L556.73,169.94 L556.88,168.34 L557.02,166.17 L557.16,167.28 L557.30,163.38 L557.45,162.13 L557.59,161.79 L557.73,161.27 L557.87,161.66 L558.02,162.16 L558.16,160.46 L558.30,163.27 L558.44,163.65 L558.59,163.46 L558.73,164.68 L558.87,165.18 L559.02,166.50 L559.16,166.94 L559.30,166.90 L559.44,170.57 L559.59,172.95 L559.73,172.75 L559.87,174.29 L560.01,175.53 L560.16,176.51 L560.30,175.72 L560.44,176.19 L560.59,176.05 L560.73,176.90 L560.87,179.06 L561.01,180.12 L561.16,179.90 L561.30,178.34 L561.44,178.74 L561.58,177.97 L561.73,178.88 L561.87,178.75 L562.01,178.82 L562.15,177.68 L562.30,177.02 L562.44,175.44 L562.58,174.73 L562.73,175.86 L562.87,173.66 L563.01,171.51 L563.15,169.79 L563.30,168.08 L563.44,166.59 L563.58,165.45 L563.72,164.33 L563.87,164.03 L564.01,164.10 L564.15,163.69 L564.30,163.62 L564.44,163.52 L564.58,163.59 L564.72,162.47 L564.87,163.15 L565.01,163.74 L565.15,164.94 L565.29,165.60 L565.44,168.10 L565.58,168.09 L565.72,171.02 L565.86,171.37 L566.01,171.78 L566.15,172.30 L566.29,171.49 L566.44,173.96 L566.58,175.31 L566.72,177.31 L566.86,178.18 L567.01,177.00 L567.15,179.11 L567.29,177.12 L567.43,177.90 L567.58,177.73 L567.72,177.11 L567.86,178.20 L568.00,178.41 L568.15,178.21 L568.29,178.40 L568.43,179.21 L568.58,179.31 L568.72,177.66 L568.86,177.44 L569.00,175.45 L569.15,173.19 L569.29,172.11 L569.43,170.48 L569.57,168.89 L569.72,170.44 L569.86,167.18 L570.00,165.94 L570.15,166.65 L570.29,163.10 L570.43,162.84 L570.57,162.99 L570.72,161.68 L570.86,161.28 L571.00,162.23 L571.14,163.54 L571.29,163.32 L571.43,165.09 L571.57,164.92 L571.72,165.13 L571.86,168.50 L572.00,168.57 L572.14,167.70 L572.29,169.56 L572.43,170.80 L572.57,171.85 L572.71,173.57 L572.86,174.78 L573.00,174.58 L573.14,175.71 L573.28,176.40 L573.43,176.22 L573.57,176.02 L573.71,176.69 L573.86,177.49 L574.00,179.54 L574.14,179.31 L574.28,179.14 L574.43,178.31 L574.57,179.37 L574.71,178.10 L574.85,177.59 L575.00,177.24 L575.14,177.09 L575.28,173.80 L575.42,175.27 L575.57,172.73 L575.71,172.35 L575.85,171.37 L576.00,170.64 L576.14,169.76 L576.28,168.41 L576.42,165.72 L576.57,164.92 L576.71,163.61 L576.85,163.00 L576.99,162.97 L577.14,163.09 L577.28,164.05 L577.42,164.07 L577.57,163.94 L577.71,164.50 L577.85,166.04 L577.99,166.75 L578.14,165.40 L578.28,166.08 L578.42,168.01 L578.56,169.47 L578.71,170.00 L578.85,173.82 L578.99,174.92 L579.13,174.94 L579.28,174.02 L579.42,176.10 L579.56,176.39 L579.71,175.90 L579.85,177.69 L579.99,176.39 L580.13,177.59 L580.28,179.03 L580.42,178.70 L580.56,180.39 L580.70,179.34 L580.85,179.51 L580.99,179.10 L581.13,177.29 L581.28,177.18 L581.42,177.41 L581.56,177.49 L581.70,177.07 L581.85,175.69 L581.99,173.40 L582.13,172.22 L582.27,172.24 L582.42,169.08 L582.56,168.97 L582.70,167.33 L582.85,164.21 L582.99,163.58 L583.13,164.74 L583.27,165.10 L583.42,164.42 L583.56,163.13 L583.70,163.42 L583.84,163.37 L583.99,162.66 L584.13,163.52 L584.27,165.51 L584.41,165.07 L584.56,166.77 L584.70,167.71 L584.84,168.97 L584.99,170.05 L585.13,171.81 L585.27,172.42 L585.41,171.44 L585.56,172.58 L585.70,173.22 L585.84,173.10 L585.98,177.33 L586.13,177.04 L586.27,176.78 L586.41,179.03 L586.56,179.26 L586.70,178.21 L586.84,178.91 L586.98,179.67 L587.13,176.69 L587.27,176.51 L587.41,178.11 L587.55,177.27 L587.70,178.04 L587.84,177.55 L587.98,176.28 L588.12,176.77 L588.27,175.33 L588.41,174.12 L588.55,171.70 L588.70,169.86 L588.84,169.01 L588.98,169.03 L589.12,166.42 L589.27,168.16 L589.41,167.03 L589.55,165.33 L589.69,163.25 L589.84,162.91 L589.98,162.81 L590.12,162.41 L590.27,162.33 L590.41,162.12 L590.55,164.29 L590.69,165.69 L590.84,165.89 L590.98,167.97 L591.12,168.07 L591.26,169.54 L591.41,169.35 L591.55,170.21 L591.69,172.67 L591.83,172.45 L591.98,173.79 L592.12,174.11 L592.26,174.07 L592.41,175.52 L592.55,176.90 L592.69,176.79 L592.83,176.48 L592.98,177.89 L593.12,177.50 L593.26,178.40 L593.40,178.28 L593.55,178.90 L593.69,178.73 L593.83,179.54 L593.98,179.40 L594.12,178.24 L594.26,177.21 L594.40,175.94 L594.55,176.20 L594.69,174.11 L594.83,173.73 L594.97,171.90 L595.12,172.37 L595.26,170.90 L595.40,168.93 L595.54,166.48 L595.69,165.79 L595.83,165.95 L595.97,164.47 L596.12,163.33 L596.26,164.20 L596.40,164.08 L596.54,165.54 L596.69,164.99 L596.83,165.18 L596.97,166.42 L597.11,165.57 L597.26,166.26 L597.40,168.04 L597.54,167.51 L597.68,168.30 L597.83,168.44 L597.97,171.14 L598.11,171.70 L598.26,172.50 L598.40,174.02 L598.54,174.90 L598.68,175.02 L598.83,175.37 L598.97,175.84 L599.11,175.12 L599.25,176.73 L599.40,177.11 L599.54,177.14 L599.68,178.47 L599.83,180.36 L599.97,178.37 L600.11,179.18 L600.25,178.17 L600.40,176.72 L600.54,177.51 L600.68,177.17 L600.82,175.66 L600.97,177.00 L601.11,175.92 L601.25,175.03 L601.39,174.12 L601.54,170.32 L601.68,169.73 L601.82,168.51 L601.97,166.36 L602.11,165.22 L602.25,163.65 L602.39,163.90 L602.54,163.19 L602.68,164.23 L602.82,163.37 L602.96,164.57 L603.11,161.57 L603.25,162.80 L603.39,164.34 L603.54,162.86 L603.68,165.20 L603.82,167.99 L603.96,166.94 L604.11,169.08 L604.25,170.95 L604.39,170.61 L604.53,171.67 L604.68,173.13 L604.82,173.11 L604.96,173.92 L605.11,174.30 L605.25,175.84 L605.39,174.65 L605.53,179.89 L605.68,177.97 L605.82,178.92 L605.96,177.75 L606.10,177.88 L606.25,178.54 L606.39,180.00 L606.53,180.24 L606.67,180.61 L606.82,178.19 L606.96,179.50 L607.10,176.91 L607.25,177.53 L607.39,175.18 L607.53,176.57 L607.67,173.99 L607.82,172.83 L607.96,170.34 L608.10,168.83 L608.24,167.11 L608.39,168.41 L608.53,165.58 L608.67,165.87 L608.82,165.59 L608.96,163.85 L609.10,163.02 L609.24,162.29 L609.39,162.41 L609.53,163.08 L609.67,162.09 L609.81,162.60 L609.96,163.90 L610.10,165.93 L610.24,167.42 L610.38,167.21 L610.53,167.01 L610.67,170.02 L610.81,167.94 L610.96,170.79 L611.10,172.09 L611.24,173.98 L611.38,173.46 L611.53,176.47 L611.67,175.64 L611.81,178.03 L611.95,176.39 L612.10,178.53 L612.24,177.20 L612.38,176.20 L612.53,180.19 L612.67,178.08 L612.81,178.41 L612.95,180.05 L613.10,180.28 L613.24,177.96 L613.38,180.56 L613.52,177.70 L613.67,176.39 L613.81,174.91 L613.95,175.00 L614.09,172.72 L614.24,172.06 L614.38,172.07 L614.52,169.14 L614.67,170.24 L614.81,167.01 L614.95,166.26 L615.09,163.26 L615.24,164.34 L615.38,163.82 L615.52,164.00 L615.66,164.17 L615.81,163.64 L615.95,163.59 L616.09,164.22 L616.24,165.45 L616.38,164.63 L616.52,166.68 L616.66,167.83 L616.81,165.64 L616.95,168.86 L617.09,169.66 L617.23,171.11 L617.38,171.90 L617.52,174.71 L617.66,174.27 L617.80,175.37 L617.95,174.57 L618.09,175.42 L618.23,175.41 L618.38,175.94 L618.52,176.40 L618.66,176.83 L618.80,179.60 L618.95,178.27 L619.09,179.14 L619.23,178.43 L619.37,180.29 L619.52,180.50 L619.66,177.55 L619.80,176.81 L619.95,176.26 L620.09,175.28 L620.23,174.72 L620.37,174.99 L620.52,174.79 L620.66,172.28 L620.80,171.60 L620.94,169.41 L621.09,170.04 L621.23,167.92 L621.37,165.85 L621.51,164.68 L621.66,163.93 L621.80,163.96 L621.94,163.63 L622.09,165.81 L622.23,163.07 L622.37,162.70 L622.51,165.25 L622.66,165.67 L622.80,164.90 L622.94,164.86 L623.08,166.96 L623.23,167.66 L623.37,168.78 L623.51,169.03 L623.65,172.04 L623.80,172.12 L623.94,173.75 L624.08,171.93 L624.23,173.08 L624.37,173.93 L624.51,174.43 L624.65,175.62 L624.80,178.19 L624.94,177.49 L625.08,178.47 L625.22,179.63 L625.37,176.74 L625.51,178.04 L625.65,178.58 L625.80,177.57 L625.94,177.16 L626.08,176.24 L626.22,176.73 L626.37,177.53 L626.51,177.14 L626.65,176.53 L626.79,173.28 L626.94,174.19 L627.08,172.51 L627.22,169.79 L627.37,167.95 L627.51,169.44 L627.65,166.29 L627.79,167.25 L627.94,167.00 L628.08,166.82 L628.22,165.11 L628.36,165.77 L628.51,163.37 L628.65,163.43 L628.79,164.74 L628.93,164.95 L629.08,164.65 L629.22,166.73 L629.36,167.52 L629.51,168.72 L629.65,167.57 L629.79,169.01 L629.93,169.92 L630.08,169.90 L630.22,171.26 L630.36,172.03 L630.50,172.96 L630.65,174.74 L630.79,174.03 L630.93,176.36 L631.08,177.06 L631.22,176.07 L631.36,175.81 L631.50,174.86 L631.65,177.27 L631.79,176.75 L631.93,177.26 L632.07,177.93 L632.22,177.51 L632.36,179.89 L632.50,178.39 L632.64,178.81 L632.79,176.77 L632.93,176.97 L633.07,173.68 L633.22,173.11 L633.36,174.19 L633.50,171.08 L633.64,169.87 L633.79,170.14 L633.93,169.47 L634.07,168.91 L634.21,167.74 L634.36,167.58 L634.50,165.83 L634.64,164.04 L634.79,164.72 L634.93,165.21 L635.07,162.39 L635.21,164.05 L635.36,164.78 L635.50,165.54 L635.64,166.13 L635.78,166.94 L635.93,166.59 L636.07,166.04 L636.21,169.08 L636.35,168.58 L636.50,169.98 L636.64,171.15 L636.78,172.89 L636.93,175.65 L637.07,173.14 L637.21,174.00 L637.35,174.68 L637.50,175.65 L637.64,175.62 L637.78,175.86 L637.92,176.62 L638.07,176.47 L638.21,176.90 L638.35,177.81 L638.50,177.95 L638.64,178.47 L638.78,178.82 L638.92,175.97 L639.07,175.54 L639.21,175.06 L639.35,176.07 L639.49,176.10 L639.64,176.65 L639.78,175.23 L639.92,173.05 L640.06,172.97 L640.21,170.43 L640.35,168.87 L640.49,166.38 L640.64,165.46 L640.78,164.66 L640.92,166.37 L641.06,165.76 L641.21,166.01 L641.35,164.97 L641.49,164.66 L641.63,165.50 L641.78,164.68 L641.92,164.15 L642.06,166.81 L642.20,166.95 L642.35,167.85 L642.49,167.71 L642.63,170.01 L642.78,171.57 L642.92,172.55 L643.06,173.02 L643.20,173.06 L643.35,171.53 L643.49,172.61 L643.63,173.33 L643.77,175.70 L643.92,175.65 L644.06,176.64 L644.20,177.66 L644.35,177.09 L644.49,177.43 L644.63,178.30 L644.77,175.29 L644.92,176.03 L645.06,176.24 L645.20,175.13 L645.34,177.23 L645.49,176.48 L645.63,178.46 L645.77,175.40 L645.91,175.15 L646.06,176.16 L646.20,172.55 L646.34,171.98 L646.49,170.56 L646.63,169.95 L646.77,168.84 L646.91,168.38 L647.06,167.51 L647.20,166.90 L647.34,167.65 L647.48,166.60 L647.63,164.21 L647.77,164.65 L647.91,165.19 L648.06,165.12 L648.20,164.12 L648.34,165.71 L648.48,165.59 L648.63,167.62 L648.77,169.15 L648.91,169.46 L649.05,171.04 L649.20,170.69 L649.34,170.44 L649.48,170.45 L649.62,171.65 L649.77,172.67 L649.91,173.88 L650.05,175.12 L650.20,176.29 L650.34,176.92 L650.48,177.44 L650.62,175.16 L650.77,176.42 L650.91,176.18 L651.05,175.53 L651.19,178.24 L651.34,178.88 L651.48,178.04 L651.62,181.05 L651.77,179.68 L651.91,177.88 L652.05,176.86 L652.19,176.22 L652.34,174.57 L652.48,172.98 L652.62,171.42 L652.76,172.90 L652.91,170.80 L653.05,170.31 L653.19,168.99 L653.34,168.81 L653.48,166.57 L653.62,164.78 L653.76,165.39 L653.91,164.21 L654.05,164.07 L654.19,162.61 L654.33,163.04 L654.48,163.66 L654.62,167.00 L654.76,165.89 L654.90,167.52 L655.05,166.78 L655.19,167.00 L655.33,166.93 L655.48,168.20 L655.62,168.62 L655.76,169.47 L655.90,171.00 L656.05,173.66 L656.19,175.27 L656.33,174.10 L656.47,174.41 L656.62,175.85 L656.76,174.39 L656.90,176.47 L657.05,174.79 L657.19,176.94 L657.33,177.97 L657.47,177.56 L657.62,177.60 L657.76,178.55 L657.90,178.92 L658.04,177.41 L658.19,177.75 L658.33,175.14 L658.47,174.51 L658.61,174.80 L658.76,172.38 L658.90,174.18 L659.04,173.27 L659.19,172.04 L659.33,171.60 L659.47,170.03 L659.61,170.08 L659.76,169.33 L659.90,164.78 L660.04,167.25 L660.18,165.18 L660.33,166.43 L660.47,164.67 L660.61,165.57 L660.76,166.18 L660.90,163.42 L661.04,164.89 L661.18,165.60 L661.33,165.76 L661.47,164.61 L661.61,166.31 L661.75,168.16 L661.90,168.20 L662.04,170.51 L662.18,172.87 L662.32,172.13 L662.47,172.53 L662.61,173.38 L662.75,174.70 L662.90,173.03 L663.04,174.16 L663.18,174.39 L663.32,177.11 L663.47,177.27 L663.61,177.86 L663.75,176.26 L663.89,178.93 L664.04,177.80 L664.18,179.63 L664.32,177.56 L664.47,179.64 L664.61,177.28 L664.75,176.85 L664.89,176.79 L665.04,177.80 L665.18,177.70 L665.32,175.96 L665.46,171.13 L665.61,173.00 L665.75,171.45 L665.89,167.33 L666.03,167.73 L666.18,167.07 L666.32,166.84 L666.46,166.06 L666.61,164.73 L666.75,165.45 L666.89,165.15 L667.03,164.55 L667.18,161.04 L667.32,164.25 L667.46,162.53 L667.60,166.41 L667.75,164.33 L667.89,166.25 L668.03,167.18 L668.17,170.13 L668.32,169.47 L668.46,169.78 L668.60,170.33 L668.75,171.66 L668.89,172.96 L669.03,172.90 L669.17,175.08 L669.32,175.88 L669.46,175.48 L669.60,176.94 L669.74,176.44 L669.89,176.97 L670.03,175.98 L670.17,178.22 L670.32,176.65 L670.46,176.77 L670.60,181.44 L670.74,176.13 L670.89,177.05 L671.03,177.42 L671.17,176.36 L671.31,177.41 L671.46,176.95 L671.60,175.65 L671.74,173.64 L671.88,171.29 L672.03,171.88 L672.17,171.36 L672.31,171.58 L672.46,169.00 L672.60,168.69 L672.74,167.25 L672.88,165.34 L673.03,165.91 L673.17,164.63 L673.31,164.90 L673.45,164.58 L673.60,164.34 L673.74,161.95 L673.88,166.22 L674.03,166.68 L674.17,164.38 L674.31,167.19 L674.45,167.34 L674.60,166.24 L674.74,167.88 L674.88,169.23 L675.02,170.35 L675.17,170.98 L675.31,172.28 L675.45,174.36 L675.60,175.29 L675.74,176.18 L675.88,175.35 L676.02,176.27 L676.17,177.37 L676.31,175.00 L676.45,176.20 L676.59,177.12 L676.74,177.97 L676.88,178.98 L677.02,181.60 L677.16,180.29 L677.31,177.74 L677.45,177.87 L677.59,175.98 L677.74,176.16 L677.88,174.34 L678.02,175.96 L678.16,176.28 L678.31,174.97 L678.45,173.52 L678.59,172.78 L678.73,170.52 L678.88,168.52 L679.02,167.28 L679.16,165.44 L679.31,164.07 L679.45,164.85 L679.59,164.64 L679.73,165.17 L679.88,165.64 L680.02,166.03 L680.16,165.09 L680.30,163.82 L680.45,164.12 L680.59,165.45 L680.73,163.95 L680.87,165.41 L681.02,168.14 L681.16,167.15 L681.30,169.52 L681.45,172.34 L681.59,171.89 L681.73,171.19 L681.87,171.52 L682.02,173.57 L682.16,173.46 L682.30,174.87 L682.44,176.51 L682.59,175.62 L682.73,177.44 L682.87,178.37 L683.02,176.82 L683.16,178.46 L683.30,179.02 L683.44,177.78 L683.59,177.64 L683.73,178.47 L683.87,177.39 L684.01,178.34 L684.16,177.63 L684.30,177.00 L684.44,176.78 L684.58,173.93 L684.73,172.86 L684.87,172.09 L685.01,172.01 L685.16,168.91 L685.30,166.42 L685.44,168.96 L685.58,166.53 L685.73,165.87 L685.87,165.42 L686.01,164.53 L686.15,163.54 L686.30,162.99 L686.44,163.31 L686.58,164.73 L686.73,164.78 L686.87,165.45 L687.01,165.39 L687.15,167.20 L687.30,167.97 L687.44,171.16 L687.58,169.95 L687.72,170.71 L687.87,170.61 L688.01,173.06 L688.15,170.99 L688.29,173.01 L688.44,172.79 L688.58,174.33 L688.72,175.70 L688.87,176.09 L689.01,177.64 L689.15,177.47 L689.29,176.42 L689.44,177.20 L689.58,178.30 L689.72,175.75 L689.86,176.82 L690.01,175.25 L690.15,176.21 L690.29,176.05 L690.43,178.94 L690.58,176.19 L690.72,175.59 L690.86,174.91 L691.01,174.03 L691.15,171.46 L691.29,170.95 L691.43,171.46 L691.58,169.61 L691.72,169.85 L691.86,168.98 L692.00,167.98 L692.15,167.09 L692.29,166.21 L692.43,165.62 L692.58,165.02 L692.72,165.04 L692.86,166.64 L693.00,166.06 L693.15,166.75 L693.29,166.56 L693.43,166.52 L693.57,167.03 L693.72,168.28 L693.86,168.64 L694.00,170.40 L694.14,170.47 L694.29,171.67 L694.43,171.35 L694.57,172.14 L694.72,174.46 L694.86,175.60 L695.00,175.03 L695.14,176.67 L695.29,173.67 L695.43,173.70 L695.57,176.31 L695.71,175.34 L695.86,175.22 L696.00,177.98 L696.14,178.82 L696.29,178.52 L696.43,176.59 L696.57,176.73 L696.71,174.92 L696.86,174.62 L697.00,174.33 L697.14,175.37 L697.28,174.00 L697.43,173.51 L697.57,174.88 L697.71,173.35 L697.86,173.33 L698.00,170.17 L698.14,169.09 L698.28,168.89 L698.43,167.30 L698.57,164.65 L698.71,165.47 L698.85,163.75 L699.00,166.41 L699.14,166.06 L699.28,165.90 L699.42,166.91 L699.57,163.72 L699.71,166.87 L699.85,164.68 L700.00,166.68 L700.14,166.88 L700.28,166.95 L700.42,168.42 L700.57,172.50 L700.71,170.86 L700.85,171.32 L700.99,171.67 L701.14,173.18 L701.28,173.77 L701.42,172.74 L701.57,173.56 L701.71,173.88 L701.85,173.99 L701.99,177.52 L702.14,177.18 L702.28,179.55 L702.42,177.75 L702.56,177.33 L702.71,178.96 L702.85,178.49 L702.99,177.79 L703.13,177.53 L703.28,178.11 L703.42,176.72 L703.56,176.58 L703.71,176.10 L703.85,174.78 L703.99,173.11 L704.13,172.79 L704.28,168.89 L704.42,167.05 L704.56,168.88 L704.70,168.36 L704.85,165.79 L704.99,165.68 L705.13,166.48 L705.28,166.11 L705.42,164.92 L705.56,165.72 L705.70,163.92 L705.85,162.90 L705.99,165.20 L706.13,164.81 L706.27,165.11 L706.42,166.21 L706.56,167.83 L706.70,170.14 L706.84,170.67 L706.99,170.04 L707.13,170.75 L707.27,170.25 L707.42,170.06 L707.56,173.66 L707.70,172.34 L707.84,175.15 L707.99,175.96 L708.13,176.39 L708.27,177.10 L708.41,178.21 L708.56,178.06 L708.70,177.36 L708.84,177.71 L708.99,175.16 L709.13,177.24 L709.27,178.38 L709.41,178.57 L709.56,176.05 L709.70,177.09 L709.84,177.87 L709.98,177.40 L710.13,176.13 L710.27,174.34 L710.41,174.02 L710.55,171.80 L710.70,171.73 L710.84,170.51 L710.98,168.94 L711.13,168.44 L711.27,167.36 L711.41,164.44 L711.55,165.52 L711.70,164.62 L711.84,166.93 L711.98,164.56 L712.12,166.77 L712.27,165.01 L712.41,165.46 L712.55,166.69 L712.69,165.86 L712.84,169.24 L712.98,166.63 L713.12,168.56 L713.27,169.50 L713.41,169.32 L713.55,170.53 L713.69,171.14 L713.84,173.10 L713.98,173.88 L714.12,175.24 L714.26,175.88 L714.41,175.88 L714.55,172.75 L714.69,176.89 L714.84,177.43 L714.98,176.91 L715.12,177.27 L715.26,175.63 L715.41,179.75 L715.55,178.83 L715.69,178.09 L715.83,177.91 L715.98,178.42 L716.12,174.33 L716.26,175.84 L716.40,174.64 L716.55,174.99 L716.69,172.71 L716.83,174.10 L716.98,172.70 L717.12,169.51 L717.26,170.97 L717.40,169.38 L717.55,168.24 L717.69,165.81 L717.83,161.67 L717.97,165.98 L718.12,163.67 L718.26,163.08 L718.40,165.33 L718.55,164.19 L718.69,165.37 L718.83,163.44 L718.97,166.97 L719.12,165.08 L719.26,165.76 L719.40,165.18 L719.54,167.93 L719.69,170.02 L719.83,170.78 L719.97,171.25 L720.12,173.61 L720.26,174.22 L720.40,174.33 L720.54,173.50 L720.69,173.14 L720.83,173.99 L720.97,176.52 L721.11,177.76 L721.26,177.47 L721.40,178.38 L721.54,179.92 L721.68,179.74 L721.83,178.01 L721.97,175.07 L722.11,175.52 L722.26,174.21 L722.40,178.08 L722.54,175.36 L722.68,175.50 L722.83,176.42 L722.97,177.20 L723.11,174.95 L723.25,173.75 L723.40,170.55 L723.54,172.11 L723.68,169.58 L723.83,169.07 L723.97,167.46 L724.11,165.55 L724.25,164.99 L724.40,168.93 L724.54,167.61 L724.68,165.66 L724.82,164.40 L724.97,163.86 L725.11,164.60 L725.25,166.02 L725.39,162.06 L725.54,166.08 L725.68,167.33 L725.82,167.67 L725.97,169.25 L726.11,170.29 L726.25,170.10 L726.39,172.08 L726.54,172.82 L726.68,173.36 L726.82,172.92 L726.96,173.67 L727.11,175.62 L727.25,176.89 L727.39,176.85 L727.54,175.88 L727.68,178.92 L727.82,174.83 L727.96,176.00 L728.11,175.09 L728.25,175.62 L728.39,176.22 L728.53,176.57 L728.68,176.05 L728.82,177.63 L728.96,178.68 L729.10,177.36 L729.25,175.29 L729.39,174.05 L729.53,173.82 L729.68,172.49 L729.82,169.75 L729.96,170.69 L730.10,171.56 L730.25,172.10 L730.39,169.24 L730.53,168.96 L730.67,166.06 L730.82,166.82 L730.96,164.66 L731.10,164.89 L731.25,163.94 L731.39,165.22 L731.53,166.12 L731.67,167.46 L731.82,169.17 L731.96,168.25 L732.10,167.94 L732.24,169.35 L732.39,168.06 L732.53,169.25 L732.67,168.69 L732.81,170.59 L732.96,171.63 L733.10,172.08" fill="none" stroke="#3a70ab" stroke-width="0.75" stroke-linejoin="round"/>
<path d="M510.50,182.17 L510.64,179.44 L510.79,180.48 L510.93,177.27 L511.07,176.24 L511.21,174.93 L511.36,174.07 L511.50,171.99 L511.64,170.96 L511.78,169.39 L511.93,168.20 L512.07,166.78 L512.21,164.58 L512.36,164.02 L512.50,163.05 L512.64,161.51 L512.78,161.14 L512.93,159.57 L513.07,161.24 L513.21,160.59 L513.35,160.69 L513.50,162.19 L513.64,163.54 L513.78,166.03 L513.92,165.54 L514.07,167.42 L514.21,167.64 L514.35,169.47 L514.50,169.57 L514.64,172.29 L514.78,172.23 L514.92,174.47 L515.07,175.25 L515.21,175.43 L515.35,177.10 L515.49,177.91 L515.64,177.32 L515.78,178.54 L515.92,178.21 L516.07,179.27 L516.21,178.87 L516.35,180.16 L516.49,178.71 L516.64,179.33 L516.78,180.67 L516.92,179.56 L517.06,179.06 L517.21,177.32 L517.35,178.19 L517.49,175.18 L517.63,175.42 L517.78,174.45 L517.92,173.57 L518.06,172.51 L518.21,171.12 L518.35,168.71 L518.49,167.16 L518.63,167.40 L518.78,164.12 L518.92,163.30 L519.06,163.01 L519.20,162.74 L519.35,162.44 L519.49,161.52 L519.63,162.95 L519.78,163.57 L519.92,164.55 L520.06,163.81 L520.20,164.04 L520.35,165.13 L520.49,165.56 L520.63,167.97 L520.77,169.99 L520.92,172.08 L521.06,171.96 L521.20,172.40 L521.34,174.52 L521.49,175.68 L521.63,175.16 L521.77,176.56 L521.92,175.48 L522.06,176.63 L522.20,177.97 L522.34,178.33 L522.49,177.94 L522.63,179.62 L522.77,180.62 L522.91,179.15 L523.06,178.65 L523.20,179.18 L523.34,179.68 L523.49,177.41 L523.63,175.47 L523.77,176.91 L523.91,176.51 L524.06,175.15 L524.20,175.10 L524.34,172.79 L524.48,170.77 L524.63,170.09 L524.77,167.20 L524.91,166.26 L525.05,165.11 L525.20,165.29 L525.34,164.52 L525.48,163.87 L525.63,163.57 L525.77,162.59 L525.91,162.35 L526.05,161.51 L526.20,162.15 L526.34,164.17 L526.48,161.82 L526.62,164.02 L526.77,165.66 L526.91,168.73 L527.05,168.99 L527.20,170.35 L527.34,172.35 L527.48,171.21 L527.62,171.78 L527.77,171.67 L527.91,173.95 L528.05,174.28 L528.19,176.59 L528.34,177.08 L528.48,176.61 L528.62,177.37 L528.76,179.79 L528.91,179.05 L529.05,179.30 L529.19,178.27 L529.34,178.85 L529.48,176.69 L529.62,179.10 L529.76,178.95 L529.91,179.34 L530.05,177.14 L530.19,177.22 L530.33,175.94 L530.48,175.39 L530.62,173.64 L530.76,171.22 L530.90,169.54 L531.05,169.04 L531.19,168.90 L531.33,166.61 L531.48,164.81 L531.62,165.74 L531.76,163.82 L531.90,164.37 L532.05,161.99 L532.19,160.91 L532.33,161.40 L532.47,161.09 L532.62,162.28 L532.76,163.75 L532.90,165.50 L533.05,165.89 L533.19,166.70 L533.33,168.41 L533.47,167.83 L533.62,168.86 L533.76,170.68 L533.90,169.96 L534.04,172.66 L534.19,172.58 L534.33,173.34 L534.47,173.36 L534.62,175.91 L534.76,177.10 L534.90,176.94 L535.04,177.13 L535.19,178.76 L535.33,178.06 L535.47,177.36 L535.61,178.26 L535.76,179.38 L535.90,179.46 L536.04,179.19 L536.18,178.76 L536.33,177.51 L536.47,176.21 L536.61,175.64 L536.76,174.81 L536.90,173.41 L537.04,173.61 L537.18,172.60 L537.33,172.32 L537.47,170.82 L537.61,170.57 L537.75,167.25 L537.90,165.46 L538.04,166.75 L538.18,163.93 L538.33,164.42 L538.47,161.43 L538.61,163.88 L538.75,162.94 L538.90,162.85 L539.04,163.44 L539.18,164.66 L539.32,164.41 L539.47,166.47 L539.61,166.52 L539.75,166.27 L539.89,169.23 L540.04,169.21 L540.18,170.80 L540.32,171.53 L540.47,172.52 L540.61,172.97 L540.75,174.61 L540.89,175.86 L541.04,174.64 L541.18,176.54 L541.32,176.24 L541.46,176.26 L541.61,175.72 L541.75,179.99 L541.89,179.93 L542.04,180.34 L542.18,179.09 L542.32,180.08 L542.46,179.10 L542.61,177.48 L542.75,177.18 L542.89,177.10 L543.03,177.32 L543.18,176.05 L543.32,175.60 L543.46,175.55 L543.60,173.52 L543.75,172.22 L543.89,169.25 L544.03,169.20 L544.18,165.64 L544.32,164.73 L544.46,162.57 L544.60,163.06 L544.75,163.97 L544.89,163.32 L545.03,163.08 L545.17,161.81 L545.32,162.10 L545.46,162.17 L545.60,163.00 L545.75,164.02 L545.89,164.47 L546.03,166.28 L546.17,167.70 L546.32,167.67 L546.46,169.94 L546.60,170.68 L546.74,171.88 L546.89,173.50 L547.03,173.35 L547.17,173.39 L547.31,173.45 L547.46,176.32 L547.60,177.29 L547.74,177.80 L547.89,179.63 L548.03,180.46 L548.17,177.54 L548.31,179.42 L548.46,179.00 L548.60,179.31 L548.74,179.80 L548.88,177.76 L549.03,178.92 L549.17,180.13 L549.31,179.84 L549.46,178.27 L549.60,176.80 L549.74,175.05 L549.88,172.47 L550.03,171.14 L550.17,171.67 L550.31,169.40 L550.45,167.63 L550.60,166.33 L550.74,166.16 L550.88,166.37 L551.02,164.42 L551.17,164.12 L551.31,162.12 L551.45,162.86 L551.60,162.11 L551.74,161.18 L551.88,163.64 L552.02,162.87 L552.17,164.41 L552.31,165.00 L552.45,165.94 L552.59,167.56 L552.74,168.79 L552.88,167.64 L553.02,169.79 L553.16,171.12 L553.31,172.17 L553.45,174.08 L553.59,174.33 L553.74,174.72 L553.88,175.75 L554.02,177.46 L554.16,178.69 L554.31,176.78 L554.45,178.49 L554.59,177.67 L554.73,179.04 L554.88,178.74 L555.02,180.12 L555.16,180.43 L555.31,180.23 L555.45,179.67 L555.59,178.06 L555.73,178.70 L555.88,177.32 L556.02,176.58 L556.16,174.90 L556.30,174.45 L556.45,171.53 L556.59,170.98 L556.73,169.94 L556.88,168.34 L557.02,166.17 L557.16,167.28 L557.30,163.38 L557.45,162.13 L557.59,161.79 L557.73,161.27 L557.87,161.66 L558.02,162.16 L558.16,160.46 L558.30,163.27 L558.44,163.65 L558.59,163.46 L558.73,164.68 L558.87,165.18 L559.02,166.50 L559.16,166.94 L559.30,166.90 L559.44,170.57 L559.59,172.95 L559.73,172.75 L559.87,174.29 L560.01,175.53 L560.16,176.51 L560.30,175.72 L560.44,176.19 L560.59,176.05 L560.73,176.90 L560.87,179.06 L561.01,180.12 L561.16,179.90 L561.30,178.34 L561.44,178.74 L561.58,177.97 L561.73,178.88 L561.87,178.75 L562.01,178.82 L562.15,177.68 L562.30,177.02 L562.44,175.44 L562.58,174.73 L562.73,175.86 L562.87,173.66 L563.01,171.51 L563.15,169.79 L563.30,168.08 L563.44,166.59 L563.58,165.45 L563.72,164.33 L563.87,164.03 L564.01,164.10 L564.15,163.69 L564.30,163.62 L564.44,163.52 L564.58,163.59 L564.72,162.47 L564.87,163.15 L565.01,163.74 L565.15,164.94 L565.29,165.60 L565.44,168.10 L565.58,168.09 L565.72,171.02 L565.86,171.37 L566.01,171.78 L566.15,172.30 L566.29,171.49 L566.44,173.96 L566.58,175.31 L566.72,177.31 L566.86,178.18 L567.01,177.00 L567.15,179.11 L567.29,177.12 L567.43,177.90 L567.58,177.73 L567.72,177.11 L567.86,178.20 L568.00,178.41 L568.15,178.21 L568.29,178.40 L568.43,179.21 L568.58,179.31 L568.72,177.66 L568.86,177.44 L569.00,175.45 L569.15,173.19 L569.29,172.11 L569.43,170.48 L569.57,168.89 L569.72,170.44 L569.86,167.18 L570.00,165.94 L570.15,166.65 L570.29,163.10 L570.43,162.84 L570.57,162.99 L570.72,161.68 L570.86,161.28 L571.00,162.23 L571.14,163.54 L571.29,163.32 L571.43,165.09 L571.57,164.92 L571.72,165.13 L571.86,168.50 L572.00,168.57 L572.14,167.70 L572.29,169.56 L572.43,170.80 L572.57,171.85 L572.71,173.57 L572.86,174.78 L573.00,174.58 L573.14,175.71 L573.28,176.40 L573.43,176.22 L573.57,176.02 L573.71,176.69 L573.86,177.49 L574.00,179.54 L574.14,179.31 L574.28,179.14 L574.43,178.31 L574.57,179.37 L574.71,178.10 L574.85,177.59 L575.00,177.24 L575.14,177.09 L575.28,173.80 L575.42,175.27 L575.57,172.73 L575.71,172.35 L575.85,171.37 L576.00,170.64 L576.14,169.76 L576.28,168.41 L576.42,165.72 L576.57,164.92 L576.71,163.61 L576.85,163.00 L576.99,162.97 L577.14,163.09 L577.28,164.05 L577.42,164.07 L577.57,163.94 L577.71,164.50 L577.85,166.04 L577.99,166.75 L578.14,165.40 L578.28,166.08 L578.42,168.01 L578.56,169.47 L578.71,170.00 L578.85,173.82 L578.99,174.92 L579.13,174.94 L579.28,174.02 L579.42,176.10 L579.56,176.39 L579.71,175.90 L579.85,177.69 L579.99,176.39 L580.13,177.59 L580.28,179.03 L580.42,178.70 L580.56,180.39 L580.70,179.34 L580.85,179.51 L580.99,179.10 L581.13,177.29 L581.28,177.18 L581.42,177.41 L581.56,177.49 L581.70,177.07 L581.85,175.69 L581.99,173.40 L582.13,172.22 L582.27,172.24 L582.42,169.08 L582.56,168.97 L582.70,167.33 L582.85,164.21 L582.99,163.58 L583.13,164.74 L583.27,165.10 L583.42,164.42 L583.56,163.13 L583.70,163.42 L583.84,163.37 L583.99,162.66 L584.13,163.52 L584.27,165.51 L584.41,165.07 L584.56,166.77 L584.70,167.71 L584.84,168.97 L584.99,170.05 L585.13,171.81 L585.27,172.42 L585.41,171.44 L585.56,172.58 L585.70,173.22 L585.84,173.10 L585.98,177.33 L586.13,177.04 L586.27,176.78 L586.41,179.03 L586.56,179.26 L586.70,178.21 L586.84,178.91 L586.98,179.67 L587.13,176.69 L587.27,176.51 L587.41,178.11 L587.55,177.27 L587.70,178.04 L587.84,177.55 L587.98,176.28 L588.12,176.77 L588.27,175.33 L588.41,174.12 L588.55,171.70 L588.70,169.86 L588.84,169.01 L588.98,169.03 L589.12,166.42 L589.27,168.16 L589.41,167.03 L589.55,165.33 L589.69,163.25 L589.84,162.91 L589.98,162.81 L590.12,162.41 L590.27,162.33 L590.41,162.12 L590.55,164.29 L590.69,165.69 L590.84,165.89 L590.98,167.97 L591.12,168.07 L591.26,169.54 L591.41,169.35 L591.55,170.21 L591.69,172.67 L591.83,172.45 L591.98,173.79 L592.12,174.11 L592.26,174.07 L592.41,175.52 L592.55,176.90 L592.69,176.79 L592.83,176.48 L592.98,177.89 L593.12,177.50 L593.26,178.40 L593.40,178.28 L593.55,178.90 L593.69,178.73 L593.83,179.54 L593.98,179.40 L594.12,178.24 L594.26,177.21 L594.40,175.94 L594.55,176.20 L594.69,174.11 L594.83,173.73 L594.97,171.90 L595.12,172.37 L595.26,170.90 L595.40,168.93 L595.54,166.48 L595.69,165.79 L595.83,165.95 L595.97,164.47 L596.12,163.33 L596.26,164.20 L596.40,164.08 L596.54,165.54 L596.69,164.99 L596.83,165.18 L596.97,166.42 L597.11,165.57 L597.26,166.26 L597.40,168.04 L597.54,167.51 L597.68,168.30 L597.83,168.44 L597.97,171.14 L598.11,171.70 L598.26,172.50 L598.40,174.02 L598.54,174.90 L598.68,175.02 L598.83,175.37 L598.97,175.84 L599.11,175.12 L599.25,176.73 L599.40,177.11 L599.54,177.14 L599.68,178.47 L599.83,180.36 L599.97,178.37 L600.11,179.18 L600.25,178.17 L600.40,176.72 L600.54,177.51 L600.68,177.17 L600.82,175.66 L600.97,177.00 L601.11,175.92 L601.25,175.03 L601.39,174.12 L601.54,170.32 L601.68,169.73 L601.82,168.51 L601.97,166.36 L602.11,165.22 L602.25,163.65 L602.39,163.90 L602.54,163.19 L602.68,164.23 L602.82,163.37 L602.96,164.57 L603.11,161.57 L603.25,162.80 L603.39,164.34 L603.54,162.86 L603.68,165.20 L603.82,167.99 L603.96,166.94 L604.11,169.08 L604.25,170.95 L604.39,170.61 L604.53,171.67 L604.68,173.13 L604.82,173.11 L604.96,173.92 L605.11,174.30 L605.25,175.84 L605.39,174.65 L605.53,179.89 L605.68,177.97 L605.82,178.92 L605.96,177.75 L606.10,177.88 L606.25,178.54 L606.39,180.00 L606.53,180.24 L606.67,180.61 L606.82,178.19 L606.96,179.50 L607.10,176.91 L607.25,177.53 L607.39,175.18 L607.53,176.57 L607.67,173.99 L607.82,172.83 L607.96,170.34 L608.10,168.83 L608.24,167.11 L608.39,168.41 L608.53,165.58 L608.67,165.87 L608.82,165.59 L608.96,163.85 L609.10,163.02 L609.24,162.29 L609.39,162.41 L609.53,163.08 L609.67,162.09 L609.81,162.60 L609.96,163.90 L610.10,165.93 L610.24,167.42 L610.38,167.21 L610.53,167.01 L610.67,170.02 L610.81,167.94 L610.96,170.79 L611.10,172.09 L611.24,173.98 L611.38,173.46 L611.53,176.47 L611.67,175.64 L611.81,178.03 L611.95,176.39 L612.10,178.53 L612.24,177.20 L612.38,176.20 L612.53,180.19 L612.67,178.08 L612.81,178.41 L612.95,180.05 L613.10,180.28 L613.24,177.96 L613.38,180.56 L613.52,177.70 L613.67,176.39 L613.81,174.91 L613.95,175.00 L614.09,172.72 L614.24,172.06 L614.38,172.07 L614.52,169.14 L614.67,170.24 L614.81,167.01 L614.95,166.26 L615.09,163.26 L615.24,164.34 L615.38,163.82 L615.52,164.00 L615.66,164.17 L615.81,163.64 L615.95,163.59 L616.09,164.22 L616.24,165.45 L616.38,164.63 L616.52,166.68 L616.66,167.83 L616.81,165.64 L616.95,168.86 L617.09,169.66 L617.23,171.11 L617.38,171.90 L617.52,174.71 L617.66,174.27 L617.80,175.37 L617.95,174.57 L618.09,175.42 L618.23,175.41 L618.38,175.94 L618.52,176.40 L618.66,176.83 L618.80,179.60 L618.95,178.27 L619.09,179.14 L619.23,178.43 L619.37,180.29 L619.52,180.50 L619.66,177.55 L619.80,176.81 L619.95,176.26 L620.09,175.28 L620.23,174.72 L620.37,174.99 L620.52,174.79 L620.66,172.28 L620.80,171.60 L620.94,169.41 L621.09,170.04 L621.23,167.92 L621.37,165.85 L621.51,164.68 L621.66,163.93 L621.80,163.96 L621.94,163.63 L622.09,165.81 L622.23,163.07 L622.37,162.70 L622.51,165.25 L622.66,165.67 L622.80,164.90 L622.94,164.86 L623.08,166.96 L623.23,167.66 L623.37,168.78 L623.51,169.03 L623.65,172.04 L623.80,172.12 L623.94,173.75 L624.08,171.93 L624.23,173.08 L624.37,173.93 L624.51,174.43 L624.65,175.62 L624.80,178.19 L624.94,177.49 L625.08,178.47 L625.22,179.63 L625.37,176.74 L625.51,178.04 L625.65,178.58 L625.80,177.57 L625.94,177.16 L626.08,176.24 L626.22,176.73 L626.37,177.53 L626.51,177.14 L626.65,176.53 L626.79,173.28 L626.94,174.19 L627.08,172.51 L627.22,169.79 L627.37,167.95 L627.51,169.44 L627.65,166.29 L627.79,167.25 L627.94,167.00 L628.08,166.82 L628.22,165.11 L628.36,165.77 L628.51,163.37 L628.65,163.43 L628.79,164.74 L628.93,164.95 L629.08,164.65 L629.22,166.73 L629.36,167.52 L629.51,168.72 L629.65,167.57 L629.79,169.01 L629.93,169.92 L630.08,169.90 L630.22,171.26 L630.36,172.03 L630.50,172.96 L630.65,174.74 L630.79,174.03 L630.93,176.36 L631.08,177.06 L631.22,176.07 L631.36,175.81 L631.50,174.86 L631.65,177.27 L631.79,176.75 L631.93,177.26 L632.07,177.93 L632.22,177.51 L632.36,179.89 L632.50,178.39 L632.64,178.81 L632.79,176.77 L632.93,176.97 L633.07,173.68 L633.22,173.11 L633.36,174.19 L633.50,171.08 L633.64,169.87 L633.79,170.14 L633.93,169.47 L634.07,168.91 L634.21,167.74 L634.36,167.58 L634.50,165.83 L634.64,164.04 L634.79,164.72 L634.93,165.21 L635.07,162.39 L635.21,164.05 L635.36,164.78 L635.50,165.54 L635.64,166.13 L635.78,166.94 L635.93,166.59 L636.07,166.04 L636.21,169.08 L636.35,168.58 L636.50,169.98 L636.64,171.15 L636.78,172.89 L636.93,175.65 L637.07,173.14 L637.21,174.00 L637.35,174.68 L637.50,175.65 L637.64,175.62 L637.78,175.86 L637.92,176.62 L638.07,176.47 L638.21,176.90 L638.35,177.81 L638.50,177.95 L638.64,178.47 L638.78,178.82 L638.92,175.97 L639.07,175.54 L639.21,175.06 L639.35,176.07 L639.49,176.10 L639.64,176.65 L639.78,175.23 L639.92,173.05 L640.06,172.97 L640.21,170.43 L640.35,168.87 L640.49,166.38 L640.64,165.46 L640.78,164.66 L640.92,166.37 L641.06,165.76 L641.21,166.01 L641.35,164.97 L641.49,164.66 L641.63,165.50 L641.78,164.68 L641.92,164.15 L642.06,166.81 L642.20,166.95 L642.35,167.85 L642.49,167.71 L642.63,170.01 L642.78,171.57 L642.92,172.55 L643.06,173.02 L643.20,173.06 L643.35,171.53 L643.49,172.61 L643.63,173.33 L643.77,175.70 L643.92,175.65 L644.06,176.64 L644.20,177.66 L644.35,177.09 L644.49,177.43 L644.63,178.30 L644.77,175.29 L644.92,176.03 L645.06,176.24 L645.20,175.13 L645.34,177.23 L645.49,176.48 L645.63,178.46 L645.77,175.40 L645.91,175.15 L646.06,176.16 L646.20,172.55 L646.34,171.98 L646.49,170.56 L646.63,169.95 L646.77,168.84 L646.91,168.38 L647.06,167.51 L647.20,166.90 L647.34,167.65 L647.48,166.60 L647.63,164.21 L647.77,164.65 L647.91,165.19 L648.06,165.12 L648.20,164.12 L648.34,165.71 L648.48,165.59 L648.63,167.62 L648.77,169.15 L648.91,169.46 L649.05,171.04 L649.20,170.69 L649.34,170.44 L649.48,170.45 L649.62,171.65 L649.77,172.67 L649.91,173.88 L650.05,175.12 L650.20,176.29 L650.34,176.92 L650.48,177.44 L650.62,175.16 L650.77,176.42 L650.91,176.18 L651.05,175.53 L651.19,178.24 L651.34,178.88 L651.48,178.04 L651.62,181.05 L651.77,179.68 L651.91,177.88 L652.05,176.86 L652.19,176.22 L652.34,174.57 L652.48,172.98 L652.62,171.42 L652.76,172.90 L652.91,170.80 L653.05,170.31 L653.19,168.99 L653.34,168.81 L653.48,166.57 L653.62,164.78 L653.76,165.39 L653.91,164.21 L654.05,164.07 L654.19,162.61 L654.33,163.04 L654.48,163.66 L654.62,167.00 L654.76,165.89 L654.90,167.52 L655.05,166.78 L655.19,167.00 L655.33,166.93 L655.48,168.20 L655.62,168.62 L655.76,169.47 L655.90,171.00 L656.05,173.66 L656.19,175.27 L656.33,174.10 L656.47,174.41 L656.62,175.85 L656.76,174.39 L656.90,176.47 L657.05,174.79 L657.19,176.94 L657.33,177.97 L657.47,177.56 L657.62,177.60 L657.76,178.55 L657.90,178.92 L658.04,177.41 L658.19,177.75 L658.33,175.14 L658.47,174.51 L658.61,174.80 L658.76,172.38 L658.90,174.18 L659.04,173.27 L659.19,172.04 L659.33,171.60 L659.47,170.03 L659.61,170.08 L659.76,169.33 L659.90,164.78 L660.04,167.25 L660.18,165.18 L660.33,166.43 L660.47,164.67 L660.61,165.57 L660.76,166.18 L660.90,163.42 L661.04,164.89 L661.18,165.60 L661.33,165.76 L661.47,164.61 L661.61,166.31 L661.75,168.16 L661.90,168.20 L662.04,170.51 L662.18,172.87 L662.32,172.13 L662.47,172.53 L662.61,173.38 L662.75,174.70 L662.90,173.03 L663.04,174.16 L663.18,174.39 L663.32,177.11 L663.47,177.27 L663.61,177.86 L663.75,176.26 L663.89,178.93 L664.04,177.80 L664.18,179.63 L664.32,177.56 L664.47,179.64 L664.61,177.28 L664.75,176.85 L664.89,176.79 L665.04,177.80 L665.18,177.70 L665.32,175.96 L665.46,171.13 L665.61,173.00 L665.75,171.45 L665.89,167.33 L666.03,167.73 L666.18,167.07 L666.32,166.84 L666.46,166.06 L666.61,164.73 L666.75,165.45 L666.89,165.15 L667.03,164.55 L667.18,161.04 L667.32,164.25 L667.46,162.53 L667.60,166.41 L667.75,164.33 L667.89,166.25 L668.03,167.18 L668.17,170.13 L668.32,169.47 L668.46,169.78 L668.60,170.33 L668.75,171.66 L668.89,172.96 L669.03,172.90 L669.17,175.08 L669.32,175.88 L669.46,175.48 L669.60,176.94 L669.74,176.44 L669.89,176.97 L670.03,175.98 L670.17,178.22 L670.32,176.65 L670.46,176.77 L670.60,181.44 L670.74,176.13 L670.89,177.05 L671.03,177.42 L671.17,176.36 L671.31,177.41 L671.46,176.95 L671.60,175.65 L671.74,173.64 L671.88,171.29 L672.03,171.88 L672.17,171.36 L672.31,171.58 L672.46,169.00 L672.60,168.69 L672.74,167.25 L672.88,165.34 L673.03,165.91 L673.17,164.63 L673.31,164.90 L673.45,164.58 L673.60,164.34 L673.74,161.95 L673.88,166.22 L674.03,166.68 L674.17,164.38 L674.31,167.19 L674.45,167.34 L674.60,166.24 L674.74,167.88 L674.88,169.23 L675.02,170.35 L675.17,170.98 L675.31,172.28 L675.45,174.36 L675.60,175.29 L675.74,176.18 L675.88,175.35 L676.02,176.27 L676.17,177.37 L676.31,175.00 L676.45,176.20 L676.59,177.12 L676.74,177.97 L676.88,178.98 L677.02,181.60 L677.16,180.29 L677.31,177.74 L677.45,177.87 L677.59,175.98 L677.74,176.16 L677.88,174.34 L678.02,175.96 L678.16,176.28 L678.31,174.97 L678.45,173.52 L678.59,172.78 L678.73,170.52 L678.88,168.52 L679.02,167.28 L679.16,165.44 L679.31,164.07 L679.45,164.85 L679.59,164.64 L679.73,165.17 L679.88,165.64 L680.02,166.03 L680.16,165.09 L680.30,163.82 L680.45,164.12 L680.59,165.45 L680.73,163.95 L680.87,165.41 L681.02,168.14 L681.16,167.15 L681.30,169.52 L681.45,172.34 L681.59,171.89 L681.73,171.19 L681.87,171.52 L682.02,173.57 L682.16,173.46 L682.30,174.87 L682.44,176.51 L682.59,175.62 L682.73,177.44 L682.87,178.37 L683.02,176.82 L683.16,178.46 L683.30,179.02 L683.44,177.78 L683.59,177.64 L683.73,178.47 L683.87,177.39 L684.01,178.34 L684.16,177.63 L684.30,177.00 L684.44,176.78 L684.58,173.93 L684.73,172.86 L684.87,172.09 L685.01,172.01 L685.16,168.91 L685.30,166.42 L685.44,168.96 L685.58,166.53 L685.73,165.87 L685.87,165.42 L686.01,164.53 L686.15,163.54 L686.30,162.99 L686.44,163.31 L686.58,164.73 L686.73,164.78 L686.87,165.45 L687.01,165.39 L687.15,167.20 L687.30,167.97 L687.44,171.16 L687.58,169.95 L687.72,170.71 L687.87,170.61 L688.01,173.06 L688.15,170.99 L688.29,173.01 L688.44,172.79 L688.58,174.33 L688.72,175.70 L688.87,176.09 L689.01,177.64 L689.15,177.47 L689.29,176.42 L689.44,177.20 L689.58,178.30 L689.72,175.75 L689.86,176.82 L690.01,175.25 L690.15,176.21 L690.29,176.05 L690.43,178.94 L690.58,176.19 L690.72,175.59 L690.86,174.91 L691.01,174.03 L691.15,171.46 L691.29,170.95 L691.43,171.46 L691.58,169.61 L691.72,169.85 L691.86,168.98 L692.00,167.98 L692.15,167.09 L692.29,166.21 L692.43,165.62 L692.58,165.02 L692.72,165.04 L692.86,166.64 L693.00,166.06 L693.15,166.75 L693.29,166.56 L693.43,166.52 L693.57,167.03 L693.72,168.28 L693.86,168.64 L694.00,170.40 L694.14,170.47 L694.29,171.67 L694.43,171.35 L694.57,172.14 L694.72,174.46 L694.86,175.60 L695.00,175.03 L695.14,176.67 L695.29,173.67 L695.43,173.70 L695.57,176.31 L695.71,175.34 L695.86,175.22 L696.00,177.98 L696.14,178.82 L696.29,178.52 L696.43,176.59 L696.57,176.73 L696.71,174.92 L696.86,174.62 L697.00,174.33 L697.14,175.37 L697.28,174.00 L697.43,173.51 L697.57,174.88 L697.71,173.35 L697.86,173.33 L698.00,170.17 L698.14,169.09 L698.28,168.89 L698.43,167.30 L698.57,164.65 L698.71,165.47 L698.85,163.75 L699.00,166.41 L699.14,166.06 L699.28,165.90 L699.42,166.91 L699.57,163.72 L699.71,166.87 L699.85,164.68 L700.00,166.68 L700.14,166.88 L700.28,166.95 L700.42,168.42 L700.57,172.50 L700.71,170.86 L700.85,171.32 L700.99,171.67 L701.14,173.18 L701.28,173.77 L701.42,172.74 L701.57,173.56 L701.71,173.88 L701.85,173.99 L701.99,177.52 L702.14,177.18 L702.28,179.55 L702.42,177.75 L702.56,177.33 L702.71,178.96 L702.85,178.49 L702.99,177.79 L703.13,177.53 L703.28,178.11 L703.42,176.72 L703.56,176.58 L703.71,176.10 L703.85,174.78 L703.99,173.11 L704.13,172.79 L704.28,168.89 L704.42,167.05 L704.56,168.88 L704.70,168.36 L704.85,165.79 L704.99,165.68 L705.13,166.48 L705.28,166.11 L705.42,164.92 L705.56,165.72 L705.70,163.92 L705.85,162.90 L705.99,165.20 L706.13,164.81 L706.27,165.11 L706.42,166.21 L706.56,167.83 L706.70,170.14 L706.84,170.67 L706.99,170.04 L707.13,170.75 L707.27,170.25 L707.42,170.06 L707.56,173.66 L707.70,172.34 L707.84,175.15 L707.99,175.96 L708.13,176.39 L708.27,177.10 L708.41,178.21 L708.56,178.06 L708.70,177.36 L708.84,177.71 L708.99,175.16 L709.13,177.24 L709.27,178.38 L709.41,178.57 L709.56,176.05 L709.70,177.09 L709.84,177.87 L709.98,177.40 L710.13,176.13 L710.27,174.34 L710.41,174.02 L710.55,171.80 L710.70,171.73 L710.84,170.51 L710.98,168.94 L711.13,168.44 L711.27,167.36 L711.41,164.44 L711.55,165.52 L711.70,164.62 L711.84,166.93 L711.98,164.56 L712.12,166.77 L712.27,165.01 L712.41,165.46 L712.55,166.69 L712.69,165.86 L712.84,169.24 L712.98,166.63 L713.12,168.56 L713.27,169.50 L713.41,169.32 L713.55,170.53 L713.69,171.14 L713.84,173.10 L713.98,173.88 L714.12,175.24 L714.26,175.88 L714.41,175.88 L714.55,172.75 L714.69,176.89 L714.84,177.43 L714.98,176.91 L715.12,177.27 L715.26,175.63 L715.41,179.75 L715.55,178.83 L715.69,178.09 L715.83,177.91 L715.98,178.42 L716.12,174.33 L716.26,175.84 L716.40,174.64 L716.55,174.99 L716.69,172.71 L716.83,174.10 L716.98,172.70 L717.12,169.51 L717.26,170.97 L717.40,169.38 L717.55,168.24 L717.69,165.81 L717.83,161.67 L717.97,165.98 L718.12,163.67 L718.26,163.08 L718.40,165.33 L718.55,164.19 L718.69,165.37 L718.83,163.44 L718.97,166.97 L719.12,165.08 L719.26,165.76 L719.40,165.18 L719.54,167.93 L719.69,170.02 L719.83,170.78 L719.97,171.25 L720.12,173.61 L720.26,174.22 L720.40,174.33 L720.54,173.50 L720.69,173.14 L720.83,173.99 L720.97,176.52 L721.11,177.76 L721.26,177.47 L721.40,178.38 L721.54,179.92 L721.68,179.74 L721.83,178.01 L721.97,175.07 L722.11,175.52 L722.26,174.21 L722.40,178.08 L722.54,175.36 L722.68,175.50 L722.83,176.42 L722.97,177.20 L723.11,174.95 L723.25,173.75 L723.40,170.55 L723.54,172.11 L723.68,169.58 L723.83,169.07 L723.97,167.46 L724.11,165.55 L724.25,164.99 L724.40,168.93 L724.54,167.61 L724.68,165.66 L724.82,164.40 L724.97,163.86 L725.11,164.60 L725.25,166.02 L725.39,162.06 L725.54,166.08 L725.68,167.33 L725.82,167.67 L725.97,169.25 L726.11,170.29 L726.25,170.10 L726.39,172.08 L726.54,172.82 L726.68,173.36 L726.82,172.92 L726.96,173.67 L727.11,175.62 L727.25,176.89 L727.39,176.85 L727.54,175.88 L727.68,178.92 L727.82,174.83 L727.96,176.00 L728.11,175.09 L728.25,175.62 L728.39,176.22 L728.53,176.57 L728.68,176.05 L728.82,177.63 L728.96,178.68 L729.10,177.36 L729.25,175.29 L729.39,174.05 L729.53,173.82 L729.68,172.49 L729.82,169.75 L729.96,170.69 L730.10,171.56 L730.25,172.10 L730.39,169.24 L730.53,168.96 L730.67,166.06 L730.82,166.82 L730.96,164.66 L731.10,164.89 L731.25,163.94 L731.39,165.22 L731.53,166.12 L731.67,167.46 L731.82,169.17 L731.96,168.25 L732.10,167.94 L732.24,169.35 L732.39,168.06 L732.53,169.25 L732.67,168.69 L732.81,170.59 L732.96,171.63 L733.10,172.08" fill="none" stroke="url(#gE)" stroke-width="1.2" stroke-linejoin="round"/>
<rect x="362.3" y="9.4" width="371.1" height="199.8" fill="none" stroke="#1a1a1a" stroke-width="1.2"/>
<g stroke="#222" stroke-width="1">
<line x1="362.1" y1="192.50" x2="366.3" y2="192.50"/>
<line x1="362.1" y1="175.85" x2="364.5" y2="175.85"/>
<line x1="362.1" y1="159.20" x2="366.3" y2="159.20"/>
<line x1="362.1" y1="142.55" x2="364.5" y2="142.55"/>
<line x1="362.1" y1="125.90" x2="366.3" y2="125.90"/>
<line x1="362.1" y1="109.25" x2="364.5" y2="109.25"/>
<line x1="362.1" y1="92.60" x2="366.3" y2="92.60"/>
<line x1="362.1" y1="75.95" x2="364.5" y2="75.95"/>
<line x1="362.1" y1="59.30" x2="366.3" y2="59.30"/>
<line x1="362.1" y1="42.65" x2="364.5" y2="42.65"/>
<line x1="362.1" y1="26.00" x2="366.3" y2="26.00"/>
<line x1="399.20" y1="209.2" x2="399.20" y2="206.79999999999998"/>
<line x1="436.30" y1="209.2" x2="436.30" y2="205.0"/>
<line x1="473.40" y1="209.2" x2="473.40" y2="206.79999999999998"/>
<line x1="510.50" y1="209.2" x2="510.50" y2="205.0"/>
<line x1="547.60" y1="209.2" x2="547.60" y2="206.79999999999998"/>
<line x1="584.70" y1="209.2" x2="584.70" y2="205.0"/>
<line x1="621.80" y1="209.2" x2="621.80" y2="206.79999999999998"/>
<line x1="658.90" y1="209.2" x2="658.90" y2="205.0"/>
<line x1="696.00" y1="209.2" x2="696.00" y2="206.79999999999998"/>
</g>
<g class="sf" font-size="14.8" text-anchor="end">
<text x="357" y="31.5">408</text>
<text x="357" y="64.8">404</text>
<text x="357" y="98.1">400</text>
<text x="357" y="131.4">396</text>
<text x="357" y="164.7">392</text>
<text x="357" y="198">388</text>
</g>
<g class="sf" font-size="15" text-anchor="middle">
<text x="362.10" y="225.6">0</text>
<text x="436.30" y="225.6">2</text>
<text x="510.50" y="225.6">4</text>
<text x="584.70" y="225.6">6</text>
<text x="658.90" y="225.6">8</text>
<text x="733.10" y="225.6">10</text>
</g>
<text class="sf" font-size="14.6" text-anchor="middle" transform="translate(328.2,108.7) rotate(-90)">Energy (eV)</text>
<text class="sf" x="550.3" y="241.6" font-size="15.1" text-anchor="middle">Time (ps)</text>

<!-- ===== Inset ===== -->
<rect x="398.2" y="10.5" width="207.1" height="111.6" fill="#fff"/>
<path d="M398.20,96.40 L399.44,90.10 L400.06,15.76 L400.89,93.88 L401.72,35.92 L402.55,85.06 L403.27,68.21 L404.00,52.59 L404.72,67.73 L405.45,58.22 L406.17,68.66 L406.89,55.89 L407.62,82.69 L408.34,58.82 L409.07,73.70 L409.79,46.45 L410.51,75.55 L411.24,55.78 L411.96,79.10 L412.69,55.20 L413.41,78.71 L414.13,61.72 L414.86,82.78 L415.58,50.36 L416.31,78.58 L417.03,52.90 L417.76,82.21 L418.48,54.93 L419.20,77.19 L419.93,56.27 L420.65,77.76 L421.38,61.72 L422.10,71.63 L422.82,57.94 L423.55,81.38 L424.27,53.15 L425.00,69.83 L425.72,63.86 L426.44,74.13 L427.17,52.21 L427.89,70.35 L428.62,56.38 L429.34,73.46 L430.07,60.04 L430.79,79.29 L431.51,59.12 L432.24,75.50 L432.96,56.02 L433.69,77.36 L434.41,56.26 L435.13,77.12 L435.86,60.97 L436.58,71.48 L437.31,59.11 L438.03,68.62 L438.75,61.85 L439.48,75.89 L440.20,54.84 L440.93,72.63 L441.65,59.40 L442.38,78.85 L443.10,64.91 L443.82,78.63 L444.55,56.68 L445.27,74.10 L446.00,64.00 L446.72,77.60 L447.44,55.11 L448.17,74.37 L448.89,61.36 L449.62,77.46 L450.34,56.21 L451.06,72.32 L451.79,61.44 L452.51,73.84 L453.24,56.20 L453.96,73.55 L454.69,58.46 L455.41,69.48 L456.13,63.09 L456.86,70.23 L457.58,63.42 L458.31,74.36 L459.03,59.43 L459.75,76.35 L460.48,61.67 L461.20,70.62 L461.93,56.67 L462.65,69.17 L463.37,63.83 L464.10,74.78 L464.82,64.30 L465.55,73.94 L466.27,60.97 L466.99,76.34 L467.72,59.05 L468.44,73.23 L469.17,64.11 L469.89,73.04 L470.62,63.83 L471.34,71.40 L472.06,61.52 L472.79,70.04 L473.51,59.90 L474.24,71.92 L474.96,57.13 L475.68,74.23 L476.41,52.83 L477.13,78.60 L477.86,60.99 L478.58,77.86 L479.30,54.24 L480.03,70.83 L480.75,60.70 L481.48,71.06 L482.20,61.08 L482.93,71.50 L483.65,61.67 L484.37,73.57 L485.10,60.67 L485.82,72.93 L486.55,52.98 L487.27,71.47 L487.99,62.25 L488.72,76.86 L489.44,60.97 L490.17,69.79 L490.89,64.98 L491.61,75.57 L492.34,53.13 L493.06,72.95 L493.79,62.67 L494.51,73.29 L495.24,65.62 L495.96,75.22 L496.68,61.52 L497.41,75.82 L498.13,59.48 L498.86,69.61 L499.58,58.19 L500.30,70.78 L501.03,65.91 L501.75,71.42 L502.48,62.62 L503.20,72.68 L503.92,60.00 L504.65,70.42 L505.37,63.17 L506.10,73.34 L506.82,56.92 L507.55,71.34 L508.27,66.22 L508.99,68.89 L509.72,60.70 L510.44,77.96 L511.17,65.61 L511.89,70.82 L512.61,59.26 L513.34,76.93 L514.06,64.12 L514.79,73.60 L515.51,63.36 L516.23,74.53 L516.96,60.84 L517.68,73.88 L518.41,66.15 L519.13,71.46 L519.85,58.98 L520.58,69.81 L521.30,54.19 L522.03,68.71 L522.75,57.95 L523.48,73.33 L524.20,60.93 L524.92,74.19 L525.65,61.89 L526.37,75.82 L527.10,63.44 L527.82,77.80 L528.54,65.63 L529.27,72.58 L529.99,63.62 L530.72,73.10 L531.44,63.85 L532.16,73.70 L532.89,62.19 L533.61,73.85 L534.34,62.87 L535.06,71.09 L535.79,62.37 L536.51,73.81 L537.23,57.07 L537.96,77.09 L538.68,63.74 L539.41,71.29 L540.13,63.43 L540.85,69.53 L541.58,57.97 L542.30,71.02 L543.03,62.90 L543.75,71.13 L544.47,60.18 L545.20,70.95 L545.92,60.95 L546.65,73.06 L547.37,57.57 L548.10,72.36 L548.82,60.84 L549.54,75.87 L550.27,61.41 L550.99,71.00 L551.72,66.23 L552.44,76.31 L553.16,57.14 L553.89,69.54 L554.61,53.68 L555.34,76.82 L556.06,64.92 L556.78,75.44 L557.51,66.03 L558.23,70.31 L558.96,58.79 L559.68,74.20 L560.41,57.76 L561.13,78.46 L561.85,57.46 L562.58,74.67 L563.30,58.48 L564.03,70.85 L564.75,65.14 L565.47,77.32 L566.20,64.87 L566.92,71.83 L567.65,62.86 L568.37,76.32 L569.09,61.15 L569.82,69.69 L570.54,63.08 L571.27,69.10 L571.99,57.06 L572.72,69.76 L573.44,61.89 L574.16,70.59 L574.89,58.34 L575.61,75.57 L576.34,62.53 L577.06,71.39 L577.78,62.25 L578.51,71.28 L579.23,64.78 L579.96,71.81 L580.68,62.31 L581.40,80.62 L582.13,52.86 L582.85,76.36 L583.58,63.99 L584.30,73.67 L585.02,65.08 L585.75,75.31 L586.47,63.92 L587.20,71.76 L587.92,63.69 L588.65,77.15 L589.37,62.31 L590.09,72.79 L590.82,61.27 L591.54,75.32 L592.27,62.72 L592.99,69.39 L593.71,59.51 L594.44,72.99 L595.16,65.90 L595.89,76.69 L596.61,59.33 L597.33,73.26 L598.06,61.75 L598.78,73.46 L599.51,64.76 L600.23,79.99 L600.96,58.17 L601.68,71.95 L602.40,60.90 L603.13,70.00 L603.85,57.92 L604.58,75.30 L605.30,59.83" fill="none" stroke="#e86a10" stroke-width="0.36" stroke-opacity="1" stroke-linejoin="round"/>
<rect x="398.2" y="10.5" width="207.1" height="111.6" fill="none" stroke="#222" stroke-width="1.1"/>
<g stroke="#222" stroke-width="0.9">
<line x1="398.2" y1="109.00" x2="401.4" y2="109.00"/>
<line x1="398.2" y1="96.40" x2="400.0" y2="96.40"/>
<line x1="398.2" y1="83.80" x2="401.4" y2="83.80"/>
<line x1="398.2" y1="71.20" x2="400.0" y2="71.20"/>
<line x1="398.2" y1="58.60" x2="401.4" y2="58.60"/>
<line x1="398.2" y1="46.00" x2="400.0" y2="46.00"/>
<line x1="398.2" y1="33.40" x2="401.4" y2="33.40"/>
<line x1="398.2" y1="20.80" x2="400.0" y2="20.80"/>
<line x1="418.91" y1="122.1" x2="418.91" y2="120.3"/>
<line x1="439.62" y1="122.1" x2="439.62" y2="118.89999999999999"/>
<line x1="460.33" y1="122.1" x2="460.33" y2="120.3"/>
<line x1="481.04" y1="122.1" x2="481.04" y2="118.89999999999999"/>
<line x1="501.75" y1="122.1" x2="501.75" y2="120.3"/>
<line x1="522.46" y1="122.1" x2="522.46" y2="118.89999999999999"/>
<line x1="543.17" y1="122.1" x2="543.17" y2="120.3"/>
<line x1="563.88" y1="122.1" x2="563.88" y2="118.89999999999999"/>
<line x1="584.59" y1="122.1" x2="584.59" y2="120.3"/>
</g>
<g class="sf" font-size="10.8" text-anchor="end">
<text x="393.5" y="37.1">400</text>
<text x="393.5" y="62">300</text>
<text x="393.5" y="87.3">200</text>
<text x="393.5" y="112.6">100</text>
</g>
<g class="sf" font-size="10.3" text-anchor="middle">
<text x="398.20" y="133.7">0</text>
<text x="439.62" y="133.7">2</text>
<text x="481.04" y="133.7">4</text>
<text x="522.46" y="133.7">6</text>
<text x="563.88" y="133.7">8</text>
<text x="605.30" y="133.7">10</text>
</g>
<text class="sf" font-size="10.7" text-anchor="middle" transform="translate(373,64.2) rotate(-90)">Temperature (K)</text>
<text class="sf" x="501.8" y="145" font-size="11" text-anchor="middle">Time (ps)</text>

<!-- ===== Inset crystal D ===== -->
<g id="crystalD">
<path d="M644,33.7 L706,34 L708,62 L694,97.5 L627,98 Z M662,46 L720,46 L716,80 M694,97.5 L700,88" stroke="#a0a0a0" stroke-width="0.5" fill="none"/>
<line x1="681.1" y1="40.2" x2="681.4" y2="46.4" stroke="#6cb47e" stroke-width="1.6"/>
<line x1="681.4" y1="46.4" x2="681.5" y2="48.2" stroke="#dcb4b4" stroke-width="1.1"/>
<line x1="681.5" y1="48.2" x2="681.0" y2="51.9" stroke="#e2c0c0" stroke-width="0.9"/>
<line x1="681.1" y1="40.2" x2="675.8" y2="43.4" stroke="#6cb47e" stroke-width="1.6"/>
<line x1="675.8" y1="43.4" x2="674.6" y2="44.1" stroke="#dcb4b4" stroke-width="1.1"/>
<line x1="674.6" y1="44.1" x2="673.5" y2="48.5" stroke="#e2c0c0" stroke-width="0.9"/>
<line x1="681.1" y1="40.2" x2="676.0" y2="36.6" stroke="#6cb47e" stroke-width="1.6"/>
<line x1="676.0" y1="36.6" x2="674.7" y2="35.6" stroke="#dcb4b4" stroke-width="1.1"/>
<line x1="674.7" y1="35.6" x2="670.8" y2="35.1" stroke="#e2c0c0" stroke-width="0.9"/>
<line x1="681.1" y1="40.2" x2="682.2" y2="34.1" stroke="#6cb47e" stroke-width="1.6"/>
<line x1="682.2" y1="34.1" x2="682.5" y2="32.1" stroke="#dcb4b4" stroke-width="1.1"/>
<line x1="682.5" y1="32.1" x2="685.4" y2="29.2" stroke="#e2c0c0" stroke-width="0.9"/>
<line x1="681.1" y1="40.2" x2="686.2" y2="36.6" stroke="#6cb47e" stroke-width="1.6"/>
<line x1="686.2" y1="36.6" x2="688.0" y2="35.3" stroke="#dcb4b4" stroke-width="1.1"/>
<line x1="688.0" y1="35.3" x2="689.3" y2="31.4" stroke="#e2c0c0" stroke-width="0.9"/>
<line x1="681.1" y1="40.2" x2="686.5" y2="43.3" stroke="#6cb47e" stroke-width="1.6"/>
<line x1="686.5" y1="43.3" x2="688.8" y2="44.5" stroke="#dcb4b4" stroke-width="1.1"/>
<line x1="688.8" y1="44.5" x2="691.8" y2="46.5" stroke="#e2c0c0" stroke-width="0.9"/>
<line x1="716.1" y1="40.2" x2="716.3" y2="34.0" stroke="#6cb47e" stroke-width="1.6"/>
<line x1="716.3" y1="34.0" x2="716.3" y2="32.6" stroke="#dcb4b4" stroke-width="1.1"/>
<line x1="716.3" y1="32.6" x2="718.2" y2="29.2" stroke="#e2c0c0" stroke-width="0.9"/>
<line x1="716.1" y1="40.2" x2="721.4" y2="37.0" stroke="#6cb47e" stroke-width="1.6"/>
<line x1="721.4" y1="37.0" x2="722.9" y2="36.2" stroke="#dcb4b4" stroke-width="1.1"/>
<line x1="722.9" y1="36.2" x2="724.0" y2="31.8" stroke="#e2c0c0" stroke-width="0.9"/>
<line x1="716.1" y1="40.2" x2="721.0" y2="44.0" stroke="#6cb47e" stroke-width="1.6"/>
<line x1="721.0" y1="44.0" x2="722.6" y2="45.2" stroke="#dcb4b4" stroke-width="1.1"/>
<line x1="722.6" y1="45.2" x2="724.5" y2="48.5" stroke="#e2c0c0" stroke-width="0.9"/>
<line x1="716.1" y1="40.2" x2="715.3" y2="46.3" stroke="#6cb47e" stroke-width="1.6"/>
<line x1="715.3" y1="46.3" x2="715.0" y2="48.7" stroke="#dcb4b4" stroke-width="1.1"/>
<line x1="715.0" y1="48.7" x2="711.5" y2="51.5" stroke="#e2c0c0" stroke-width="0.9"/>
<line x1="716.1" y1="40.2" x2="711.1" y2="43.9" stroke="#6cb47e" stroke-width="1.6"/>
<line x1="711.1" y1="43.9" x2="709.1" y2="45.3" stroke="#dcb4b4" stroke-width="1.1"/>
<line x1="709.1" y1="45.3" x2="706.4" y2="47.8" stroke="#e2c0c0" stroke-width="0.9"/>
<line x1="716.1" y1="40.2" x2="711.3" y2="36.3" stroke="#6cb47e" stroke-width="1.6"/>
<line x1="711.3" y1="36.3" x2="709.3" y2="34.6" stroke="#dcb4b4" stroke-width="1.1"/>
<line x1="709.3" y1="34.6" x2="704.9" y2="34.9" stroke="#e2c0c0" stroke-width="0.9"/>
<line x1="637.8" y1="61.8" x2="642.5" y2="65.9" stroke="#6cb47e" stroke-width="1.6"/>
<line x1="642.5" y1="65.9" x2="644.6" y2="67.7" stroke="#dcb4b4" stroke-width="1.1"/>
<line x1="644.6" y1="67.7" x2="647.6" y2="69.6" stroke="#e2c0c0" stroke-width="0.9"/>
<line x1="637.8" y1="61.8" x2="635.4" y2="67.5" stroke="#6cb47e" stroke-width="1.6"/>
<line x1="635.4" y1="67.5" x2="634.7" y2="69.1" stroke="#dcb4b4" stroke-width="1.1"/>
<line x1="634.7" y1="69.1" x2="633.3" y2="72.4" stroke="#e2c0c0" stroke-width="0.9"/>
<line x1="637.8" y1="61.8" x2="631.8" y2="63.3" stroke="#6cb47e" stroke-width="1.6"/>
<line x1="631.8" y1="63.3" x2="630.0" y2="63.8" stroke="#dcb4b4" stroke-width="1.1"/>
<line x1="630.0" y1="63.8" x2="626.4" y2="64.1" stroke="#e2c0c0" stroke-width="0.9"/>
<line x1="637.8" y1="61.8" x2="633.9" y2="57.0" stroke="#6cb47e" stroke-width="1.6"/>
<line x1="633.9" y1="57.0" x2="632.3" y2="54.9" stroke="#dcb4b4" stroke-width="1.1"/>
<line x1="632.3" y1="54.9" x2="631.1" y2="51.3" stroke="#e2c0c0" stroke-width="0.9"/>
<line x1="637.8" y1="61.8" x2="641.0" y2="56.5" stroke="#6cb47e" stroke-width="1.6"/>
<line x1="641.0" y1="56.5" x2="642.4" y2="54.3" stroke="#dcb4b4" stroke-width="1.1"/>
<line x1="642.4" y1="54.3" x2="647.0" y2="53.5" stroke="#e2c0c0" stroke-width="0.9"/>
<line x1="637.8" y1="61.8" x2="644.0" y2="61.1" stroke="#6cb47e" stroke-width="1.6"/>
<line x1="644.0" y1="61.1" x2="645.5" y2="61.0" stroke="#dcb4b4" stroke-width="1.1"/>
<line x1="645.5" y1="61.0" x2="649.1" y2="63.0" stroke="#e2c0c0" stroke-width="0.9"/>
<line x1="675.8" y1="63.4" x2="682.0" y2="63.3" stroke="#6cb47e" stroke-width="1.6"/>
<line x1="682.0" y1="63.3" x2="684.2" y2="63.2" stroke="#dcb4b4" stroke-width="1.1"/>
<line x1="684.2" y1="63.2" x2="687.7" y2="64.7" stroke="#e2c0c0" stroke-width="0.9"/>
<line x1="675.8" y1="63.4" x2="680.6" y2="67.3" stroke="#6cb47e" stroke-width="1.6"/>
<line x1="680.6" y1="67.3" x2="682.6" y2="68.9" stroke="#dcb4b4" stroke-width="1.1"/>
<line x1="682.6" y1="68.9" x2="685.0" y2="71.6" stroke="#e2c0c0" stroke-width="0.9"/>
<line x1="675.8" y1="63.4" x2="674.6" y2="69.5" stroke="#6cb47e" stroke-width="1.6"/>
<line x1="674.6" y1="69.5" x2="674.3" y2="70.9" stroke="#dcb4b4" stroke-width="1.1"/>
<line x1="674.3" y1="70.9" x2="671.4" y2="73.7" stroke="#e2c0c0" stroke-width="0.9"/>
<line x1="675.8" y1="63.4" x2="669.6" y2="63.3" stroke="#6cb47e" stroke-width="1.6"/>
<line x1="669.6" y1="63.3" x2="668.2" y2="63.2" stroke="#dcb4b4" stroke-width="1.1"/>
<line x1="668.2" y1="63.2" x2="664.8" y2="61.1" stroke="#e2c0c0" stroke-width="0.9"/>
<line x1="675.8" y1="63.4" x2="671.4" y2="59.0" stroke="#6cb47e" stroke-width="1.6"/>
<line x1="671.4" y1="59.0" x2="670.3" y2="58.0" stroke="#dcb4b4" stroke-width="1.1"/>
<line x1="670.3" y1="58.0" x2="666.8" y2="56.5" stroke="#e2c0c0" stroke-width="0.9"/>
<line x1="675.8" y1="63.4" x2="678.4" y2="57.8" stroke="#6cb47e" stroke-width="1.6"/>
<line x1="678.4" y1="57.8" x2="679.5" y2="55.4" stroke="#dcb4b4" stroke-width="1.1"/>
<line x1="679.5" y1="55.4" x2="677.8" y2="51.2" stroke="#e2c0c0" stroke-width="0.9"/>
<line x1="666.6" y1="70.6" x2="661.1" y2="67.7" stroke="#6cb47e" stroke-width="1.6"/>
<line x1="661.1" y1="67.7" x2="659.0" y2="66.5" stroke="#dcb4b4" stroke-width="1.1"/>
<line x1="659.0" y1="66.5" x2="655.3" y2="66.0" stroke="#e2c0c0" stroke-width="0.9"/>
<line x1="666.6" y1="70.6" x2="668.9" y2="64.9" stroke="#6cb47e" stroke-width="1.6"/>
<line x1="668.9" y1="64.9" x2="670.0" y2="62.3" stroke="#dcb4b4" stroke-width="1.1"/>
<line x1="670.0" y1="62.3" x2="671.4" y2="59.0" stroke="#e2c0c0" stroke-width="0.9"/>
<line x1="666.6" y1="70.6" x2="672.8" y2="70.1" stroke="#6cb47e" stroke-width="1.6"/>
<line x1="672.8" y1="70.1" x2="674.5" y2="70.0" stroke="#dcb4b4" stroke-width="1.1"/>
<line x1="674.5" y1="70.0" x2="677.5" y2="66.8" stroke="#e2c0c0" stroke-width="0.9"/>
<line x1="666.6" y1="70.6" x2="671.1" y2="74.9" stroke="#6cb47e" stroke-width="1.6"/>
<line x1="671.1" y1="74.9" x2="672.0" y2="75.9" stroke="#dcb4b4" stroke-width="1.1"/>
<line x1="672.0" y1="75.9" x2="675.9" y2="76.8" stroke="#e2c0c0" stroke-width="0.9"/>
<line x1="666.6" y1="70.6" x2="665.7" y2="76.7" stroke="#6cb47e" stroke-width="1.6"/>
<line x1="665.7" y1="76.7" x2="665.3" y2="78.9" stroke="#dcb4b4" stroke-width="1.1"/>
<line x1="665.3" y1="78.9" x2="667.3" y2="82.6" stroke="#e2c0c0" stroke-width="0.9"/>
<line x1="666.6" y1="70.6" x2="661.3" y2="73.9" stroke="#6cb47e" stroke-width="1.6"/>
<line x1="661.3" y1="73.9" x2="659.1" y2="75.2" stroke="#dcb4b4" stroke-width="1.1"/>
<line x1="659.1" y1="75.2" x2="656.9" y2="78.3" stroke="#e2c0c0" stroke-width="0.9"/>
<line x1="703.1" y1="70.4" x2="709.3" y2="70.0" stroke="#6cb47e" stroke-width="1.6"/>
<line x1="709.3" y1="70.0" x2="711.2" y2="69.9" stroke="#dcb4b4" stroke-width="1.1"/>
<line x1="711.2" y1="69.9" x2="714.7" y2="69.4" stroke="#e2c0c0" stroke-width="0.9"/>
<line x1="703.1" y1="70.4" x2="707.4" y2="74.8" stroke="#6cb47e" stroke-width="1.6"/>
<line x1="707.4" y1="74.8" x2="709.0" y2="76.5" stroke="#dcb4b4" stroke-width="1.1"/>
<line x1="709.0" y1="76.5" x2="711.0" y2="79.5" stroke="#e2c0c0" stroke-width="0.9"/>
<line x1="703.1" y1="70.4" x2="701.3" y2="76.3" stroke="#6cb47e" stroke-width="1.6"/>
<line x1="701.3" y1="76.3" x2="700.7" y2="78.5" stroke="#dcb4b4" stroke-width="1.1"/>
<line x1="700.7" y1="78.5" x2="696.7" y2="80.6" stroke="#e2c0c0" stroke-width="0.9"/>
<line x1="703.1" y1="70.4" x2="697.1" y2="72.0" stroke="#6cb47e" stroke-width="1.6"/>
<line x1="697.1" y1="72.0" x2="695.2" y2="72.5" stroke="#dcb4b4" stroke-width="1.1"/>
<line x1="695.2" y1="72.5" x2="691.4" y2="71.9" stroke="#e2c0c0" stroke-width="0.9"/>
<line x1="703.1" y1="70.4" x2="698.2" y2="66.6" stroke="#6cb47e" stroke-width="1.6"/>
<line x1="698.2" y1="66.6" x2="696.8" y2="65.5" stroke="#dcb4b4" stroke-width="1.1"/>
<line x1="696.8" y1="65.5" x2="696.3" y2="61.1" stroke="#e2c0c0" stroke-width="0.9"/>
<line x1="703.1" y1="70.4" x2="704.8" y2="64.4" stroke="#6cb47e" stroke-width="1.6"/>
<line x1="704.8" y1="64.4" x2="705.4" y2="62.4" stroke="#dcb4b4" stroke-width="1.1"/>
<line x1="705.4" y1="62.4" x2="702.9" y2="58.5" stroke="#e2c0c0" stroke-width="0.9"/>
<line x1="624.1" y1="92.5" x2="618.6" y2="95.4" stroke="#6cb47e" stroke-width="1.6"/>
<line x1="618.6" y1="95.4" x2="617.5" y2="96.1" stroke="#dcb4b4" stroke-width="1.1"/>
<line x1="617.5" y1="96.1" x2="614.0" y2="97.1" stroke="#e2c0c0" stroke-width="0.9"/>
<line x1="624.1" y1="92.5" x2="618.9" y2="89.1" stroke="#6cb47e" stroke-width="1.6"/>
<line x1="618.9" y1="89.1" x2="617.8" y2="88.3" stroke="#dcb4b4" stroke-width="1.1"/>
<line x1="617.8" y1="88.3" x2="615.2" y2="85.7" stroke="#e2c0c0" stroke-width="0.9"/>
<line x1="624.1" y1="92.5" x2="623.9" y2="86.3" stroke="#6cb47e" stroke-width="1.6"/>
<line x1="623.9" y1="86.3" x2="623.9" y2="84.0" stroke="#dcb4b4" stroke-width="1.1"/>
<line x1="623.9" y1="84.0" x2="622.7" y2="80.5" stroke="#e2c0c0" stroke-width="0.9"/>
<line x1="624.1" y1="92.5" x2="629.7" y2="89.9" stroke="#6cb47e" stroke-width="1.6"/>
<line x1="629.7" y1="89.9" x2="631.9" y2="88.9" stroke="#dcb4b4" stroke-width="1.1"/>
<line x1="631.9" y1="88.9" x2="633.3" y2="84.5" stroke="#e2c0c0" stroke-width="0.9"/>
<line x1="624.1" y1="92.5" x2="630.0" y2="94.3" stroke="#6cb47e" stroke-width="1.6"/>
<line x1="630.0" y1="94.3" x2="632.2" y2="95.0" stroke="#dcb4b4" stroke-width="1.1"/>
<line x1="632.2" y1="95.0" x2="634.3" y2="99.1" stroke="#e2c0c0" stroke-width="0.9"/>
<line x1="624.1" y1="92.5" x2="624.9" y2="98.6" stroke="#6cb47e" stroke-width="1.6"/>
<line x1="624.9" y1="98.6" x2="625.2" y2="100.6" stroke="#dcb4b4" stroke-width="1.1"/>
<line x1="625.2" y1="100.6" x2="625.0" y2="104.2" stroke="#e2c0c0" stroke-width="0.9"/>
<line x1="660.5" y1="93.3" x2="658.2" y2="99.1" stroke="#6cb47e" stroke-width="1.6"/>
<line x1="658.2" y1="99.1" x2="657.6" y2="100.7" stroke="#dcb4b4" stroke-width="1.1"/>
<line x1="657.6" y1="100.7" x2="657.2" y2="104.4" stroke="#e2c0c0" stroke-width="0.9"/>
<line x1="660.5" y1="93.3" x2="654.3" y2="93.5" stroke="#6cb47e" stroke-width="1.6"/>
<line x1="654.3" y1="93.5" x2="652.6" y2="93.6" stroke="#dcb4b4" stroke-width="1.1"/>
<line x1="652.6" y1="93.6" x2="649.0" y2="94.6" stroke="#e2c0c0" stroke-width="0.9"/>
<line x1="660.5" y1="93.3" x2="657.7" y2="87.8" stroke="#6cb47e" stroke-width="1.6"/>
<line x1="657.7" y1="87.8" x2="657.1" y2="86.6" stroke="#dcb4b4" stroke-width="1.1"/>
<line x1="657.1" y1="86.6" x2="655.9" y2="83.2" stroke="#e2c0c0" stroke-width="0.9"/>
<line x1="660.5" y1="93.3" x2="663.8" y2="88.0" stroke="#6cb47e" stroke-width="1.6"/>
<line x1="663.8" y1="88.0" x2="664.7" y2="86.5" stroke="#dcb4b4" stroke-width="1.1"/>
<line x1="664.7" y1="86.5" x2="664.9" y2="82.6" stroke="#e2c0c0" stroke-width="0.9"/>
<line x1="660.5" y1="93.3" x2="666.7" y2="93.7" stroke="#6cb47e" stroke-width="1.6"/>
<line x1="666.7" y1="93.7" x2="668.3" y2="93.8" stroke="#dcb4b4" stroke-width="1.1"/>
<line x1="668.3" y1="93.8" x2="671.9" y2="91.9" stroke="#e2c0c0" stroke-width="0.9"/>
<line x1="660.5" y1="93.3" x2="664.2" y2="98.3" stroke="#6cb47e" stroke-width="1.6"/>
<line x1="664.2" y1="98.3" x2="665.6" y2="100.2" stroke="#dcb4b4" stroke-width="1.1"/>
<line x1="665.6" y1="100.2" x2="669.9" y2="101.1" stroke="#e2c0c0" stroke-width="0.9"/>
<line x1="659.5" y1="50.8" x2="655.7" y2="60.1" stroke="#e2741a" stroke-width="1.4"/>
<line x1="659.5" y1="50.8" x2="651.7" y2="57.1" stroke="#e2741a" stroke-width="1.4"/>
<line x1="659.5" y1="50.8" x2="649.5" y2="50.8" stroke="#e2741a" stroke-width="1.4"/>
<line x1="659.5" y1="50.8" x2="650.6" y2="46.3" stroke="#e2741a" stroke-width="1.4"/>
<line x1="659.5" y1="50.8" x2="654.8" y2="42.0" stroke="#e2741a" stroke-width="1.4"/>
<line x1="659.5" y1="50.8" x2="660.5" y2="40.9" stroke="#e2741a" stroke-width="1.4"/>
<line x1="659.5" y1="50.8" x2="665.5" y2="42.8" stroke="#e2741a" stroke-width="1.4"/>
<line x1="659.5" y1="50.8" x2="669.1" y2="47.9" stroke="#e2741a" stroke-width="1.4"/>
<line x1="659.5" y1="50.8" x2="668.3" y2="55.5" stroke="#e2741a" stroke-width="1.4"/>
<line x1="659.5" y1="50.8" x2="664.4" y2="59.5" stroke="#e2741a" stroke-width="1.4"/>
<line x1="659.5" y1="50.8" x2="659.3" y2="60.8" stroke="#e2741a" stroke-width="1.4"/>
<line x1="694.4" y1="51.8" x2="689.9" y2="60.7" stroke="#e2741a" stroke-width="1.4"/>
<line x1="694.4" y1="51.8" x2="684.9" y2="54.8" stroke="#e2741a" stroke-width="1.4"/>
<line x1="694.4" y1="51.8" x2="684.9" y2="48.7" stroke="#e2741a" stroke-width="1.4"/>
<line x1="694.4" y1="51.8" x2="685.7" y2="46.8" stroke="#e2741a" stroke-width="1.4"/>
<line x1="694.4" y1="51.8" x2="692.2" y2="42.0" stroke="#e2741a" stroke-width="1.4"/>
<line x1="694.4" y1="51.8" x2="697.7" y2="42.3" stroke="#e2741a" stroke-width="1.4"/>
<line x1="694.4" y1="51.8" x2="701.9" y2="45.2" stroke="#e2741a" stroke-width="1.4"/>
<line x1="694.4" y1="51.8" x2="704.3" y2="50.5" stroke="#e2741a" stroke-width="1.4"/>
<line x1="694.4" y1="51.8" x2="702.7" y2="57.4" stroke="#e2741a" stroke-width="1.4"/>
<line x1="694.4" y1="51.8" x2="699.4" y2="60.5" stroke="#e2741a" stroke-width="1.4"/>
<line x1="694.4" y1="51.8" x2="695.3" y2="61.8" stroke="#e2741a" stroke-width="1.4"/>
<line x1="645.5" y1="82" x2="645.2" y2="72.0" stroke="#e2741a" stroke-width="1.4"/>
<line x1="645.5" y1="82" x2="650.9" y2="73.6" stroke="#e2741a" stroke-width="1.4"/>
<line x1="645.5" y1="82" x2="655.2" y2="79.4" stroke="#e2741a" stroke-width="1.4"/>
<line x1="645.5" y1="82" x2="654.8" y2="85.6" stroke="#e2741a" stroke-width="1.4"/>
<line x1="645.5" y1="82" x2="652.4" y2="89.3" stroke="#e2741a" stroke-width="1.4"/>
<line x1="645.5" y1="82" x2="647.2" y2="91.9" stroke="#e2741a" stroke-width="1.4"/>
<line x1="645.5" y1="82" x2="640.8" y2="90.8" stroke="#e2741a" stroke-width="1.4"/>
<line x1="645.5" y1="82" x2="636.7" y2="86.8" stroke="#e2741a" stroke-width="1.4"/>
<line x1="645.5" y1="82" x2="635.6" y2="81.0" stroke="#e2741a" stroke-width="1.4"/>
<line x1="645.5" y1="82" x2="636.7" y2="77.3" stroke="#e2741a" stroke-width="1.4"/>
<line x1="645.5" y1="82" x2="641.3" y2="72.9" stroke="#e2741a" stroke-width="1.4"/>
<line x1="681.1" y1="82" x2="673.0" y2="87.9" stroke="#e2741a" stroke-width="1.4"/>
<line x1="681.1" y1="82" x2="671.8" y2="85.6" stroke="#e2741a" stroke-width="1.4"/>
<line x1="681.1" y1="82" x2="672.2" y2="77.5" stroke="#e2741a" stroke-width="1.4"/>
<line x1="681.1" y1="82" x2="673.9" y2="75.1" stroke="#e2741a" stroke-width="1.4"/>
<line x1="681.1" y1="82" x2="681.4" y2="72.0" stroke="#e2741a" stroke-width="1.4"/>
<line x1="681.1" y1="82" x2="687.1" y2="74.0" stroke="#e2741a" stroke-width="1.4"/>
<line x1="681.1" y1="82" x2="689.0" y2="75.9" stroke="#e2741a" stroke-width="1.4"/>
<line x1="681.1" y1="82" x2="690.8" y2="84.5" stroke="#e2741a" stroke-width="1.4"/>
<line x1="681.1" y1="82" x2="688.5" y2="88.8" stroke="#e2741a" stroke-width="1.4"/>
<line x1="681.1" y1="82" x2="683.7" y2="91.7" stroke="#e2741a" stroke-width="1.4"/>
<line x1="681.1" y1="82" x2="678.8" y2="91.7" stroke="#e2741a" stroke-width="1.4"/>
<circle cx="681.5" cy="48.2" r="1.6" fill="#fbeeee" stroke="#c99494" stroke-width="0.65"/>
<circle cx="681.0" cy="51.9" r="1.6" fill="#fbeeee" stroke="#c99494" stroke-width="0.65"/>
<circle cx="674.6" cy="44.1" r="1.6" fill="#fbeeee" stroke="#c99494" stroke-width="0.65"/>
<circle cx="673.5" cy="48.5" r="1.6" fill="#fbeeee" stroke="#c99494" stroke-width="0.65"/>
<circle cx="674.7" cy="35.6" r="1.6" fill="#fbeeee" stroke="#c99494" stroke-width="0.65"/>
<circle cx="670.8" cy="35.1" r="1.6" fill="#fbeeee" stroke="#c99494" stroke-width="0.65"/>
<circle cx="682.5" cy="32.1" r="1.6" fill="#fbeeee" stroke="#c99494" stroke-width="0.65"/>
<circle cx="685.4" cy="29.2" r="1.6" fill="#fbeeee" stroke="#c99494" stroke-width="0.65"/>
<circle cx="688.0" cy="35.3" r="1.6" fill="#fbeeee" stroke="#c99494" stroke-width="0.65"/>
<circle cx="689.3" cy="31.4" r="1.6" fill="#fbeeee" stroke="#c99494" stroke-width="0.65"/>
<circle cx="688.8" cy="44.5" r="1.6" fill="#fbeeee" stroke="#c99494" stroke-width="0.65"/>
<circle cx="691.8" cy="46.5" r="1.6" fill="#fbeeee" stroke="#c99494" stroke-width="0.65"/>
<circle cx="716.3" cy="32.6" r="1.6" fill="#fbeeee" stroke="#c99494" stroke-width="0.65"/>
<circle cx="718.2" cy="29.2" r="1.6" fill="#fbeeee" stroke="#c99494" stroke-width="0.65"/>
<circle cx="722.9" cy="36.2" r="1.6" fill="#fbeeee" stroke="#c99494" stroke-width="0.65"/>
<circle cx="724.0" cy="31.8" r="1.6" fill="#fbeeee" stroke="#c99494" stroke-width="0.65"/>
<circle cx="722.6" cy="45.2" r="1.6" fill="#fbeeee" stroke="#c99494" stroke-width="0.65"/>
<circle cx="724.5" cy="48.5" r="1.6" fill="#fbeeee" stroke="#c99494" stroke-width="0.65"/>
<circle cx="715.0" cy="48.7" r="1.6" fill="#fbeeee" stroke="#c99494" stroke-width="0.65"/>
<circle cx="711.5" cy="51.5" r="1.6" fill="#fbeeee" stroke="#c99494" stroke-width="0.65"/>
<circle cx="709.1" cy="45.3" r="1.6" fill="#fbeeee" stroke="#c99494" stroke-width="0.65"/>
<circle cx="706.4" cy="47.8" r="1.6" fill="#fbeeee" stroke="#c99494" stroke-width="0.65"/>
<circle cx="709.3" cy="34.6" r="1.6" fill="#fbeeee" stroke="#c99494" stroke-width="0.65"/>
<circle cx="704.9" cy="34.9" r="1.6" fill="#fbeeee" stroke="#c99494" stroke-width="0.65"/>
<circle cx="644.6" cy="67.7" r="1.6" fill="#fbeeee" stroke="#c99494" stroke-width="0.65"/>
<circle cx="647.6" cy="69.6" r="1.6" fill="#fbeeee" stroke="#c99494" stroke-width="0.65"/>
<circle cx="634.7" cy="69.1" r="1.6" fill="#fbeeee" stroke="#c99494" stroke-width="0.65"/>
<circle cx="633.3" cy="72.4" r="1.6" fill="#fbeeee" stroke="#c99494" stroke-width="0.65"/>
<circle cx="630.0" cy="63.8" r="1.6" fill="#fbeeee" stroke="#c99494" stroke-width="0.65"/>
<circle cx="626.4" cy="64.1" r="1.6" fill="#fbeeee" stroke="#c99494" stroke-width="0.65"/>
<circle cx="632.3" cy="54.9" r="1.6" fill="#fbeeee" stroke="#c99494" stroke-width="0.65"/>
<circle cx="631.1" cy="51.3" r="1.6" fill="#fbeeee" stroke="#c99494" stroke-width="0.65"/>
<circle cx="642.4" cy="54.3" r="1.6" fill="#fbeeee" stroke="#c99494" stroke-width="0.65"/>
<circle cx="647.0" cy="53.5" r="1.6" fill="#fbeeee" stroke="#c99494" stroke-width="0.65"/>
<circle cx="645.5" cy="61.0" r="1.6" fill="#fbeeee" stroke="#c99494" stroke-width="0.65"/>
<circle cx="649.1" cy="63.0" r="1.6" fill="#fbeeee" stroke="#c99494" stroke-width="0.65"/>
<circle cx="684.2" cy="63.2" r="1.6" fill="#fbeeee" stroke="#c99494" stroke-width="0.65"/>
<circle cx="687.7" cy="64.7" r="1.6" fill="#fbeeee" stroke="#c99494" stroke-width="0.65"/>
<circle cx="682.6" cy="68.9" r="1.6" fill="#fbeeee" stroke="#c99494" stroke-width="0.65"/>
<circle cx="685.0" cy="71.6" r="1.6" fill="#fbeeee" stroke="#c99494" stroke-width="0.65"/>
<circle cx="674.3" cy="70.9" r="1.6" fill="#fbeeee" stroke="#c99494" stroke-width="0.65"/>
<circle cx="671.4" cy="73.7" r="1.6" fill="#fbeeee" stroke="#c99494" stroke-width="0.65"/>
<circle cx="668.2" cy="63.2" r="1.6" fill="#fbeeee" stroke="#c99494" stroke-width="0.65"/>
<circle cx="664.8" cy="61.1" r="1.6" fill="#fbeeee" stroke="#c99494" stroke-width="0.65"/>
<circle cx="670.3" cy="58.0" r="1.6" fill="#fbeeee" stroke="#c99494" stroke-width="0.65"/>
<circle cx="666.8" cy="56.5" r="1.6" fill="#fbeeee" stroke="#c99494" stroke-width="0.65"/>
<circle cx="679.5" cy="55.4" r="1.6" fill="#fbeeee" stroke="#c99494" stroke-width="0.65"/>
<circle cx="677.8" cy="51.2" r="1.6" fill="#fbeeee" stroke="#c99494" stroke-width="0.65"/>
<circle cx="659.0" cy="66.5" r="1.6" fill="#fbeeee" stroke="#c99494" stroke-width="0.65"/>
<circle cx="655.3" cy="66.0" r="1.6" fill="#fbeeee" stroke="#c99494" stroke-width="0.65"/>
<circle cx="670.0" cy="62.3" r="1.6" fill="#fbeeee" stroke="#c99494" stroke-width="0.65"/>
<circle cx="671.4" cy="59.0" r="1.6" fill="#fbeeee" stroke="#c99494" stroke-width="0.65"/>
<circle cx="674.5" cy="70.0" r="1.6" fill="#fbeeee" stroke="#c99494" stroke-width="0.65"/>
<circle cx="677.5" cy="66.8" r="1.6" fill="#fbeeee" stroke="#c99494" stroke-width="0.65"/>
<circle cx="672.0" cy="75.9" r="1.6" fill="#fbeeee" stroke="#c99494" stroke-width="0.65"/>
<circle cx="675.9" cy="76.8" r="1.6" fill="#fbeeee" stroke="#c99494" stroke-width="0.65"/>
<circle cx="665.3" cy="78.9" r="1.6" fill="#fbeeee" stroke="#c99494" stroke-width="0.65"/>
<circle cx="667.3" cy="82.6" r="1.6" fill="#fbeeee" stroke="#c99494" stroke-width="0.65"/>
<circle cx="659.1" cy="75.2" r="1.6" fill="#fbeeee" stroke="#c99494" stroke-width="0.65"/>
<circle cx="656.9" cy="78.3" r="1.6" fill="#fbeeee" stroke="#c99494" stroke-width="0.65"/>
<circle cx="711.2" cy="69.9" r="1.6" fill="#fbeeee" stroke="#c99494" stroke-width="0.65"/>
<circle cx="714.7" cy="69.4" r="1.6" fill="#fbeeee" stroke="#c99494" stroke-width="0.65"/>
<circle cx="709.0" cy="76.5" r="1.6" fill="#fbeeee" stroke="#c99494" stroke-width="0.65"/>
<circle cx="711.0" cy="79.5" r="1.6" fill="#fbeeee" stroke="#c99494" stroke-width="0.65"/>
<circle cx="700.7" cy="78.5" r="1.6" fill="#fbeeee" stroke="#c99494" stroke-width="0.65"/>
<circle cx="696.7" cy="80.6" r="1.6" fill="#fbeeee" stroke="#c99494" stroke-width="0.65"/>
<circle cx="695.2" cy="72.5" r="1.6" fill="#fbeeee" stroke="#c99494" stroke-width="0.65"/>
<circle cx="691.4" cy="71.9" r="1.6" fill="#fbeeee" stroke="#c99494" stroke-width="0.65"/>
<circle cx="696.8" cy="65.5" r="1.6" fill="#fbeeee" stroke="#c99494" stroke-width="0.65"/>
<circle cx="696.3" cy="61.1" r="1.6" fill="#fbeeee" stroke="#c99494" stroke-width="0.65"/>
<circle cx="705.4" cy="62.4" r="1.6" fill="#fbeeee" stroke="#c99494" stroke-width="0.65"/>
<circle cx="702.9" cy="58.5" r="1.6" fill="#fbeeee" stroke="#c99494" stroke-width="0.65"/>
<circle cx="617.5" cy="96.1" r="1.6" fill="#fbeeee" stroke="#c99494" stroke-width="0.65"/>
<circle cx="614.0" cy="97.1" r="1.6" fill="#fbeeee" stroke="#c99494" stroke-width="0.65"/>
<circle cx="617.8" cy="88.3" r="1.6" fill="#fbeeee" stroke="#c99494" stroke-width="0.65"/>
<circle cx="615.2" cy="85.7" r="1.6" fill="#fbeeee" stroke="#c99494" stroke-width="0.65"/>
<circle cx="623.9" cy="84.0" r="1.6" fill="#fbeeee" stroke="#c99494" stroke-width="0.65"/>
<circle cx="622.7" cy="80.5" r="1.6" fill="#fbeeee" stroke="#c99494" stroke-width="0.65"/>
<circle cx="631.9" cy="88.9" r="1.6" fill="#fbeeee" stroke="#c99494" stroke-width="0.65"/>
<circle cx="633.3" cy="84.5" r="1.6" fill="#fbeeee" stroke="#c99494" stroke-width="0.65"/>
<circle cx="632.2" cy="95.0" r="1.6" fill="#fbeeee" stroke="#c99494" stroke-width="0.65"/>
<circle cx="634.3" cy="99.1" r="1.6" fill="#fbeeee" stroke="#c99494" stroke-width="0.65"/>
<circle cx="625.2" cy="100.6" r="1.6" fill="#fbeeee" stroke="#c99494" stroke-width="0.65"/>
<circle cx="625.0" cy="104.2" r="1.6" fill="#fbeeee" stroke="#c99494" stroke-width="0.65"/>
<circle cx="657.6" cy="100.7" r="1.6" fill="#fbeeee" stroke="#c99494" stroke-width="0.65"/>
<circle cx="657.2" cy="104.4" r="1.6" fill="#fbeeee" stroke="#c99494" stroke-width="0.65"/>
<circle cx="652.6" cy="93.6" r="1.6" fill="#fbeeee" stroke="#c99494" stroke-width="0.65"/>
<circle cx="649.0" cy="94.6" r="1.6" fill="#fbeeee" stroke="#c99494" stroke-width="0.65"/>
<circle cx="657.1" cy="86.6" r="1.6" fill="#fbeeee" stroke="#c99494" stroke-width="0.65"/>
<circle cx="655.9" cy="83.2" r="1.6" fill="#fbeeee" stroke="#c99494" stroke-width="0.65"/>
<circle cx="664.7" cy="86.5" r="1.6" fill="#fbeeee" stroke="#c99494" stroke-width="0.65"/>
<circle cx="664.9" cy="82.6" r="1.6" fill="#fbeeee" stroke="#c99494" stroke-width="0.65"/>
<circle cx="668.3" cy="93.8" r="1.6" fill="#fbeeee" stroke="#c99494" stroke-width="0.65"/>
<circle cx="671.9" cy="91.9" r="1.6" fill="#fbeeee" stroke="#c99494" stroke-width="0.65"/>
<circle cx="665.6" cy="100.2" r="1.6" fill="#fbeeee" stroke="#c99494" stroke-width="0.65"/>
<circle cx="669.9" cy="101.1" r="1.6" fill="#fbeeee" stroke="#c99494" stroke-width="0.65"/>
<circle cx="655.1" cy="61.6" r="1.6" fill="#fbeeee" stroke="#c99494" stroke-width="0.65"/>
<circle cx="654.4" cy="65.2" r="1.6" fill="#fbeeee" stroke="#c99494" stroke-width="0.65"/>
<circle cx="651.2" cy="57.5" r="1.6" fill="#fbeeee" stroke="#c99494" stroke-width="0.65"/>
<circle cx="647.4" cy="58.6" r="1.6" fill="#fbeeee" stroke="#c99494" stroke-width="0.65"/>
<circle cx="649.1" cy="50.8" r="1.6" fill="#fbeeee" stroke="#c99494" stroke-width="0.65"/>
<circle cx="646.2" cy="54.4" r="1.6" fill="#fbeeee" stroke="#c99494" stroke-width="0.65"/>
<circle cx="649.2" cy="45.5" r="1.6" fill="#fbeeee" stroke="#c99494" stroke-width="0.65"/>
<circle cx="648.4" cy="41.3" r="1.6" fill="#fbeeee" stroke="#c99494" stroke-width="0.65"/>
<circle cx="654.0" cy="40.6" r="1.6" fill="#fbeeee" stroke="#c99494" stroke-width="0.65"/>
<circle cx="653.7" cy="36.7" r="1.6" fill="#fbeeee" stroke="#c99494" stroke-width="0.65"/>
<circle cx="660.6" cy="40.6" r="1.6" fill="#fbeeee" stroke="#c99494" stroke-width="0.65"/>
<circle cx="658.9" cy="37.0" r="1.6" fill="#fbeeee" stroke="#c99494" stroke-width="0.65"/>
<circle cx="665.9" cy="42.3" r="1.6" fill="#fbeeee" stroke="#c99494" stroke-width="0.65"/>
<circle cx="667.2" cy="39.2" r="1.6" fill="#fbeeee" stroke="#c99494" stroke-width="0.65"/>
<circle cx="670.8" cy="47.3" r="1.6" fill="#fbeeee" stroke="#c99494" stroke-width="0.65"/>
<circle cx="672.1" cy="43.3" r="1.6" fill="#fbeeee" stroke="#c99494" stroke-width="0.65"/>
<circle cx="669.9" cy="56.3" r="1.6" fill="#fbeeee" stroke="#c99494" stroke-width="0.65"/>
<circle cx="669.6" cy="61.8" r="1.6" fill="#fbeeee" stroke="#c99494" stroke-width="0.65"/>
<circle cx="665.3" cy="61.1" r="1.6" fill="#fbeeee" stroke="#c99494" stroke-width="0.65"/>
<circle cx="669.5" cy="62.5" r="1.6" fill="#fbeeee" stroke="#c99494" stroke-width="0.65"/>
<circle cx="659.3" cy="62.1" r="1.6" fill="#fbeeee" stroke="#c99494" stroke-width="0.65"/>
<circle cx="659.1" cy="65.2" r="1.6" fill="#fbeeee" stroke="#c99494" stroke-width="0.65"/>
<circle cx="689.9" cy="60.9" r="1.6" fill="#fbeeee" stroke="#c99494" stroke-width="0.65"/>
<circle cx="687.8" cy="63.2" r="1.6" fill="#fbeeee" stroke="#c99494" stroke-width="0.65"/>
<circle cx="684.8" cy="54.8" r="1.6" fill="#fbeeee" stroke="#c99494" stroke-width="0.65"/>
<circle cx="680.8" cy="52.1" r="1.6" fill="#fbeeee" stroke="#c99494" stroke-width="0.65"/>
<circle cx="683.2" cy="48.2" r="1.6" fill="#fbeeee" stroke="#c99494" stroke-width="0.65"/>
<circle cx="681.8" cy="43.3" r="1.6" fill="#fbeeee" stroke="#c99494" stroke-width="0.65"/>
<circle cx="684.4" cy="46.1" r="1.6" fill="#fbeeee" stroke="#c99494" stroke-width="0.65"/>
<circle cx="680.4" cy="47.6" r="1.6" fill="#fbeeee" stroke="#c99494" stroke-width="0.65"/>
<circle cx="692.0" cy="41.0" r="1.6" fill="#fbeeee" stroke="#c99494" stroke-width="0.65"/>
<circle cx="690.3" cy="37.6" r="1.6" fill="#fbeeee" stroke="#c99494" stroke-width="0.65"/>
<circle cx="697.9" cy="41.7" r="1.6" fill="#fbeeee" stroke="#c99494" stroke-width="0.65"/>
<circle cx="696.7" cy="37.6" r="1.6" fill="#fbeeee" stroke="#c99494" stroke-width="0.65"/>
<circle cx="703.1" cy="44.2" r="1.6" fill="#fbeeee" stroke="#c99494" stroke-width="0.65"/>
<circle cx="704.3" cy="41.1" r="1.6" fill="#fbeeee" stroke="#c99494" stroke-width="0.65"/>
<circle cx="705.9" cy="50.3" r="1.6" fill="#fbeeee" stroke="#c99494" stroke-width="0.65"/>
<circle cx="708.7" cy="46.5" r="1.6" fill="#fbeeee" stroke="#c99494" stroke-width="0.65"/>
<circle cx="704.0" cy="58.3" r="1.6" fill="#fbeeee" stroke="#c99494" stroke-width="0.65"/>
<circle cx="704.2" cy="62.4" r="1.6" fill="#fbeeee" stroke="#c99494" stroke-width="0.65"/>
<circle cx="700.2" cy="62.0" r="1.6" fill="#fbeeee" stroke="#c99494" stroke-width="0.65"/>
<circle cx="705.4" cy="61.7" r="1.6" fill="#fbeeee" stroke="#c99494" stroke-width="0.65"/>
<circle cx="695.4" cy="62.8" r="1.6" fill="#fbeeee" stroke="#c99494" stroke-width="0.65"/>
<circle cx="696.5" cy="66.0" r="1.6" fill="#fbeeee" stroke="#c99494" stroke-width="0.65"/>
<circle cx="645.2" cy="71.9" r="1.6" fill="#fbeeee" stroke="#c99494" stroke-width="0.65"/>
<circle cx="641.7" cy="69.5" r="1.6" fill="#fbeeee" stroke="#c99494" stroke-width="0.65"/>
<circle cx="651.9" cy="71.9" r="1.6" fill="#fbeeee" stroke="#c99494" stroke-width="0.65"/>
<circle cx="656.3" cy="71.8" r="1.6" fill="#fbeeee" stroke="#c99494" stroke-width="0.65"/>
<circle cx="655.8" cy="79.3" r="1.6" fill="#fbeeee" stroke="#c99494" stroke-width="0.65"/>
<circle cx="658.2" cy="76.7" r="1.6" fill="#fbeeee" stroke="#c99494" stroke-width="0.65"/>
<circle cx="655.9" cy="86.0" r="1.6" fill="#fbeeee" stroke="#c99494" stroke-width="0.65"/>
<circle cx="659.1" cy="85.8" r="1.6" fill="#fbeeee" stroke="#c99494" stroke-width="0.65"/>
<circle cx="652.6" cy="89.4" r="1.6" fill="#fbeeee" stroke="#c99494" stroke-width="0.65"/>
<circle cx="654.6" cy="92.3" r="1.6" fill="#fbeeee" stroke="#c99494" stroke-width="0.65"/>
<circle cx="647.2" cy="92.0" r="1.6" fill="#fbeeee" stroke="#c99494" stroke-width="0.65"/>
<circle cx="650.6" cy="94.3" r="1.6" fill="#fbeeee" stroke="#c99494" stroke-width="0.65"/>
<circle cx="640.0" cy="92.2" r="1.6" fill="#fbeeee" stroke="#c99494" stroke-width="0.65"/>
<circle cx="639.5" cy="95.9" r="1.6" fill="#fbeeee" stroke="#c99494" stroke-width="0.65"/>
<circle cx="636.0" cy="87.2" r="1.6" fill="#fbeeee" stroke="#c99494" stroke-width="0.65"/>
<circle cx="633.7" cy="89.8" r="1.6" fill="#fbeeee" stroke="#c99494" stroke-width="0.65"/>
<circle cx="634.7" cy="80.9" r="1.6" fill="#fbeeee" stroke="#c99494" stroke-width="0.65"/>
<circle cx="631.8" cy="78.6" r="1.6" fill="#fbeeee" stroke="#c99494" stroke-width="0.65"/>
<circle cx="635.7" cy="76.8" r="1.6" fill="#fbeeee" stroke="#c99494" stroke-width="0.65"/>
<circle cx="634.2" cy="73.8" r="1.6" fill="#fbeeee" stroke="#c99494" stroke-width="0.65"/>
<circle cx="640.9" cy="72.2" r="1.6" fill="#fbeeee" stroke="#c99494" stroke-width="0.65"/>
<circle cx="643.0" cy="67.6" r="1.6" fill="#fbeeee" stroke="#c99494" stroke-width="0.65"/>
<circle cx="671.7" cy="88.8" r="1.6" fill="#fbeeee" stroke="#c99494" stroke-width="0.65"/>
<circle cx="670.7" cy="92.6" r="1.6" fill="#fbeeee" stroke="#c99494" stroke-width="0.65"/>
<circle cx="670.3" cy="86.2" r="1.6" fill="#fbeeee" stroke="#c99494" stroke-width="0.65"/>
<circle cx="666.3" cy="85.9" r="1.6" fill="#fbeeee" stroke="#c99494" stroke-width="0.65"/>
<circle cx="671.0" cy="76.9" r="1.6" fill="#fbeeee" stroke="#c99494" stroke-width="0.65"/>
<circle cx="669.2" cy="73.3" r="1.6" fill="#fbeeee" stroke="#c99494" stroke-width="0.65"/>
<circle cx="673.0" cy="74.3" r="1.6" fill="#fbeeee" stroke="#c99494" stroke-width="0.65"/>
<circle cx="668.2" cy="76.3" r="1.6" fill="#fbeeee" stroke="#c99494" stroke-width="0.65"/>
<circle cx="681.4" cy="71.9" r="1.6" fill="#fbeeee" stroke="#c99494" stroke-width="0.65"/>
<circle cx="677.9" cy="69.4" r="1.6" fill="#fbeeee" stroke="#c99494" stroke-width="0.65"/>
<circle cx="687.3" cy="73.7" r="1.6" fill="#fbeeee" stroke="#c99494" stroke-width="0.65"/>
<circle cx="685.4" cy="68.7" r="1.6" fill="#fbeeee" stroke="#c99494" stroke-width="0.65"/>
<circle cx="690.4" cy="74.9" r="1.6" fill="#fbeeee" stroke="#c99494" stroke-width="0.65"/>
<circle cx="694.3" cy="74.2" r="1.6" fill="#fbeeee" stroke="#c99494" stroke-width="0.65"/>
<circle cx="691.9" cy="84.7" r="1.6" fill="#fbeeee" stroke="#c99494" stroke-width="0.65"/>
<circle cx="693.7" cy="88.2" r="1.6" fill="#fbeeee" stroke="#c99494" stroke-width="0.65"/>
<circle cx="689.2" cy="89.5" r="1.6" fill="#fbeeee" stroke="#c99494" stroke-width="0.65"/>
<circle cx="689.8" cy="92.9" r="1.6" fill="#fbeeee" stroke="#c99494" stroke-width="0.65"/>
<circle cx="684.2" cy="93.5" r="1.6" fill="#fbeeee" stroke="#c99494" stroke-width="0.65"/>
<circle cx="689.2" cy="94.6" r="1.6" fill="#fbeeee" stroke="#c99494" stroke-width="0.65"/>
<circle cx="678.4" cy="93.3" r="1.6" fill="#fbeeee" stroke="#c99494" stroke-width="0.65"/>
<circle cx="680.3" cy="96.6" r="1.6" fill="#fbeeee" stroke="#c99494" stroke-width="0.65"/>
<circle cx="681.1" cy="40.2" r="4.7" fill="url(#gG2)"/>
<circle cx="716.1" cy="40.2" r="4.7" fill="url(#gG2)"/>
<circle cx="637.8" cy="61.8" r="4.7" fill="url(#gG2)"/>
<circle cx="675.8" cy="63.4" r="4.7" fill="url(#gG2)"/>
<circle cx="666.6" cy="70.6" r="4.7" fill="url(#gG2)"/>
<circle cx="703.1" cy="70.4" r="4.7" fill="url(#gG2)"/>
<circle cx="624.1" cy="92.5" r="4.7" fill="url(#gG2)"/>
<circle cx="660.5" cy="93.3" r="4.7" fill="url(#gG2)"/>
<circle cx="659.5" cy="50.8" r="6.6" fill="url(#gO2)"/>
<circle cx="657.0" cy="47.3" r="1.5" fill="#fbeaea" stroke="#d49c9c" stroke-width="0.5"/>
<circle cx="661.0" cy="46.6" r="1.5" fill="#fbeaea" stroke="#d49c9c" stroke-width="0.5"/>
<circle cx="694.4" cy="51.8" r="6.6" fill="url(#gO2)"/>
<circle cx="691.9" cy="48.3" r="1.5" fill="#fbeaea" stroke="#d49c9c" stroke-width="0.5"/>
<circle cx="695.9" cy="47.6" r="1.5" fill="#fbeaea" stroke="#d49c9c" stroke-width="0.5"/>
<circle cx="645.5" cy="82" r="6.6" fill="url(#gO2)"/>
<circle cx="643.0" cy="78.5" r="1.5" fill="#fbeaea" stroke="#d49c9c" stroke-width="0.5"/>
<circle cx="647.0" cy="77.8" r="1.5" fill="#fbeaea" stroke="#d49c9c" stroke-width="0.5"/>
<circle cx="681.1" cy="82" r="6.6" fill="url(#gO2)"/>
<circle cx="678.6" cy="78.5" r="1.5" fill="#fbeaea" stroke="#d49c9c" stroke-width="0.5"/>
<circle cx="682.6" cy="77.8" r="1.5" fill="#fbeaea" stroke="#d49c9c" stroke-width="0.5"/>
</g>
<text class="sf" x="619" y="133.7" font-size="14.5">280 GPa-MgP<tspan font-size="9.8" dy="4.8">2</tspan><tspan dy="-4.8">H</tspan><tspan font-size="9.8" dy="4.8">14</tspan></text>
</svg>
</body></html>
